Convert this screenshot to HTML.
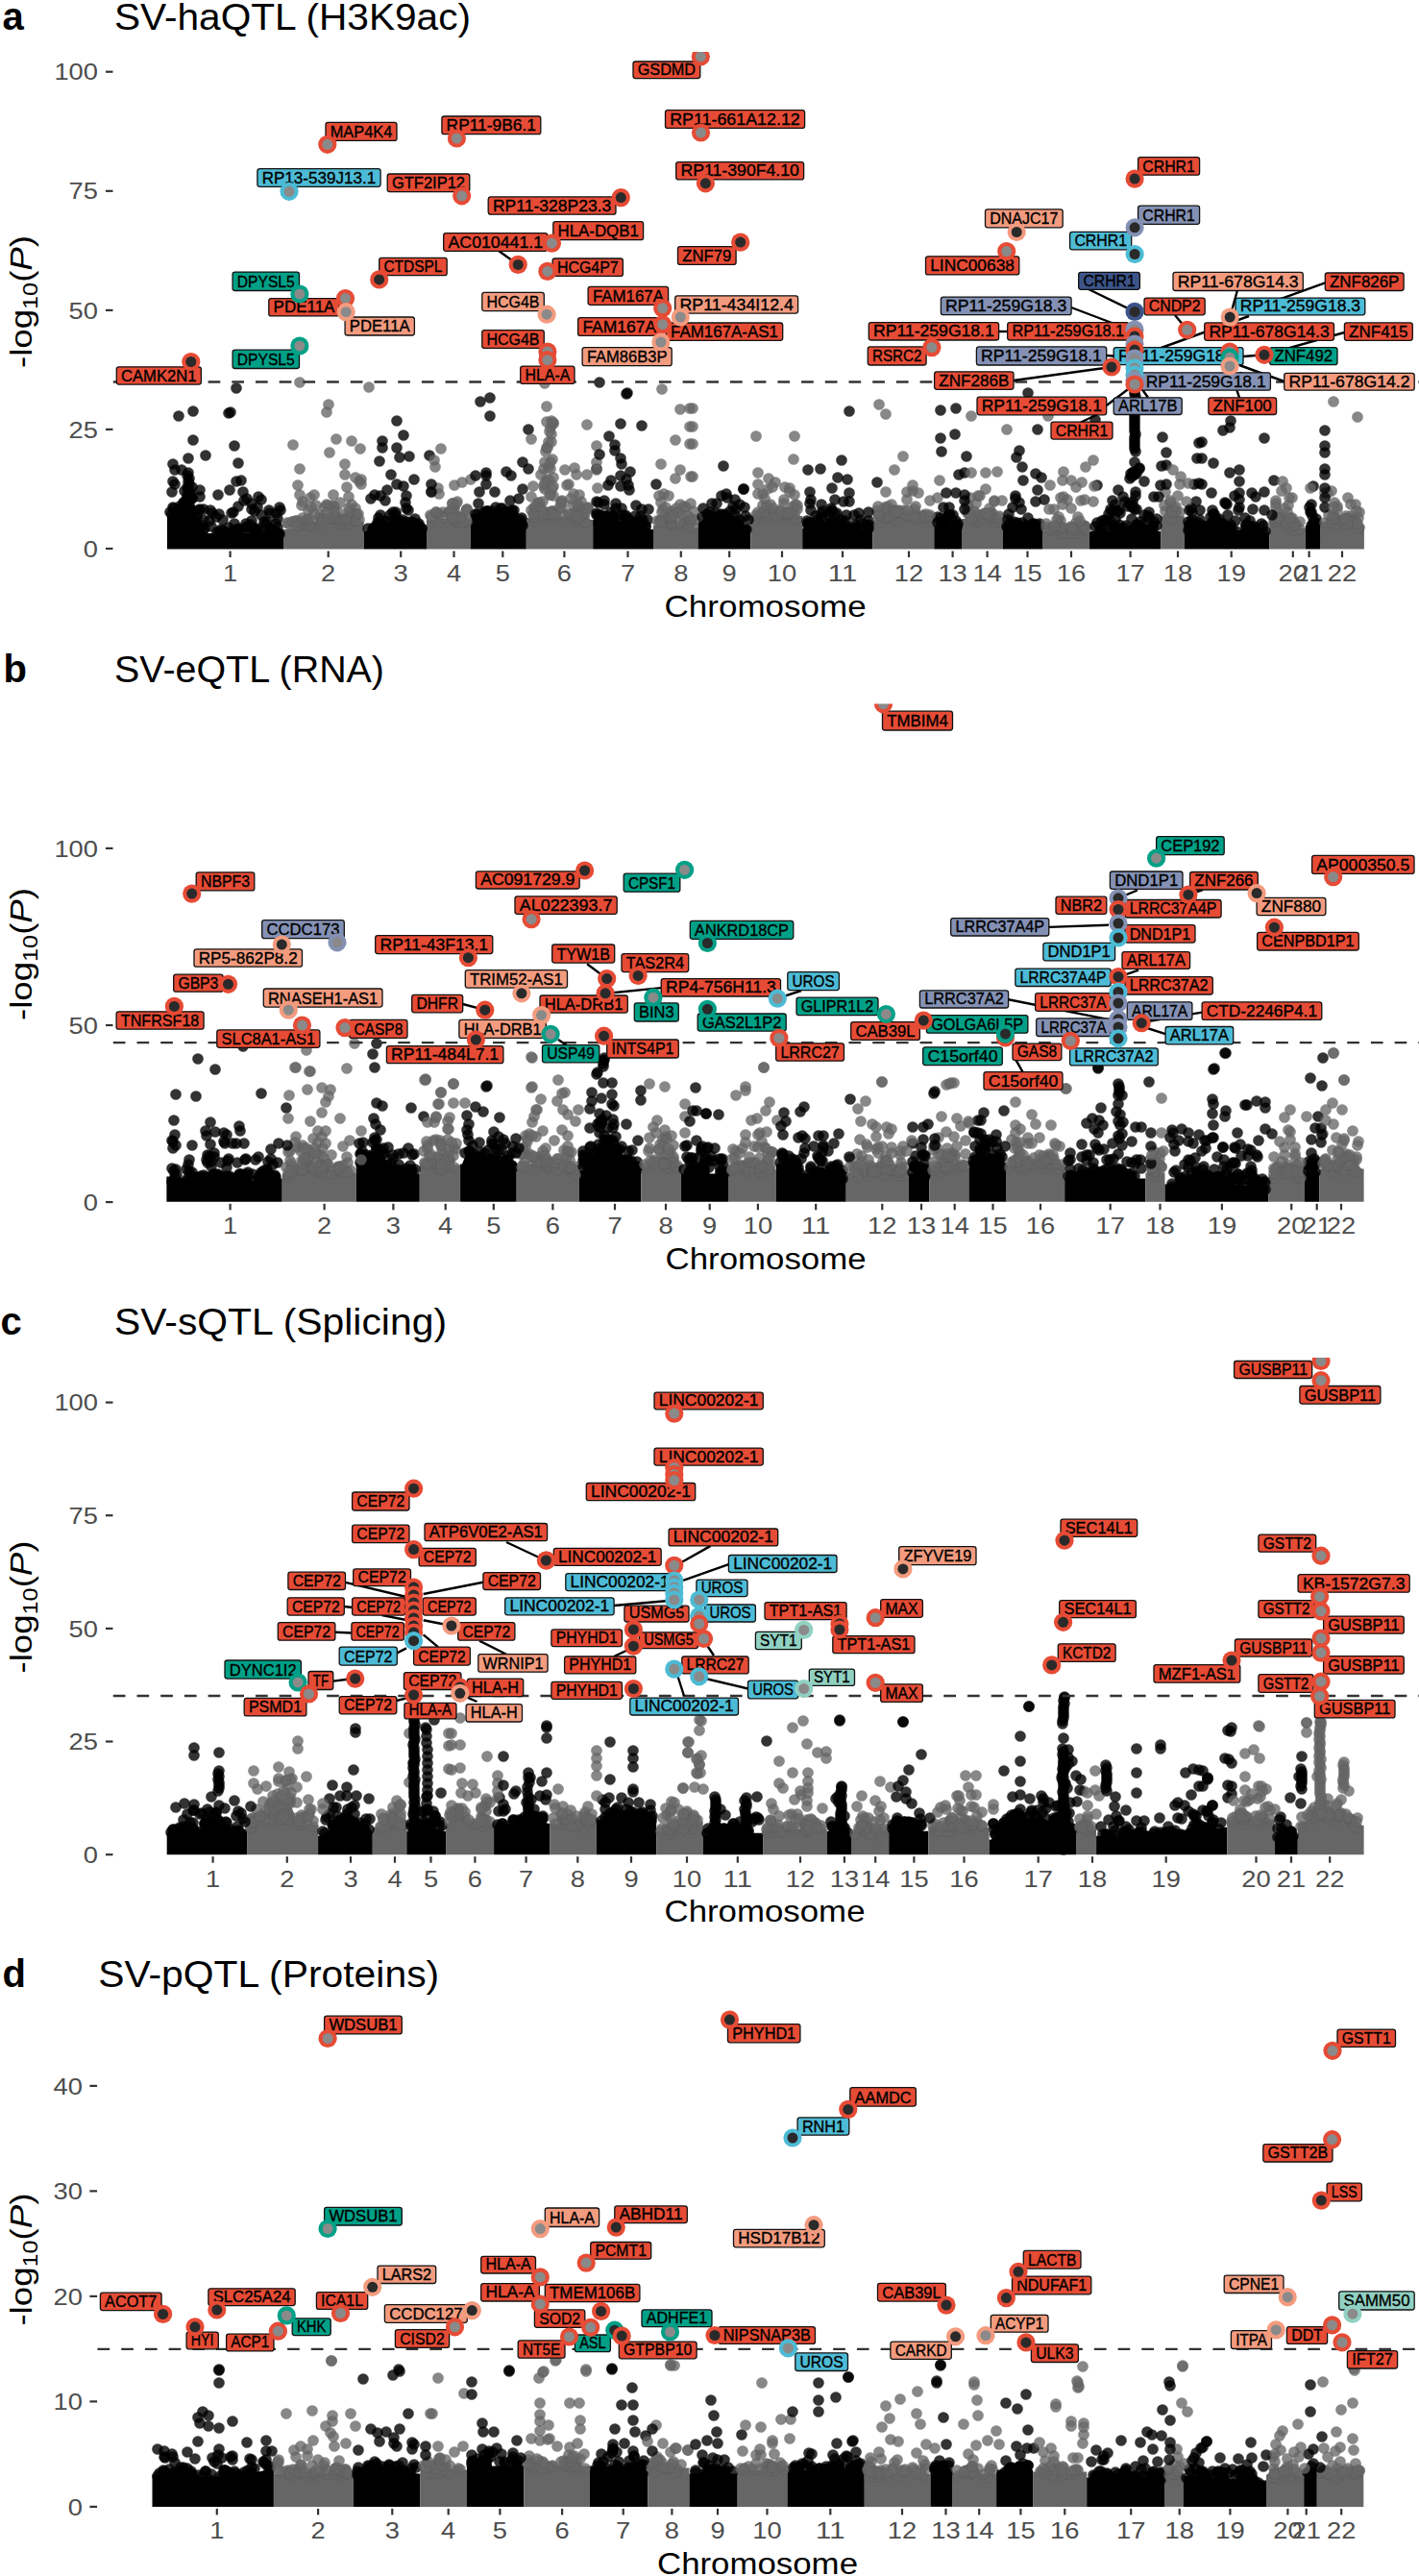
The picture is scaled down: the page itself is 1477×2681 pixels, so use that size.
<!DOCTYPE html><html><head><meta charset="utf-8"><style>html,body{margin:0;padding:0;background:#fff;overflow:hidden;}svg{display:block;}</style></head><body><svg width="1477" height="2681" viewBox="0 0 1477 2681" font-family="'Liberation Sans', sans-serif"><style>.k circle,.g circle{r:5.6px;stroke-width:.8px}.k{fill:#000;fill-opacity:.8;stroke:#000;stroke-opacity:.35}.g{fill:#666;fill-opacity:.78;stroke:#555;stroke-opacity:.35}</style><text x="2.5" y="30.6" font-size="40" fill="#000" font-weight="bold">a</text>
<text x="119.0" y="30.6" font-size="38" fill="#000" textLength="371.0" lengthAdjust="spacingAndGlyphs">SV-haQTL (H3K9ac)</text>
<line x1="110" y1="571.0" x2="117.5" y2="571.0" stroke="#333" stroke-width="2.2"/>
<text x="102.0" y="579.6" font-size="24.5" fill="#4D4D4D" text-anchor="end" textLength="15.2" lengthAdjust="spacingAndGlyphs">0</text>
<line x1="110" y1="446.9" x2="117.5" y2="446.9" stroke="#333" stroke-width="2.2"/>
<text x="102.0" y="455.5" font-size="24.5" fill="#4D4D4D" text-anchor="end" textLength="30.4" lengthAdjust="spacingAndGlyphs">25</text>
<line x1="110" y1="322.9" x2="117.5" y2="322.9" stroke="#333" stroke-width="2.2"/>
<text x="102.0" y="331.5" font-size="24.5" fill="#4D4D4D" text-anchor="end" textLength="30.4" lengthAdjust="spacingAndGlyphs">50</text>
<line x1="110" y1="198.8" x2="117.5" y2="198.8" stroke="#333" stroke-width="2.2"/>
<text x="102.0" y="207.4" font-size="24.5" fill="#4D4D4D" text-anchor="end" textLength="30.4" lengthAdjust="spacingAndGlyphs">75</text>
<line x1="110" y1="74.7" x2="117.5" y2="74.7" stroke="#333" stroke-width="2.2"/>
<text x="102.0" y="83.3" font-size="24.5" fill="#4D4D4D" text-anchor="end" textLength="45.6" lengthAdjust="spacingAndGlyphs">100</text>
<text transform="translate(32.6,314) rotate(-90)" font-size="32" fill="#000" text-anchor="middle" textLength="138" lengthAdjust="spacingAndGlyphs">-log<tspan font-size="22" dy="6">10</tspan><tspan dy="-6">(</tspan><tspan font-style="italic">P</tspan>)</text>
<line x1="239.6" y1="573.5" x2="239.6" y2="580.0" stroke="#333" stroke-width="2.2"/>
<text x="239.6" y="605.0" font-size="24.5" fill="#4D4D4D" text-anchor="middle" textLength="15.2" lengthAdjust="spacingAndGlyphs">1</text>
<line x1="341.7" y1="573.5" x2="341.7" y2="580.0" stroke="#333" stroke-width="2.2"/>
<text x="341.7" y="605.0" font-size="24.5" fill="#4D4D4D" text-anchor="middle" textLength="15.2" lengthAdjust="spacingAndGlyphs">2</text>
<line x1="417.2" y1="573.5" x2="417.2" y2="580.0" stroke="#333" stroke-width="2.2"/>
<text x="417.2" y="605.0" font-size="24.5" fill="#4D4D4D" text-anchor="middle" textLength="15.2" lengthAdjust="spacingAndGlyphs">3</text>
<line x1="472.5" y1="573.5" x2="472.5" y2="580.0" stroke="#333" stroke-width="2.2"/>
<text x="472.5" y="605.0" font-size="24.5" fill="#4D4D4D" text-anchor="middle" textLength="15.2" lengthAdjust="spacingAndGlyphs">4</text>
<line x1="523.3" y1="573.5" x2="523.3" y2="580.0" stroke="#333" stroke-width="2.2"/>
<text x="523.3" y="605.0" font-size="24.5" fill="#4D4D4D" text-anchor="middle" textLength="15.2" lengthAdjust="spacingAndGlyphs">5</text>
<line x1="587.4" y1="573.5" x2="587.4" y2="580.0" stroke="#333" stroke-width="2.2"/>
<text x="587.4" y="605.0" font-size="24.5" fill="#4D4D4D" text-anchor="middle" textLength="15.2" lengthAdjust="spacingAndGlyphs">6</text>
<line x1="653.5" y1="573.5" x2="653.5" y2="580.0" stroke="#333" stroke-width="2.2"/>
<text x="653.5" y="605.0" font-size="24.5" fill="#4D4D4D" text-anchor="middle" textLength="15.2" lengthAdjust="spacingAndGlyphs">7</text>
<line x1="708.8" y1="573.5" x2="708.8" y2="580.0" stroke="#333" stroke-width="2.2"/>
<text x="708.8" y="605.0" font-size="24.5" fill="#4D4D4D" text-anchor="middle" textLength="15.2" lengthAdjust="spacingAndGlyphs">8</text>
<line x1="759.2" y1="573.5" x2="759.2" y2="580.0" stroke="#333" stroke-width="2.2"/>
<text x="759.2" y="605.0" font-size="24.5" fill="#4D4D4D" text-anchor="middle" textLength="15.2" lengthAdjust="spacingAndGlyphs">9</text>
<line x1="814.0" y1="573.5" x2="814.0" y2="580.0" stroke="#333" stroke-width="2.2"/>
<text x="814.0" y="605.0" font-size="24.5" fill="#4D4D4D" text-anchor="middle" textLength="30.4" lengthAdjust="spacingAndGlyphs">10</text>
<line x1="877.0" y1="573.5" x2="877.0" y2="580.0" stroke="#333" stroke-width="2.2"/>
<text x="877.0" y="605.0" font-size="24.5" fill="#4D4D4D" text-anchor="middle" textLength="30.4" lengthAdjust="spacingAndGlyphs">11</text>
<line x1="946.0" y1="573.5" x2="946.0" y2="580.0" stroke="#333" stroke-width="2.2"/>
<text x="946.0" y="605.0" font-size="24.5" fill="#4D4D4D" text-anchor="middle" textLength="30.4" lengthAdjust="spacingAndGlyphs">12</text>
<line x1="991.6" y1="573.5" x2="991.6" y2="580.0" stroke="#333" stroke-width="2.2"/>
<text x="991.6" y="605.0" font-size="24.5" fill="#4D4D4D" text-anchor="middle" textLength="30.4" lengthAdjust="spacingAndGlyphs">13</text>
<line x1="1027.6" y1="573.5" x2="1027.6" y2="580.0" stroke="#333" stroke-width="2.2"/>
<text x="1027.6" y="605.0" font-size="24.5" fill="#4D4D4D" text-anchor="middle" textLength="30.4" lengthAdjust="spacingAndGlyphs">14</text>
<line x1="1069.5" y1="573.5" x2="1069.5" y2="580.0" stroke="#333" stroke-width="2.2"/>
<text x="1069.5" y="605.0" font-size="24.5" fill="#4D4D4D" text-anchor="middle" textLength="30.4" lengthAdjust="spacingAndGlyphs">15</text>
<line x1="1115.0" y1="573.5" x2="1115.0" y2="580.0" stroke="#333" stroke-width="2.2"/>
<text x="1115.0" y="605.0" font-size="24.5" fill="#4D4D4D" text-anchor="middle" textLength="30.4" lengthAdjust="spacingAndGlyphs">16</text>
<line x1="1176.6" y1="573.5" x2="1176.6" y2="580.0" stroke="#333" stroke-width="2.2"/>
<text x="1176.6" y="605.0" font-size="24.5" fill="#4D4D4D" text-anchor="middle" textLength="30.4" lengthAdjust="spacingAndGlyphs">17</text>
<line x1="1226.0" y1="573.5" x2="1226.0" y2="580.0" stroke="#333" stroke-width="2.2"/>
<text x="1226.0" y="605.0" font-size="24.5" fill="#4D4D4D" text-anchor="middle" textLength="30.4" lengthAdjust="spacingAndGlyphs">18</text>
<line x1="1281.7" y1="573.5" x2="1281.7" y2="580.0" stroke="#333" stroke-width="2.2"/>
<text x="1281.7" y="605.0" font-size="24.5" fill="#4D4D4D" text-anchor="middle" textLength="30.4" lengthAdjust="spacingAndGlyphs">19</text>
<line x1="1345.8" y1="573.5" x2="1345.8" y2="580.0" stroke="#333" stroke-width="2.2"/>
<text x="1345.8" y="605.0" font-size="24.5" fill="#4D4D4D" text-anchor="middle" textLength="30.4" lengthAdjust="spacingAndGlyphs">20</text>
<line x1="1362.6" y1="573.5" x2="1362.6" y2="580.0" stroke="#333" stroke-width="2.2"/>
<text x="1362.6" y="605.0" font-size="24.5" fill="#4D4D4D" text-anchor="middle" textLength="30.4" lengthAdjust="spacingAndGlyphs">21</text>
<line x1="1397.0" y1="573.5" x2="1397.0" y2="580.0" stroke="#333" stroke-width="2.2"/>
<text x="1397.0" y="605.0" font-size="24.5" fill="#4D4D4D" text-anchor="middle" textLength="30.4" lengthAdjust="spacingAndGlyphs">22</text>
<text x="691.6" y="642.0" font-size="31" fill="#000" textLength="210.0" lengthAdjust="spacingAndGlyphs">Chromosome</text>
<g><path d="M174.0,571.5 L174.0,537.1 L174.0,537.1 L176.0,537.1 L188.0,543.1 L192.0,522.1 L197.0,522.1 L201.0,547.1 L215.0,555.1 L240.0,555.1 L270.0,555.1 L292.0,551.1 L295.0,551.1 L295.0,551.1 L295.0,571.5Z" fill="#000"/><path d="M295.0,571.5 L295.0,551.1 L295.0,551.1 L297.0,551.1 L315.0,547.1 L330.0,543.1 L350.0,541.1 L375.0,543.1 L378.7,543.1 L378.7,543.1 L378.7,571.5Z" fill="#666"/><path d="M378.7,571.5 L378.7,553.1 L378.7,553.1 L381.0,553.1 L400.0,549.1 L420.0,549.1 L440.0,551.1 L444.0,551.1 L444.0,551.1 L444.0,571.5Z" fill="#000"/><path d="M444.0,571.5 L444.0,541.1 L444.0,541.1 L446.0,541.1 L470.0,539.1 L488.0,541.1 L489.7,541.1 L489.7,541.1 L489.7,571.5Z" fill="#666"/><path d="M489.7,571.5 L489.7,535.1 L489.7,535.1 L492.0,535.1 L510.0,539.1 L530.0,541.1 L546.0,543.1 L547.8,543.1 L547.8,543.1 L547.8,571.5Z" fill="#000"/><path d="M547.8,571.5 L547.8,539.1 L547.8,539.1 L550.0,539.1 L580.0,537.1 L600.0,539.1 L615.0,541.1 L617.2,541.1 L617.2,541.1 L617.2,571.5Z" fill="#666"/><path d="M617.2,571.5 L617.2,541.1 L617.2,541.1 L619.0,541.1 L640.0,541.1 L660.0,547.1 L678.0,551.1 L680.0,551.1 L680.0,551.1 L680.0,571.5Z" fill="#000"/><path d="M680.0,571.5 L680.0,547.1 L680.0,547.1 L682.0,547.1 L700.0,545.1 L724.0,549.1 L726.5,549.1 L726.5,549.1 L726.5,571.5Z" fill="#666"/><path d="M726.5,571.5 L726.5,543.1 L726.5,543.1 L728.0,543.1 L745.0,539.1 L760.0,545.1 L779.0,547.1 L781.3,547.1 L781.3,547.1 L781.3,571.5Z" fill="#000"/><path d="M781.3,571.5 L781.3,537.1 L781.3,537.1 L783.0,537.1 L833.0,537.1 L835.2,537.1 L835.2,537.1 L835.2,571.5Z" fill="#666"/><path d="M835.2,571.5 L835.2,550.1 L835.2,550.1 L837.0,550.1 L860.0,549.1 L880.0,550.1 L906.0,552.1 L908.2,552.1 L908.2,552.1 L908.2,571.5Z" fill="#000"/><path d="M908.2,571.5 L908.2,542.1 L908.2,542.1 L910.0,542.1 L940.0,537.1 L970.0,542.1 L972.3,542.1 L972.3,542.1 L972.3,571.5Z" fill="#666"/><path d="M972.3,571.5 L972.3,547.1 L972.3,547.1 L1001.0,547.1 L1001.0,547.1 L1001.0,571.5Z" fill="#000"/><path d="M1001.0,571.5 L1001.0,540.1 L1001.0,540.1 L1044.0,540.1 L1044.0,540.1 L1044.0,571.5Z" fill="#666"/><path d="M1044.0,571.5 L1044.0,550.1 L1044.0,550.1 L1085.6,550.1 L1085.6,550.1 L1085.6,571.5Z" fill="#000"/><path d="M1085.6,571.5 L1085.6,553.1 L1085.6,553.1 L1133.8,553.1 L1133.8,553.1 L1133.8,571.5Z" fill="#666"/><path d="M1133.8,571.5 L1133.8,553.1 L1133.8,553.1 L1208.2,553.1 L1208.2,553.1 L1208.2,571.5Z" fill="#000"/><path d="M1208.2,571.5 L1208.2,537.1 L1208.2,537.1 L1232.8,537.1 L1232.8,537.1 L1232.8,571.5Z" fill="#666"/><path d="M1232.8,571.5 L1232.8,549.1 L1232.8,549.1 L1235.0,549.1 L1280.0,551.1 L1319.0,555.1 L1321.2,555.1 L1321.2,555.1 L1321.2,571.5Z" fill="#000"/><path d="M1321.2,571.5 L1321.2,542.1 L1321.2,542.1 L1323.0,542.1 L1340.0,546.1 L1357.0,550.1 L1358.8,550.1 L1358.8,550.1 L1358.8,571.5Z" fill="#666"/><path d="M1358.8,571.5 L1358.8,547.1 L1358.8,547.1 L1374.0,547.1 L1374.0,547.1 L1374.0,571.5Z" fill="#000"/><path d="M1374.0,571.5 L1374.0,543.1 L1374.0,543.1 L1376.0,543.1 L1400.0,545.1 L1418.0,547.1 L1419.9,547.1 L1419.9,547.1 L1419.9,571.5Z" fill="#666"/></g>
<g class="k"><circle cx="229" cy="555"/><circle cx="283" cy="551"/><circle cx="235" cy="555"/><circle cx="198" cy="530"/><circle cx="249" cy="557"/><circle cx="188" cy="539"/><circle cx="188" cy="545"/><circle cx="257" cy="549"/><circle cx="290" cy="556"/><circle cx="252" cy="555"/><circle cx="195" cy="516"/><circle cx="238" cy="549"/><circle cx="199" cy="531"/><circle cx="181" cy="538"/><circle cx="228" cy="558"/><circle cx="237" cy="556"/><circle cx="234" cy="556"/><circle cx="230" cy="551"/><circle cx="291" cy="556"/><circle cx="273" cy="556"/><circle cx="213" cy="550"/><circle cx="210" cy="547"/><circle cx="265" cy="553"/><circle cx="274" cy="552"/><circle cx="287" cy="555"/><circle cx="177" cy="533"/><circle cx="281" cy="552"/><circle cx="289" cy="549"/><circle cx="186" cy="542"/><circle cx="266" cy="551"/><circle cx="187" cy="540"/><circle cx="288" cy="554"/><circle cx="191" cy="524"/><circle cx="189" cy="532"/><circle cx="268" cy="550"/><circle cx="241" cy="553"/><circle cx="199" cy="537"/><circle cx="192" cy="511"/><circle cx="191" cy="523"/><circle cx="202" cy="544"/><circle cx="288" cy="534"/><circle cx="212" cy="530"/><circle cx="201" cy="542"/><circle cx="275" cy="543"/><circle cx="189" cy="489"/><circle cx="202" cy="544"/><circle cx="266" cy="551"/><circle cx="211" cy="552"/><circle cx="188" cy="533"/><circle cx="205" cy="539"/><circle cx="220" cy="548"/><circle cx="287" cy="545"/><circle cx="243" cy="533"/><circle cx="198" cy="528"/><circle cx="281" cy="534"/><circle cx="206" cy="548"/><circle cx="262" cy="524"/><circle cx="200" cy="507"/><circle cx="278" cy="543"/><circle cx="226" cy="554"/><circle cx="182" cy="504"/><circle cx="205" cy="536"/><circle cx="207" cy="531"/><circle cx="246" cy="551"/><circle cx="197" cy="511"/><circle cx="185" cy="539"/><circle cx="241" cy="534"/><circle cx="248" cy="551"/><circle cx="282" cy="550"/><circle cx="179" cy="535"/><circle cx="228" cy="554"/><circle cx="198" cy="520"/><circle cx="243" cy="554"/><circle cx="219" cy="531"/><circle cx="289" cy="540"/><circle cx="256" cy="545"/><circle cx="193" cy="522"/><circle cx="179" cy="512"/><circle cx="257" cy="519"/><circle cx="180" cy="528"/><circle cx="232" cy="541"/><circle cx="214" cy="474"/><circle cx="186" cy="533"/><circle cx="262" cy="530"/><circle cx="262" cy="542"/><circle cx="268" cy="528"/><circle cx="218" cy="542"/><circle cx="280" cy="531"/><circle cx="225" cy="538"/><circle cx="276" cy="545"/><circle cx="249" cy="550"/><circle cx="244" cy="545"/><circle cx="187" cy="531"/><circle cx="291" cy="528"/><circle cx="261" cy="550"/><circle cx="261" cy="546"/><circle cx="228" cy="535"/><circle cx="187" cy="527"/><circle cx="181" cy="529"/><circle cx="232" cy="552"/><circle cx="257" cy="548"/><circle cx="248" cy="527"/><circle cx="207" cy="550"/><circle cx="212" cy="541"/></g>
<g class="g"><circle cx="314" cy="543"/><circle cx="368" cy="543"/><circle cx="332" cy="546"/><circle cx="324" cy="546"/><circle cx="314" cy="546"/><circle cx="360" cy="545"/><circle cx="366" cy="540"/><circle cx="343" cy="539"/><circle cx="309" cy="547"/><circle cx="363" cy="545"/><circle cx="353" cy="545"/><circle cx="320" cy="541"/><circle cx="333" cy="539"/><circle cx="315" cy="545"/><circle cx="347" cy="540"/><circle cx="323" cy="548"/><circle cx="374" cy="541"/><circle cx="304" cy="543"/><circle cx="366" cy="536"/><circle cx="353" cy="541"/><circle cx="322" cy="547"/><circle cx="300" cy="545"/><circle cx="333" cy="536"/><circle cx="362" cy="538"/><circle cx="309" cy="542"/><circle cx="347" cy="540"/><circle cx="347" cy="530"/><circle cx="361" cy="507"/><circle cx="351" cy="539"/><circle cx="335" cy="540"/><circle cx="299" cy="544"/><circle cx="353" cy="539"/><circle cx="319" cy="541"/><circle cx="352" cy="533"/><circle cx="346" cy="526"/><circle cx="329" cy="526"/><circle cx="368" cy="542"/><circle cx="370" cy="529"/><circle cx="308" cy="542"/><circle cx="347" cy="515"/><circle cx="327" cy="535"/><circle cx="366" cy="525"/><circle cx="371" cy="536"/><circle cx="348" cy="539"/><circle cx="354" cy="523"/><circle cx="348" cy="527"/><circle cx="315" cy="522"/><circle cx="374" cy="501"/><circle cx="340" cy="525"/><circle cx="323" cy="518"/><circle cx="364" cy="538"/><circle cx="305" cy="543"/><circle cx="341" cy="526"/><circle cx="336" cy="542"/><circle cx="361" cy="541"/><circle cx="360" cy="540"/><circle cx="324" cy="528"/><circle cx="309" cy="547"/><circle cx="338" cy="528"/><circle cx="363" cy="529"/><circle cx="371" cy="535"/><circle cx="371" cy="542"/><circle cx="315" cy="539"/><circle cx="321" cy="531"/><circle cx="348" cy="533"/><circle cx="363" cy="533"/><circle cx="322" cy="540"/><circle cx="363" cy="517"/><circle cx="314" cy="526"/><circle cx="373" cy="535"/><circle cx="342" cy="539"/><circle cx="340" cy="534"/></g>
<g class="k"><circle cx="418" cy="543"/><circle cx="439" cy="550"/><circle cx="406" cy="551"/><circle cx="415" cy="548"/><circle cx="423" cy="543"/><circle cx="414" cy="547"/><circle cx="438" cy="555"/><circle cx="398" cy="548"/><circle cx="389" cy="549"/><circle cx="430" cy="553"/><circle cx="410" cy="546"/><circle cx="393" cy="551"/><circle cx="436" cy="545"/><circle cx="428" cy="543"/><circle cx="393" cy="546"/><circle cx="422" cy="546"/><circle cx="403" cy="549"/><circle cx="388" cy="553"/><circle cx="389" cy="550"/><circle cx="397" cy="545"/><circle cx="413" cy="543"/><circle cx="404" cy="543"/><circle cx="413" cy="547"/><circle cx="394" cy="539"/><circle cx="419" cy="541"/><circle cx="432" cy="540"/><circle cx="432" cy="547"/><circle cx="425" cy="531"/><circle cx="435" cy="546"/><circle cx="401" cy="521"/><circle cx="395" cy="480"/><circle cx="434" cy="549"/><circle cx="396" cy="536"/><circle cx="397" cy="549"/><circle cx="431" cy="544"/><circle cx="428" cy="548"/><circle cx="406" cy="536"/><circle cx="383" cy="550"/><circle cx="422" cy="523"/><circle cx="439" cy="550"/><circle cx="412" cy="533"/><circle cx="412" cy="536"/><circle cx="393" cy="550"/><circle cx="388" cy="551"/><circle cx="414" cy="541"/><circle cx="415" cy="547"/><circle cx="393" cy="548"/><circle cx="431" cy="499"/><circle cx="436" cy="550"/><circle cx="386" cy="519"/><circle cx="409" cy="533"/><circle cx="401" cy="542"/><circle cx="412" cy="543"/><circle cx="417" cy="549"/><circle cx="423" cy="529"/><circle cx="393" cy="544"/></g>
<g class="g"><circle cx="476" cy="538"/><circle cx="455" cy="535"/><circle cx="467" cy="533"/><circle cx="482" cy="543"/><circle cx="475" cy="543"/><circle cx="472" cy="537"/><circle cx="471" cy="538"/><circle cx="486" cy="543"/><circle cx="457" cy="544"/><circle cx="476" cy="542"/><circle cx="479" cy="538"/><circle cx="482" cy="544"/><circle cx="474" cy="541"/><circle cx="477" cy="538"/><circle cx="476" cy="539"/><circle cx="461" cy="533"/><circle cx="448" cy="536"/><circle cx="472" cy="529"/><circle cx="456" cy="508"/><circle cx="473" cy="535"/><circle cx="473" cy="530"/><circle cx="468" cy="534"/><circle cx="486" cy="530"/><circle cx="475" cy="524"/><circle cx="486" cy="541"/><circle cx="471" cy="524"/><circle cx="457" cy="535"/><circle cx="449" cy="538"/><circle cx="462" cy="539"/><circle cx="457" cy="514"/><circle cx="469" cy="531"/><circle cx="485" cy="532"/><circle cx="486" cy="530"/><circle cx="479" cy="539"/><circle cx="471" cy="524"/><circle cx="449" cy="512"/><circle cx="454" cy="533"/><circle cx="454" cy="533"/><circle cx="471" cy="539"/></g>
<g class="k"><circle cx="542" cy="541"/><circle cx="520" cy="540"/><circle cx="512" cy="536"/><circle cx="527" cy="540"/><circle cx="508" cy="540"/><circle cx="508" cy="532"/><circle cx="506" cy="532"/><circle cx="501" cy="539"/><circle cx="513" cy="543"/><circle cx="532" cy="535"/><circle cx="544" cy="547"/><circle cx="497" cy="540"/><circle cx="515" cy="538"/><circle cx="543" cy="539"/><circle cx="520" cy="544"/><circle cx="530" cy="540"/><circle cx="543" cy="545"/><circle cx="524" cy="535"/><circle cx="525" cy="534"/><circle cx="504" cy="537"/><circle cx="520" cy="539"/><circle cx="516" cy="528"/><circle cx="516" cy="536"/><circle cx="523" cy="534"/><circle cx="533" cy="533"/><circle cx="544" cy="509"/><circle cx="531" cy="538"/><circle cx="499" cy="512"/><circle cx="533" cy="531"/><circle cx="512" cy="536"/><circle cx="528" cy="532"/><circle cx="523" cy="529"/><circle cx="532" cy="539"/><circle cx="506" cy="495"/><circle cx="540" cy="519"/><circle cx="495" cy="535"/><circle cx="507" cy="532"/><circle cx="525" cy="539"/><circle cx="521" cy="539"/><circle cx="498" cy="524"/><circle cx="521" cy="529"/><circle cx="512" cy="532"/><circle cx="504" cy="533"/><circle cx="531" cy="521"/><circle cx="497" cy="535"/><circle cx="535" cy="531"/><circle cx="533" cy="539"/><circle cx="515" cy="536"/><circle cx="535" cy="537"/><circle cx="527" cy="491"/></g>
<g class="g"><circle cx="572" cy="537"/><circle cx="598" cy="542"/><circle cx="578" cy="535"/><circle cx="557" cy="542"/><circle cx="556" cy="533"/><circle cx="587" cy="536"/><circle cx="594" cy="535"/><circle cx="600" cy="533"/><circle cx="565" cy="539"/><circle cx="556" cy="535"/><circle cx="597" cy="540"/><circle cx="569" cy="533"/><circle cx="574" cy="539"/><circle cx="574" cy="532"/><circle cx="596" cy="538"/><circle cx="609" cy="544"/><circle cx="608" cy="538"/><circle cx="601" cy="536"/><circle cx="571" cy="535"/><circle cx="610" cy="544"/><circle cx="567" cy="535"/><circle cx="574" cy="533"/><circle cx="576" cy="532"/><circle cx="563" cy="529"/><circle cx="601" cy="531"/><circle cx="604" cy="530"/><circle cx="562" cy="523"/><circle cx="606" cy="536"/><circle cx="553" cy="531"/><circle cx="585" cy="528"/><circle cx="612" cy="529"/><circle cx="602" cy="539"/><circle cx="585" cy="521"/><circle cx="556" cy="538"/><circle cx="597" cy="514"/><circle cx="556" cy="528"/><circle cx="560" cy="523"/><circle cx="592" cy="535"/><circle cx="565" cy="522"/><circle cx="584" cy="522"/><circle cx="576" cy="533"/><circle cx="612" cy="528"/><circle cx="582" cy="529"/><circle cx="596" cy="525"/><circle cx="609" cy="534"/><circle cx="603" cy="527"/><circle cx="605" cy="522"/><circle cx="603" cy="515"/><circle cx="611" cy="529"/><circle cx="584" cy="524"/><circle cx="601" cy="533"/><circle cx="578" cy="536"/><circle cx="598" cy="487"/><circle cx="575" cy="535"/><circle cx="564" cy="532"/><circle cx="569" cy="499"/><circle cx="555" cy="535"/><circle cx="558" cy="527"/><circle cx="600" cy="537"/></g>
<g class="k"><circle cx="624" cy="540"/><circle cx="653" cy="549"/><circle cx="623" cy="536"/><circle cx="631" cy="537"/><circle cx="634" cy="542"/><circle cx="654" cy="541"/><circle cx="631" cy="538"/><circle cx="630" cy="543"/><circle cx="638" cy="541"/><circle cx="666" cy="547"/><circle cx="635" cy="544"/><circle cx="672" cy="547"/><circle cx="651" cy="548"/><circle cx="648" cy="539"/><circle cx="623" cy="545"/><circle cx="666" cy="546"/><circle cx="650" cy="543"/><circle cx="636" cy="545"/><circle cx="657" cy="542"/><circle cx="621" cy="534"/><circle cx="641" cy="524"/><circle cx="661" cy="537"/><circle cx="629" cy="539"/><circle cx="639" cy="538"/><circle cx="669" cy="541"/><circle cx="656" cy="491"/><circle cx="636" cy="533"/><circle cx="629" cy="525"/><circle cx="621" cy="522"/><circle cx="668" cy="530"/><circle cx="625" cy="538"/><circle cx="661" cy="546"/><circle cx="647" cy="536"/><circle cx="674" cy="541"/><circle cx="669" cy="545"/><circle cx="665" cy="542"/><circle cx="672" cy="549"/><circle cx="667" cy="546"/><circle cx="651" cy="536"/><circle cx="629" cy="521"/><circle cx="638" cy="537"/><circle cx="625" cy="537"/><circle cx="647" cy="529"/><circle cx="641" cy="529"/><circle cx="626" cy="536"/><circle cx="646" cy="506"/><circle cx="667" cy="537"/><circle cx="621" cy="536"/><circle cx="660" cy="544"/><circle cx="652" cy="538"/><circle cx="621" cy="488"/><circle cx="665" cy="546"/><circle cx="655" cy="542"/></g>
<g class="g"><circle cx="698" cy="545"/><circle cx="695" cy="543"/><circle cx="699" cy="546"/><circle cx="694" cy="541"/><circle cx="712" cy="544"/><circle cx="721" cy="548"/><circle cx="712" cy="544"/><circle cx="716" cy="542"/><circle cx="689" cy="541"/><circle cx="710" cy="548"/><circle cx="691" cy="544"/><circle cx="717" cy="548"/><circle cx="687" cy="542"/><circle cx="690" cy="541"/><circle cx="700" cy="544"/><circle cx="720" cy="542"/><circle cx="704" cy="534"/><circle cx="714" cy="528"/><circle cx="699" cy="541"/><circle cx="700" cy="545"/><circle cx="699" cy="532"/><circle cx="722" cy="532"/><circle cx="710" cy="536"/><circle cx="684" cy="542"/><circle cx="697" cy="534"/><circle cx="688" cy="541"/><circle cx="704" cy="529"/><circle cx="716" cy="537"/><circle cx="690" cy="530"/><circle cx="719" cy="540"/><circle cx="697" cy="538"/><circle cx="689" cy="533"/><circle cx="723" cy="541"/><circle cx="712" cy="527"/><circle cx="691" cy="514"/><circle cx="708" cy="544"/><circle cx="687" cy="543"/><circle cx="706" cy="533"/><circle cx="696" cy="516"/></g>
<g class="k"><circle cx="747" cy="538"/><circle cx="736" cy="545"/><circle cx="736" cy="545"/><circle cx="756" cy="543"/><circle cx="757" cy="540"/><circle cx="774" cy="551"/><circle cx="769" cy="546"/><circle cx="736" cy="544"/><circle cx="744" cy="543"/><circle cx="741" cy="540"/><circle cx="770" cy="541"/><circle cx="756" cy="538"/><circle cx="731" cy="538"/><circle cx="777" cy="551"/><circle cx="762" cy="542"/><circle cx="762" cy="547"/><circle cx="748" cy="540"/><circle cx="769" cy="546"/><circle cx="739" cy="533"/><circle cx="737" cy="536"/><circle cx="757" cy="542"/><circle cx="755" cy="540"/><circle cx="757" cy="540"/><circle cx="761" cy="545"/><circle cx="762" cy="544"/><circle cx="776" cy="537"/><circle cx="752" cy="536"/><circle cx="760" cy="532"/><circle cx="766" cy="530"/><circle cx="753" cy="485"/><circle cx="770" cy="525"/><circle cx="750" cy="535"/><circle cx="757" cy="518"/><circle cx="755" cy="535"/><circle cx="751" cy="516"/><circle cx="745" cy="539"/><circle cx="765" cy="520"/><circle cx="765" cy="536"/><circle cx="766" cy="542"/><circle cx="758" cy="544"/><circle cx="736" cy="535"/><circle cx="754" cy="537"/><circle cx="732" cy="529"/><circle cx="755" cy="540"/><circle cx="745" cy="534"/><circle cx="741" cy="539"/><circle cx="774" cy="509"/></g>
<g class="g"><circle cx="816" cy="540"/><circle cx="805" cy="539"/><circle cx="795" cy="539"/><circle cx="811" cy="540"/><circle cx="789" cy="539"/><circle cx="791" cy="536"/><circle cx="830" cy="530"/><circle cx="796" cy="534"/><circle cx="800" cy="531"/><circle cx="827" cy="540"/><circle cx="803" cy="534"/><circle cx="812" cy="531"/><circle cx="786" cy="540"/><circle cx="799" cy="536"/><circle cx="829" cy="541"/><circle cx="807" cy="533"/><circle cx="799" cy="509"/><circle cx="827" cy="535"/><circle cx="824" cy="532"/><circle cx="807" cy="535"/><circle cx="826" cy="478"/><circle cx="794" cy="526"/><circle cx="794" cy="514"/><circle cx="787" cy="536"/><circle cx="819" cy="533"/><circle cx="827" cy="515"/><circle cx="818" cy="536"/><circle cx="817" cy="507"/><circle cx="806" cy="536"/><circle cx="795" cy="533"/><circle cx="818" cy="535"/><circle cx="793" cy="534"/><circle cx="816" cy="520"/><circle cx="802" cy="525"/><circle cx="826" cy="527"/><circle cx="795" cy="533"/><circle cx="828" cy="525"/><circle cx="798" cy="526"/><circle cx="789" cy="492"/><circle cx="805" cy="529"/><circle cx="810" cy="537"/><circle cx="813" cy="533"/><circle cx="796" cy="519"/><circle cx="789" cy="533"/><circle cx="820" cy="534"/></g>
<g class="k"><circle cx="857" cy="549"/><circle cx="851" cy="553"/><circle cx="904" cy="546"/><circle cx="869" cy="551"/><circle cx="864" cy="553"/><circle cx="872" cy="545"/><circle cx="875" cy="550"/><circle cx="862" cy="550"/><circle cx="890" cy="550"/><circle cx="872" cy="552"/><circle cx="884" cy="550"/><circle cx="902" cy="547"/><circle cx="890" cy="546"/><circle cx="879" cy="546"/><circle cx="868" cy="551"/><circle cx="891" cy="553"/><circle cx="854" cy="548"/><circle cx="853" cy="549"/><circle cx="872" cy="543"/><circle cx="878" cy="551"/><circle cx="877" cy="553"/><circle cx="850" cy="544"/><circle cx="840" cy="542"/><circle cx="867" cy="543"/><circle cx="856" cy="532"/><circle cx="843" cy="524"/><circle cx="876" cy="541"/><circle cx="891" cy="548"/><circle cx="848" cy="546"/><circle cx="841" cy="546"/><circle cx="880" cy="542"/><circle cx="856" cy="539"/><circle cx="844" cy="531"/><circle cx="850" cy="546"/><circle cx="849" cy="537"/><circle cx="894" cy="534"/><circle cx="843" cy="544"/><circle cx="863" cy="547"/><circle cx="903" cy="551"/><circle cx="871" cy="534"/><circle cx="904" cy="550"/><circle cx="869" cy="535"/><circle cx="841" cy="547"/><circle cx="898" cy="550"/><circle cx="865" cy="545"/><circle cx="867" cy="549"/><circle cx="841" cy="489"/><circle cx="889" cy="536"/><circle cx="854" cy="546"/><circle cx="875" cy="547"/><circle cx="869" cy="520"/><circle cx="863" cy="545"/><circle cx="904" cy="542"/><circle cx="841" cy="544"/><circle cx="882" cy="550"/><circle cx="861" cy="536"/><circle cx="896" cy="541"/><circle cx="897" cy="545"/><circle cx="865" cy="529"/><circle cx="864" cy="533"/><circle cx="853" cy="545"/><circle cx="851" cy="541"/></g>
<g class="g"><circle cx="921" cy="536"/><circle cx="924" cy="538"/><circle cx="929" cy="537"/><circle cx="969" cy="543"/><circle cx="961" cy="536"/><circle cx="934" cy="532"/><circle cx="951" cy="536"/><circle cx="927" cy="533"/><circle cx="922" cy="536"/><circle cx="934" cy="542"/><circle cx="953" cy="535"/><circle cx="932" cy="533"/><circle cx="965" cy="539"/><circle cx="955" cy="541"/><circle cx="964" cy="535"/><circle cx="930" cy="536"/><circle cx="916" cy="544"/><circle cx="930" cy="541"/><circle cx="941" cy="531"/><circle cx="934" cy="534"/><circle cx="914" cy="540"/><circle cx="946" cy="538"/><circle cx="929" cy="533"/><circle cx="943" cy="536"/><circle cx="952" cy="536"/><circle cx="953" cy="527"/><circle cx="920" cy="538"/><circle cx="928" cy="525"/><circle cx="935" cy="533"/><circle cx="961" cy="538"/><circle cx="928" cy="534"/><circle cx="924" cy="539"/><circle cx="913" cy="531"/><circle cx="944" cy="520"/><circle cx="968" cy="538"/><circle cx="950" cy="511"/><circle cx="924" cy="527"/><circle cx="950" cy="505"/><circle cx="961" cy="538"/><circle cx="948" cy="537"/><circle cx="936" cy="532"/><circle cx="915" cy="536"/><circle cx="930" cy="531"/><circle cx="928" cy="537"/><circle cx="935" cy="531"/><circle cx="921" cy="528"/><circle cx="925" cy="538"/><circle cx="931" cy="533"/><circle cx="920" cy="531"/><circle cx="952" cy="530"/><circle cx="952" cy="539"/><circle cx="934" cy="533"/><circle cx="915" cy="536"/><circle cx="915" cy="534"/><circle cx="945" cy="531"/></g>
<g class="k"><circle cx="983" cy="543"/><circle cx="976" cy="544"/><circle cx="995" cy="547"/><circle cx="981" cy="548"/><circle cx="980" cy="546"/><circle cx="989" cy="551"/><circle cx="984" cy="547"/><circle cx="996" cy="549"/><circle cx="989" cy="536"/><circle cx="985" cy="541"/><circle cx="982" cy="528"/><circle cx="995" cy="542"/><circle cx="996" cy="547"/><circle cx="979" cy="539"/><circle cx="982" cy="542"/><circle cx="997" cy="545"/><circle cx="980" cy="544"/><circle cx="991" cy="544"/><circle cx="976" cy="538"/><circle cx="984" cy="544"/><circle cx="987" cy="536"/><circle cx="988" cy="536"/><circle cx="988" cy="528"/></g>
<g class="g"><circle cx="1040" cy="537"/><circle cx="1017" cy="543"/><circle cx="1016" cy="541"/><circle cx="1030" cy="541"/><circle cx="1039" cy="543"/><circle cx="1010" cy="540"/><circle cx="1022" cy="540"/><circle cx="1018" cy="537"/><circle cx="1032" cy="539"/><circle cx="1013" cy="536"/><circle cx="1016" cy="535"/><circle cx="1023" cy="535"/><circle cx="1007" cy="534"/><circle cx="1008" cy="527"/><circle cx="1008" cy="533"/><circle cx="1032" cy="533"/><circle cx="1010" cy="518"/><circle cx="1036" cy="539"/><circle cx="1014" cy="532"/><circle cx="1033" cy="535"/><circle cx="1030" cy="537"/><circle cx="1030" cy="536"/><circle cx="1016" cy="524"/><circle cx="1035" cy="521"/><circle cx="1025" cy="534"/><circle cx="1030" cy="529"/><circle cx="1035" cy="522"/><circle cx="1009" cy="535"/><circle cx="1029" cy="537"/><circle cx="1011" cy="540"/><circle cx="1026" cy="509"/><circle cx="1040" cy="539"/><circle cx="1029" cy="534"/><circle cx="1027" cy="535"/><circle cx="1038" cy="491"/><circle cx="1006" cy="526"/></g>
<g class="k"><circle cx="1051" cy="544"/><circle cx="1057" cy="552"/><circle cx="1082" cy="545"/><circle cx="1059" cy="544"/><circle cx="1066" cy="549"/><circle cx="1060" cy="547"/><circle cx="1075" cy="553"/><circle cx="1057" cy="548"/><circle cx="1069" cy="552"/><circle cx="1082" cy="548"/><circle cx="1072" cy="549"/><circle cx="1075" cy="545"/><circle cx="1053" cy="549"/><circle cx="1080" cy="547"/><circle cx="1064" cy="549"/><circle cx="1059" cy="550"/><circle cx="1067" cy="548"/><circle cx="1069" cy="547"/><circle cx="1055" cy="543"/><circle cx="1060" cy="547"/><circle cx="1049" cy="549"/><circle cx="1078" cy="546"/><circle cx="1050" cy="548"/><circle cx="1064" cy="486"/><circle cx="1054" cy="528"/><circle cx="1064" cy="544"/><circle cx="1076" cy="545"/><circle cx="1049" cy="541"/><circle cx="1070" cy="539"/><circle cx="1057" cy="519"/><circle cx="1078" cy="493"/><circle cx="1063" cy="530"/><circle cx="1073" cy="548"/><circle cx="1048" cy="548"/><circle cx="1052" cy="549"/></g>
<g class="g"><circle cx="1104" cy="555"/><circle cx="1102" cy="552"/><circle cx="1089" cy="549"/><circle cx="1129" cy="547"/><circle cx="1111" cy="555"/><circle cx="1122" cy="555"/><circle cx="1106" cy="555"/><circle cx="1123" cy="555"/><circle cx="1130" cy="548"/><circle cx="1128" cy="551"/><circle cx="1118" cy="549"/><circle cx="1127" cy="547"/><circle cx="1113" cy="549"/><circle cx="1105" cy="551"/><circle cx="1116" cy="555"/><circle cx="1104" cy="542"/><circle cx="1104" cy="549"/><circle cx="1127" cy="549"/><circle cx="1093" cy="549"/><circle cx="1120" cy="550"/><circle cx="1120" cy="544"/><circle cx="1117" cy="551"/><circle cx="1093" cy="551"/><circle cx="1103" cy="547"/><circle cx="1089" cy="545"/><circle cx="1106" cy="549"/><circle cx="1111" cy="520"/><circle cx="1097" cy="530"/><circle cx="1102" cy="538"/><circle cx="1093" cy="505"/><circle cx="1107" cy="517"/><circle cx="1098" cy="547"/><circle cx="1118" cy="551"/><circle cx="1100" cy="541"/><circle cx="1128" cy="549"/><circle cx="1097" cy="548"/><circle cx="1130" cy="551"/><circle cx="1115" cy="548"/><circle cx="1116" cy="550"/><circle cx="1115" cy="529"/><circle cx="1124" cy="542"/></g>
<g class="k"><circle cx="1171" cy="553"/><circle cx="1145" cy="556"/><circle cx="1184" cy="551"/><circle cx="1182" cy="551"/><circle cx="1163" cy="549"/><circle cx="1178" cy="553"/><circle cx="1172" cy="547"/><circle cx="1180" cy="551"/><circle cx="1177" cy="553"/><circle cx="1200" cy="548"/><circle cx="1169" cy="558"/><circle cx="1187" cy="550"/><circle cx="1187" cy="557"/><circle cx="1164" cy="556"/><circle cx="1146" cy="557"/><circle cx="1170" cy="549"/><circle cx="1194" cy="554"/><circle cx="1201" cy="556"/><circle cx="1191" cy="552"/><circle cx="1204" cy="547"/><circle cx="1196" cy="554"/><circle cx="1154" cy="555"/><circle cx="1168" cy="552"/><circle cx="1196" cy="551"/><circle cx="1156" cy="542"/><circle cx="1142" cy="544"/><circle cx="1190" cy="546"/><circle cx="1154" cy="535"/><circle cx="1195" cy="537"/><circle cx="1174" cy="527"/><circle cx="1191" cy="551"/><circle cx="1162" cy="552"/><circle cx="1140" cy="548"/><circle cx="1196" cy="533"/><circle cx="1145" cy="551"/><circle cx="1163" cy="532"/><circle cx="1179" cy="528"/><circle cx="1142" cy="505"/><circle cx="1151" cy="542"/><circle cx="1196" cy="539"/><circle cx="1150" cy="541"/><circle cx="1166" cy="553"/><circle cx="1160" cy="549"/><circle cx="1180" cy="550"/><circle cx="1178" cy="540"/><circle cx="1149" cy="552"/><circle cx="1184" cy="546"/><circle cx="1146" cy="552"/><circle cx="1201" cy="543"/><circle cx="1161" cy="551"/><circle cx="1204" cy="540"/><circle cx="1187" cy="548"/><circle cx="1158" cy="547"/><circle cx="1147" cy="542"/><circle cx="1166" cy="534"/><circle cx="1165" cy="546"/><circle cx="1171" cy="522"/><circle cx="1161" cy="540"/><circle cx="1153" cy="544"/><circle cx="1156" cy="530"/><circle cx="1157" cy="532"/><circle cx="1183" cy="546"/><circle cx="1200" cy="548"/><circle cx="1187" cy="543"/></g>
<g class="g"><circle cx="1220" cy="531"/><circle cx="1219" cy="534"/><circle cx="1219" cy="541"/><circle cx="1217" cy="538"/><circle cx="1224" cy="533"/><circle cx="1219" cy="532"/><circle cx="1228" cy="533"/><circle cx="1219" cy="533"/><circle cx="1226" cy="516"/><circle cx="1222" cy="528"/><circle cx="1213" cy="512"/><circle cx="1213" cy="532"/><circle cx="1218" cy="523"/><circle cx="1224" cy="532"/><circle cx="1228" cy="504"/><circle cx="1212" cy="526"/><circle cx="1220" cy="532"/><circle cx="1220" cy="533"/><circle cx="1224" cy="527"/><circle cx="1229" cy="496"/></g>
<g class="k"><circle cx="1317" cy="553"/><circle cx="1304" cy="554"/><circle cx="1293" cy="557"/><circle cx="1242" cy="548"/><circle cx="1269" cy="551"/><circle cx="1254" cy="554"/><circle cx="1253" cy="547"/><circle cx="1248" cy="547"/><circle cx="1297" cy="547"/><circle cx="1250" cy="550"/><circle cx="1287" cy="553"/><circle cx="1257" cy="552"/><circle cx="1296" cy="555"/><circle cx="1246" cy="548"/><circle cx="1237" cy="552"/><circle cx="1313" cy="558"/><circle cx="1238" cy="546"/><circle cx="1280" cy="550"/><circle cx="1245" cy="552"/><circle cx="1261" cy="549"/><circle cx="1246" cy="549"/><circle cx="1247" cy="544"/><circle cx="1278" cy="548"/><circle cx="1300" cy="549"/><circle cx="1270" cy="545"/><circle cx="1254" cy="548"/><circle cx="1282" cy="550"/><circle cx="1306" cy="553"/><circle cx="1306" cy="552"/><circle cx="1315" cy="547"/><circle cx="1269" cy="540"/><circle cx="1307" cy="517"/><circle cx="1270" cy="551"/><circle cx="1249" cy="531"/><circle cx="1296" cy="539"/><circle cx="1249" cy="541"/><circle cx="1238" cy="548"/><circle cx="1261" cy="513"/><circle cx="1289" cy="531"/><circle cx="1240" cy="543"/><circle cx="1243" cy="546"/><circle cx="1245" cy="522"/><circle cx="1263" cy="543"/><circle cx="1290" cy="528"/><circle cx="1313" cy="545"/><circle cx="1277" cy="525"/><circle cx="1268" cy="547"/><circle cx="1297" cy="550"/><circle cx="1266" cy="544"/><circle cx="1275" cy="546"/><circle cx="1271" cy="544"/><circle cx="1240" cy="529"/><circle cx="1241" cy="541"/><circle cx="1281" cy="546"/><circle cx="1254" cy="549"/><circle cx="1267" cy="546"/><circle cx="1276" cy="548"/><circle cx="1297" cy="546"/><circle cx="1237" cy="543"/><circle cx="1315" cy="555"/><circle cx="1285" cy="516"/><circle cx="1266" cy="540"/><circle cx="1266" cy="547"/><circle cx="1286" cy="542"/><circle cx="1262" cy="543"/><circle cx="1278" cy="536"/><circle cx="1240" cy="548"/><circle cx="1257" cy="547"/><circle cx="1301" cy="547"/><circle cx="1306" cy="548"/><circle cx="1260" cy="538"/><circle cx="1243" cy="504"/><circle cx="1304" cy="549"/><circle cx="1262" cy="531"/><circle cx="1301" cy="542"/><circle cx="1241" cy="533"/></g>
<g class="g"><circle cx="1326" cy="543"/><circle cx="1342" cy="550"/><circle cx="1344" cy="541"/><circle cx="1353" cy="551"/><circle cx="1342" cy="540"/><circle cx="1347" cy="546"/><circle cx="1346" cy="552"/><circle cx="1353" cy="543"/><circle cx="1349" cy="546"/><circle cx="1348" cy="545"/><circle cx="1338" cy="544"/><circle cx="1328" cy="539"/><circle cx="1347" cy="547"/><circle cx="1328" cy="524"/><circle cx="1345" cy="539"/><circle cx="1328" cy="542"/><circle cx="1334" cy="511"/><circle cx="1342" cy="518"/><circle cx="1331" cy="538"/><circle cx="1341" cy="526"/><circle cx="1328" cy="521"/><circle cx="1339" cy="546"/><circle cx="1338" cy="540"/><circle cx="1345" cy="518"/><circle cx="1340" cy="533"/><circle cx="1337" cy="529"/><circle cx="1328" cy="528"/><circle cx="1330" cy="534"/><circle cx="1331" cy="539"/><circle cx="1330" cy="539"/><circle cx="1343" cy="539"/></g>
<g class="k"><circle cx="1365" cy="547"/><circle cx="1369" cy="544"/><circle cx="1367" cy="546"/><circle cx="1370" cy="544"/><circle cx="1368" cy="544"/><circle cx="1364" cy="533"/><circle cx="1367" cy="544"/><circle cx="1363" cy="528"/><circle cx="1365" cy="533"/><circle cx="1366" cy="537"/><circle cx="1367" cy="506"/><circle cx="1370" cy="540"/></g>
<g class="g"><circle cx="1396" cy="541"/><circle cx="1407" cy="540"/><circle cx="1389" cy="547"/><circle cx="1379" cy="544"/><circle cx="1400" cy="545"/><circle cx="1390" cy="539"/><circle cx="1415" cy="549"/><circle cx="1409" cy="540"/><circle cx="1408" cy="542"/><circle cx="1385" cy="543"/><circle cx="1401" cy="540"/><circle cx="1407" cy="546"/><circle cx="1413" cy="550"/><circle cx="1404" cy="543"/><circle cx="1415" cy="533"/><circle cx="1389" cy="523"/><circle cx="1406" cy="542"/><circle cx="1387" cy="544"/><circle cx="1398" cy="542"/><circle cx="1389" cy="541"/><circle cx="1383" cy="536"/><circle cx="1388" cy="540"/><circle cx="1388" cy="536"/><circle cx="1412" cy="544"/><circle cx="1411" cy="525"/><circle cx="1401" cy="537"/><circle cx="1406" cy="537"/><circle cx="1403" cy="518"/><circle cx="1408" cy="543"/><circle cx="1379" cy="513"/><circle cx="1392" cy="527"/><circle cx="1387" cy="537"/><circle cx="1392" cy="530"/><circle cx="1414" cy="539"/><circle cx="1400" cy="540"/><circle cx="1386" cy="511"/><circle cx="1382" cy="513"/><circle cx="1403" cy="545"/><circle cx="1413" cy="545"/></g>
<g class="k"><circle cx="186" cy="433"/><circle cx="201" cy="428"/><circle cx="201" cy="458"/><circle cx="196" cy="477"/><circle cx="180" cy="483"/><circle cx="182" cy="489"/><circle cx="180" cy="501"/><circle cx="246" cy="404"/><circle cx="238" cy="430"/><circle cx="240" cy="429"/><circle cx="244" cy="464"/><circle cx="248" cy="482"/><circle cx="246" cy="501"/><circle cx="251" cy="500"/><circle cx="227" cy="515"/><circle cx="239" cy="510"/><circle cx="253" cy="512"/><circle cx="254" cy="521"/><circle cx="269" cy="517"/><circle cx="272" cy="520"/><circle cx="208" cy="510"/><circle cx="208" cy="517"/><circle cx="208" cy="530"/><circle cx="221" cy="534"/><circle cx="265" cy="532"/><circle cx="272" cy="536"/><circle cx="292" cy="531"/></g>
<g class="g"><circle cx="312" cy="398"/><circle cx="384" cy="403"/><circle cx="342" cy="421"/><circle cx="340" cy="429"/><circle cx="305" cy="463"/><circle cx="350" cy="457"/><circle cx="366" cy="459"/><circle cx="375" cy="467"/><circle cx="343" cy="471"/><circle cx="312" cy="488"/><circle cx="359" cy="483"/><circle cx="359" cy="494"/><circle cx="370" cy="497"/><circle cx="376" cy="499"/><circle cx="376" cy="504"/><circle cx="310" cy="505"/><circle cx="312" cy="515"/><circle cx="327" cy="515"/></g>
<g class="k"><circle cx="413" cy="438"/><circle cx="420" cy="453"/><circle cx="398" cy="459"/><circle cx="398" cy="466"/><circle cx="413" cy="466"/><circle cx="416" cy="476"/><circle cx="426" cy="475"/><circle cx="407" cy="494"/><circle cx="390" cy="515"/><circle cx="396" cy="516"/><circle cx="403" cy="510"/><circle cx="413" cy="504"/><circle cx="420" cy="506"/><circle cx="423" cy="516"/><circle cx="447" cy="474"/><circle cx="449" cy="504"/><circle cx="449" cy="512"/></g>
<g class="g"><circle cx="459" cy="467"/><circle cx="452" cy="479"/><circle cx="453" cy="486"/><circle cx="473" cy="505"/><circle cx="481" cy="502"/><circle cx="490" cy="499"/><circle cx="476" cy="522"/></g>
<g class="k"><circle cx="500" cy="418"/><circle cx="510" cy="414"/><circle cx="510" cy="433"/><circle cx="495" cy="495"/><circle cx="506" cy="492"/><circle cx="506" cy="504"/><circle cx="515" cy="512"/><circle cx="532" cy="495"/><circle cx="544" cy="481"/><circle cx="550" cy="488"/><circle cx="550" cy="447"/></g>
<g class="g"><circle cx="567" cy="399"/><circle cx="569" cy="423"/><circle cx="553" cy="457"/><circle cx="555" cy="506"/><circle cx="553" cy="517"/><circle cx="563" cy="494"/><circle cx="588" cy="489"/><circle cx="592" cy="504"/><circle cx="590" cy="505"/><circle cx="600" cy="494"/><circle cx="611" cy="494"/><circle cx="611" cy="442"/><circle cx="621" cy="464"/><circle cx="621" cy="481"/><circle cx="621" cy="489"/><circle cx="622" cy="508"/><circle cx="594" cy="519"/><circle cx="601" cy="525"/><circle cx="573" cy="445"/><circle cx="574" cy="452"/><circle cx="571" cy="460"/><circle cx="568" cy="470"/><circle cx="575" cy="478"/><circle cx="566" cy="488"/><circle cx="576" cy="497"/></g>
<g class="k"><circle cx="624" cy="398"/><circle cx="652" cy="410"/><circle cx="646" cy="441"/><circle cx="668" cy="443"/><circle cx="634" cy="454"/><circle cx="640" cy="463"/><circle cx="640" cy="469"/><circle cx="624" cy="473"/><circle cx="646" cy="477"/><circle cx="647" cy="483"/><circle cx="646" cy="495"/><circle cx="652" cy="499"/><circle cx="654" cy="505"/><circle cx="655" cy="510"/><circle cx="636" cy="500"/><circle cx="633" cy="505"/><circle cx="683" cy="504"/><circle cx="662" cy="526"/><circle cx="675" cy="530"/><circle cx="623" cy="523"/><circle cx="653" cy="409"/></g>
<g class="g"><circle cx="689" cy="405"/><circle cx="708" cy="426"/><circle cx="718" cy="425"/><circle cx="718" cy="444"/><circle cx="703" cy="458"/><circle cx="718" cy="462"/><circle cx="688" cy="483"/><circle cx="708" cy="489"/><circle cx="703" cy="498"/><circle cx="719" cy="496"/><circle cx="686" cy="516"/><circle cx="688" cy="523"/><circle cx="693" cy="528"/><circle cx="708" cy="525"/><circle cx="719" cy="524"/><circle cx="700" cy="537"/><circle cx="721" cy="425"/><circle cx="721" cy="444"/><circle cx="721" cy="462"/><circle cx="721" cy="496"/></g>
<g class="k"><circle cx="756" cy="514"/><circle cx="774" cy="509"/><circle cx="741" cy="524"/><circle cx="746" cy="524"/><circle cx="763" cy="527"/><circle cx="775" cy="528"/><circle cx="779" cy="541"/></g>
<g class="g"><circle cx="787" cy="454"/><circle cx="827" cy="454"/><circle cx="800" cy="498"/><circle cx="807" cy="502"/><circle cx="804" cy="507"/><circle cx="789" cy="504"/><circle cx="789" cy="514"/><circle cx="822" cy="508"/><circle cx="822" cy="512"/><circle cx="816" cy="524"/><circle cx="830" cy="526"/></g>
<g class="k"><circle cx="884" cy="428"/><circle cx="876" cy="479"/><circle cx="854" cy="488"/><circle cx="872" cy="497"/><circle cx="882" cy="499"/><circle cx="866" cy="508"/><circle cx="843" cy="512"/><circle cx="844" cy="520"/><circle cx="884" cy="513"/><circle cx="884" cy="522"/><circle cx="878" cy="522"/><circle cx="855" cy="525"/><circle cx="855" cy="535"/><circle cx="866" cy="531"/><circle cx="904" cy="533"/><circle cx="881" cy="536"/><circle cx="913" cy="502"/></g>
<g class="g"><circle cx="915" cy="421"/><circle cx="922" cy="431"/><circle cx="940" cy="475"/><circle cx="931" cy="489"/><circle cx="922" cy="512"/><circle cx="944" cy="512"/><circle cx="956" cy="513"/><circle cx="978" cy="500"/><circle cx="968" cy="521"/><circle cx="976" cy="518"/><circle cx="914" cy="527"/><circle cx="968" cy="536"/></g>
<g class="k"><circle cx="979" cy="427"/><circle cx="995" cy="425"/><circle cx="979" cy="456"/><circle cx="994" cy="452"/><circle cx="980" cy="470"/><circle cx="1006" cy="475"/><circle cx="998" cy="494"/><circle cx="1004" cy="492"/><circle cx="985" cy="513"/><circle cx="995" cy="513"/><circle cx="1004" cy="515"/><circle cx="1004" cy="521"/><circle cx="1004" cy="530"/><circle cx="992" cy="536"/></g>
<g class="g"><circle cx="1011" cy="433"/><circle cx="1011" cy="492"/><circle cx="1018" cy="516"/><circle cx="1026" cy="492"/><circle cx="1020" cy="516"/><circle cx="1043" cy="521"/><circle cx="1048" cy="447"/></g>
<g class="k"><circle cx="1070" cy="409"/><circle cx="1080" cy="447"/><circle cx="1061" cy="469"/><circle cx="1058" cy="476"/><circle cx="1065" cy="500"/><circle cx="1084" cy="497"/><circle cx="1080" cy="510"/><circle cx="1057" cy="516"/><circle cx="1061" cy="523"/><circle cx="1078" cy="522"/><circle cx="1087" cy="520"/><circle cx="1050" cy="535"/></g>
<g class="g"><circle cx="1091" cy="433"/><circle cx="1138" cy="479"/><circle cx="1130" cy="486"/><circle cx="1107" cy="491"/><circle cx="1106" cy="500"/><circle cx="1115" cy="500"/><circle cx="1126" cy="502"/><circle cx="1120" cy="507"/><circle cx="1139" cy="506"/><circle cx="1104" cy="518"/><circle cx="1106" cy="525"/><circle cx="1125" cy="521"/><circle cx="1129" cy="520"/><circle cx="1138" cy="522"/><circle cx="1092" cy="530"/><circle cx="1122" cy="538"/></g>
<g class="k"><circle cx="1176" cy="498"/><circle cx="1181" cy="494"/><circle cx="1191" cy="501"/><circle cx="1182" cy="516"/><circle cx="1164" cy="510"/><circle cx="1158" cy="521"/><circle cx="1169" cy="517"/><circle cx="1161" cy="525"/><circle cx="1165" cy="531"/><circle cx="1176" cy="525"/><circle cx="1210" cy="455"/><circle cx="1214" cy="471"/><circle cx="1209" cy="485"/><circle cx="1214" cy="484"/><circle cx="1208" cy="505"/><circle cx="1214" cy="504"/><circle cx="1201" cy="517"/><circle cx="1206" cy="517"/><circle cx="1191" cy="536"/></g>
<g class="g"><circle cx="1129" cy="424"/></g>
<g class="k"><circle cx="1140" cy="437"/></g>
<g class="g"><circle cx="1221" cy="489"/><circle cx="1237" cy="503"/><circle cx="1218" cy="521"/><circle cx="1235" cy="522"/></g>
<g class="k"><circle cx="1379" cy="448"/><circle cx="1379" cy="464"/><circle cx="1379" cy="471"/><circle cx="1379" cy="488"/><circle cx="1379" cy="494"/><circle cx="1379" cy="508"/><circle cx="1379" cy="518"/><circle cx="1379" cy="528"/><circle cx="1248" cy="461"/><circle cx="1246" cy="477"/><circle cx="1263" cy="482"/><circle cx="1248" cy="503"/><circle cx="1281" cy="438"/><circle cx="1280" cy="445"/><circle cx="1273" cy="448"/><circle cx="1280" cy="492"/><circle cx="1290" cy="489"/><circle cx="1290" cy="501"/><circle cx="1290" cy="513"/><circle cx="1290" cy="520"/><circle cx="1275" cy="523"/><circle cx="1238" cy="531"/><circle cx="1263" cy="535"/><circle cx="1316" cy="456"/><circle cx="1251" cy="460"/><circle cx="1251" cy="477"/><circle cx="1251" cy="504"/><circle cx="1303" cy="513"/><circle cx="1316" cy="512"/><circle cx="1276" cy="524"/><circle cx="1264" cy="535"/><circle cx="1304" cy="530"/><circle cx="1316" cy="531"/><circle cx="1324" cy="536"/><circle cx="1326" cy="500"/></g>
<g class="g"><circle cx="1335" cy="501"/><circle cx="1339" cy="508"/><circle cx="1364" cy="508"/><circle cx="1388" cy="418"/><circle cx="1413" cy="434"/></g>
<g class="k"><circle cx="1365" cy="525"/></g>
<g class="g"><circle cx="1388" cy="528"/><circle cx="1406" cy="525"/><circle cx="1400" cy="540"/><circle cx="1412" cy="532"/></g>
<g class="k"><circle cx="196" cy="492"/><circle cx="195" cy="495"/><circle cx="197" cy="498"/><circle cx="196" cy="501"/><circle cx="197" cy="504"/><circle cx="195" cy="507"/><circle cx="196" cy="510"/><circle cx="1181" cy="407"/><circle cx="1181" cy="410"/><circle cx="1182" cy="413"/><circle cx="1182" cy="416"/><circle cx="1182" cy="419"/><circle cx="1182" cy="422"/><circle cx="1182" cy="425"/><circle cx="1181" cy="428"/><circle cx="1181" cy="431"/><circle cx="1181" cy="434"/><circle cx="1181" cy="437"/><circle cx="1181" cy="440"/><circle cx="1181" cy="443"/><circle cx="1181" cy="446"/><circle cx="1181" cy="449"/><circle cx="1182" cy="452"/><circle cx="1181" cy="455"/><circle cx="1181" cy="458"/><circle cx="1181" cy="461"/><circle cx="1181" cy="464"/><circle cx="1181" cy="467"/><circle cx="1182" cy="470"/></g>
<g class="g"><circle cx="572" cy="449"/><circle cx="569" cy="466"/><circle cx="573" cy="515"/><circle cx="576" cy="516"/><circle cx="575" cy="508"/><circle cx="575" cy="440"/><circle cx="571" cy="486"/><circle cx="573" cy="488"/><circle cx="572" cy="515"/><circle cx="567" cy="481"/><circle cx="576" cy="441"/><circle cx="567" cy="509"/><circle cx="576" cy="440"/><circle cx="566" cy="506"/><circle cx="573" cy="481"/><circle cx="572" cy="500"/><circle cx="574" cy="438"/><circle cx="567" cy="503"/><circle cx="576" cy="506"/><circle cx="570" cy="466"/><circle cx="569" cy="439"/><circle cx="574" cy="460"/></g>
<g class="k"><circle cx="1182" cy="512"/><circle cx="1179" cy="522"/><circle cx="1180" cy="491"/><circle cx="1186" cy="487"/><circle cx="1177" cy="493"/><circle cx="1181" cy="530"/><circle cx="1179" cy="492"/><circle cx="1183" cy="493"/><circle cx="1181" cy="493"/><circle cx="1186" cy="488"/><circle cx="1178" cy="496"/><circle cx="1179" cy="526"/><circle cx="1183" cy="530"/><circle cx="1181" cy="481"/><circle cx="198" cy="514"/><circle cx="194" cy="520"/><circle cx="200" cy="518"/><circle cx="195" cy="537"/><circle cx="200" cy="519"/><circle cx="193" cy="533"/><circle cx="198" cy="517"/><circle cx="198" cy="518"/></g>
<line x1="117.8" y1="397.5" x2="1477" y2="397.5" stroke="#333" stroke-width="2.3" stroke-dasharray="12.7 12"/>
<line x1="519" y1="261" x2="539.2" y2="275.4" stroke="#000" stroke-width="2.4"/>
<line x1="1133" y1="301" x2="1181.1" y2="324.4" stroke="#000" stroke-width="2.4"/>
<line x1="1115" y1="320" x2="1181" y2="345" stroke="#000" stroke-width="2.4"/>
<line x1="1039.6" y1="345" x2="1048.7" y2="345" stroke="#000" stroke-width="2.4"/>
<line x1="1055" y1="396" x2="1157" y2="382" stroke="#000" stroke-width="2.4"/>
<line x1="1151.7" y1="422" x2="1181" y2="400" stroke="#000" stroke-width="2.4"/>
<line x1="1125" y1="439.5" x2="1142" y2="431.5" stroke="#000" stroke-width="2.4"/>
<line x1="1223" y1="328" x2="1235.7" y2="343.3" stroke="#000" stroke-width="2.4"/>
<line x1="1288" y1="302" x2="1280.2" y2="330.1" stroke="#000" stroke-width="2.4"/>
<line x1="1379.3" y1="294.4" x2="1280.2" y2="330.1" stroke="#000" stroke-width="2.4"/>
<line x1="1300" y1="329" x2="1181" y2="372" stroke="#000" stroke-width="2.4"/>
<line x1="1399.4" y1="346" x2="1316" y2="369.3" stroke="#000" stroke-width="2.4"/>
<line x1="1336.7" y1="397" x2="1290" y2="380" stroke="#000" stroke-width="2.4"/>
<line x1="1290" y1="413.8" x2="1280" y2="384" stroke="#000" stroke-width="2.4"/>
<line x1="1151.7" y1="370" x2="1181" y2="372" stroke="#000" stroke-width="2.4"/>
<line x1="1175" y1="348" x2="1181" y2="352" stroke="#000" stroke-width="2.4"/>
<line x1="1195" y1="413.8" x2="1185" y2="400" stroke="#000" stroke-width="2.4"/>
<line x1="1159" y1="370" x2="1181" y2="380" stroke="#000" stroke-width="2.4"/>
<line x1="1322" y1="395" x2="1290" y2="388" stroke="#000" stroke-width="2.4"/>
<line x1="1294" y1="371" x2="1316" y2="369.3" stroke="#000" stroke-width="2.4"/>
<rect x="339" y="127.4" width="74.0" height="19.0" rx="2.5" fill="#E64B35" stroke="#111" stroke-width="1.3"/>
<text x="376.0" y="142.8" font-size="16.8" fill="#000" text-anchor="middle" textLength="64.5" lengthAdjust="spacingAndGlyphs" stroke="#000" stroke-width="0.35">MAP4K4</text>
<rect x="459.9" y="121" width="102.9" height="18.7" rx="2.5" fill="#E64B35" stroke="#111" stroke-width="1.3"/>
<text x="511.3" y="136.1" font-size="16.8" fill="#000" text-anchor="middle" textLength="93.4" lengthAdjust="spacingAndGlyphs" stroke="#000" stroke-width="0.35">RP11-9B6.1</text>
<rect x="267.9" y="175.7" width="128.2" height="18.6" rx="2.5" fill="#4DBBD5" stroke="#111" stroke-width="1.3"/>
<text x="332.0" y="190.7" font-size="16.8" fill="#000" text-anchor="middle" textLength="118.7" lengthAdjust="spacingAndGlyphs" stroke="#000" stroke-width="0.35">RP13-539J13.1</text>
<rect x="403.2" y="181" width="85.6" height="18.6" rx="2.5" fill="#E64B35" stroke="#111" stroke-width="1.3"/>
<text x="446.0" y="196.0" font-size="16.8" fill="#000" text-anchor="middle" textLength="76.1" lengthAdjust="spacingAndGlyphs" stroke="#000" stroke-width="0.35">GTF2IP12</text>
<rect x="508.2" y="204.9" width="132.8" height="18.3" rx="2.5" fill="#E64B35" stroke="#111" stroke-width="1.3"/>
<text x="574.6" y="219.6" font-size="16.8" fill="#000" text-anchor="middle" textLength="123.3" lengthAdjust="spacingAndGlyphs" stroke="#000" stroke-width="0.35">RP11-328P23.3</text>
<rect x="575.8" y="230.6" width="93.8" height="19.1" rx="2.5" fill="#E64B35" stroke="#111" stroke-width="1.3"/>
<text x="622.7" y="246.1" font-size="16.8" fill="#000" text-anchor="middle" textLength="84.3" lengthAdjust="spacingAndGlyphs" stroke="#000" stroke-width="0.35">HLA-DQB1</text>
<rect x="461.7" y="242.6" width="108.1" height="18.7" rx="2.5" fill="#E64B35" stroke="#111" stroke-width="1.3"/>
<text x="515.8" y="257.7" font-size="16.8" fill="#000" text-anchor="middle" textLength="98.6" lengthAdjust="spacingAndGlyphs" stroke="#000" stroke-width="0.35">AC010441.1</text>
<rect x="394.7" y="268.3" width="70.5" height="18.4" rx="2.5" fill="#E64B35" stroke="#111" stroke-width="1.3"/>
<text x="429.9" y="283.1" font-size="16.8" fill="#000" text-anchor="middle" textLength="61.0" lengthAdjust="spacingAndGlyphs" stroke="#000" stroke-width="0.35">CTDSPL</text>
<rect x="575.1" y="269" width="73.3" height="18.4" rx="2.5" fill="#E64B35" stroke="#111" stroke-width="1.3"/>
<text x="611.8" y="283.8" font-size="16.8" fill="#000" text-anchor="middle" textLength="63.8" lengthAdjust="spacingAndGlyphs" stroke="#000" stroke-width="0.35">HCG4P7</text>
<rect x="242.1" y="283.1" width="69.4" height="19.4" rx="2.5" fill="#00A087" stroke="#111" stroke-width="1.3"/>
<text x="276.8" y="298.9" font-size="16.8" fill="#000" text-anchor="middle" textLength="59.9" lengthAdjust="spacingAndGlyphs" stroke="#000" stroke-width="0.35">DPYSL5</text>
<rect x="279.8" y="310.6" width="73.3" height="18.3" rx="2.5" fill="#E64B35" stroke="#111" stroke-width="1.3"/>
<text x="316.5" y="325.3" font-size="16.8" fill="#000" text-anchor="middle" textLength="63.8" lengthAdjust="spacingAndGlyphs" stroke="#000" stroke-width="0.35">PDE11A</text>
<rect x="359.1" y="330" width="72.3" height="19.0" rx="2.5" fill="#F39B7F" stroke="#111" stroke-width="1.3"/>
<text x="395.2" y="345.4" font-size="16.8" fill="#000" text-anchor="middle" textLength="62.8" lengthAdjust="spacingAndGlyphs" stroke="#000" stroke-width="0.35">PDE11A</text>
<rect x="501.8" y="304.3" width="64.5" height="19.3" rx="2.5" fill="#F39B7F" stroke="#111" stroke-width="1.3"/>
<text x="534.0" y="320.0" font-size="16.8" fill="#000" text-anchor="middle" textLength="55.0" lengthAdjust="spacingAndGlyphs" stroke="#000" stroke-width="0.35">HCG4B</text>
<rect x="501.8" y="343.7" width="64.5" height="18.7" rx="2.5" fill="#E64B35" stroke="#111" stroke-width="1.3"/>
<text x="534.0" y="358.8" font-size="16.8" fill="#000" text-anchor="middle" textLength="55.0" lengthAdjust="spacingAndGlyphs" stroke="#000" stroke-width="0.35">HCG4B</text>
<rect x="242.1" y="364.2" width="69.4" height="19.3" rx="2.5" fill="#00A087" stroke="#111" stroke-width="1.3"/>
<text x="276.8" y="379.9" font-size="16.8" fill="#000" text-anchor="middle" textLength="59.9" lengthAdjust="spacingAndGlyphs" stroke="#000" stroke-width="0.35">DPYSL5</text>
<rect x="121.3" y="381.8" width="88.1" height="18.3" rx="2.5" fill="#E64B35" stroke="#111" stroke-width="1.3"/>
<text x="165.3" y="396.5" font-size="16.8" fill="#000" text-anchor="middle" textLength="78.6" lengthAdjust="spacingAndGlyphs" stroke="#000" stroke-width="0.35">CAMK2N1</text>
<rect x="541.7" y="381.1" width="56.3" height="18.3" rx="2.5" fill="#E64B35" stroke="#111" stroke-width="1.3"/>
<text x="569.9" y="395.8" font-size="16.8" fill="#000" text-anchor="middle" textLength="46.8" lengthAdjust="spacingAndGlyphs" stroke="#000" stroke-width="0.35">HLA-A</text>
<rect x="659" y="64" width="69.8" height="17.6" rx="2.5" fill="#E64B35" stroke="#111" stroke-width="1.3"/>
<text x="693.9" y="78.0" font-size="16.8" fill="#000" text-anchor="middle" textLength="60.3" lengthAdjust="spacingAndGlyphs" stroke="#000" stroke-width="0.35">GSDMD</text>
<rect x="692.5" y="114.7" width="145.1" height="18.7" rx="2.5" fill="#E64B35" stroke="#111" stroke-width="1.3"/>
<text x="765.0" y="129.8" font-size="16.8" fill="#000" text-anchor="middle" textLength="135.6" lengthAdjust="spacingAndGlyphs" stroke="#000" stroke-width="0.35">RP11-661A12.12</text>
<rect x="703.7" y="168.6" width="132.9" height="18.3" rx="2.5" fill="#E64B35" stroke="#111" stroke-width="1.3"/>
<text x="770.2" y="183.3" font-size="16.8" fill="#000" text-anchor="middle" textLength="123.4" lengthAdjust="spacingAndGlyphs" stroke="#000" stroke-width="0.35">RP11-390F4.10</text>
<rect x="705.5" y="256.7" width="60.6" height="18.7" rx="2.5" fill="#E64B35" stroke="#111" stroke-width="1.3"/>
<text x="735.8" y="271.8" font-size="16.8" fill="#000" text-anchor="middle" textLength="51.1" lengthAdjust="spacingAndGlyphs" stroke="#000" stroke-width="0.35">ZNF79</text>
<rect x="612.1" y="298.3" width="83.5" height="19.0" rx="2.5" fill="#E64B35" stroke="#111" stroke-width="1.3"/>
<text x="653.9" y="313.7" font-size="16.8" fill="#000" text-anchor="middle" textLength="74.0" lengthAdjust="spacingAndGlyphs" stroke="#000" stroke-width="0.35">FAM167A</text>
<rect x="702.7" y="307.8" width="127.9" height="18.3" rx="2.5" fill="#F39B7F" stroke="#111" stroke-width="1.3"/>
<text x="766.7" y="322.5" font-size="16.8" fill="#000" text-anchor="middle" textLength="118.4" lengthAdjust="spacingAndGlyphs" stroke="#000" stroke-width="0.35">RP11-434I12.4</text>
<rect x="601.6" y="330.7" width="86.3" height="18.7" rx="2.5" fill="#E64B35" stroke="#111" stroke-width="1.3"/>
<text x="644.8" y="345.8" font-size="16.8" fill="#000" text-anchor="middle" textLength="76.8" lengthAdjust="spacingAndGlyphs" stroke="#000" stroke-width="0.35">FAM167A</text>
<rect x="693.2" y="336" width="121.5" height="18.3" rx="2.5" fill="#E64B35" stroke="#111" stroke-width="1.3"/>
<text x="754.0" y="350.7" font-size="16.8" fill="#000" text-anchor="middle" textLength="112.0" lengthAdjust="spacingAndGlyphs" stroke="#000" stroke-width="0.35">FAM167A-AS1</text>
<rect x="606.1" y="361.7" width="93.1" height="19.0" rx="2.5" fill="#F39B7F" stroke="#111" stroke-width="1.3"/>
<text x="652.7" y="377.1" font-size="16.8" fill="#000" text-anchor="middle" textLength="83.6" lengthAdjust="spacingAndGlyphs" stroke="#000" stroke-width="0.35">FAM86B3P</text>
<rect x="1025.5" y="217.8" width="80.7" height="19.0" rx="2.5" fill="#F39B7F" stroke="#111" stroke-width="1.3"/>
<text x="1065.8" y="233.2" font-size="16.8" fill="#000" text-anchor="middle" textLength="71.2" lengthAdjust="spacingAndGlyphs" stroke="#000" stroke-width="0.35">DNAJC17</text>
<rect x="963.5" y="266.8" width="97.3" height="19.1" rx="2.5" fill="#E64B35" stroke="#111" stroke-width="1.3"/>
<text x="1012.1" y="282.3" font-size="16.8" fill="#000" text-anchor="middle" textLength="87.8" lengthAdjust="spacingAndGlyphs" stroke="#000" stroke-width="0.35">LINC00638</text>
<rect x="1113.6" y="241.4" width="64.1" height="18.4" rx="2.5" fill="#4DBBD5" stroke="#111" stroke-width="1.3"/>
<text x="1145.7" y="256.2" font-size="16.8" fill="#000" text-anchor="middle" textLength="54.6" lengthAdjust="spacingAndGlyphs" stroke="#000" stroke-width="0.35">CRHR1</text>
<rect x="1122.7" y="283.3" width="63.7" height="18.0" rx="2.5" fill="#3C5488" stroke="#111" stroke-width="1.3"/>
<text x="1154.6" y="297.7" font-size="16.8" fill="#000" text-anchor="middle" textLength="54.2" lengthAdjust="spacingAndGlyphs" stroke="#000" stroke-width="0.35">CRHR1</text>
<rect x="979.4" y="309.1" width="135.7" height="18.6" rx="2.5" fill="#8491B4" stroke="#111" stroke-width="1.3"/>
<text x="1047.2" y="324.1" font-size="16.8" fill="#000" text-anchor="middle" textLength="126.2" lengthAdjust="spacingAndGlyphs" stroke="#000" stroke-width="0.35">RP11-259G18.3</text>
<rect x="904.3" y="335.6" width="135.3" height="18.4" rx="2.5" fill="#E64B35" stroke="#111" stroke-width="1.3"/>
<text x="971.9" y="350.4" font-size="16.8" fill="#000" text-anchor="middle" textLength="125.8" lengthAdjust="spacingAndGlyphs" stroke="#000" stroke-width="0.35">RP11-259G18.1</text>
<rect x="1048.7" y="335.6" width="126.3" height="18.4" rx="2.5" fill="#E64B35" stroke="#111" stroke-width="1.3"/>
<text x="1111.8" y="350.4" font-size="16.8" fill="#000" text-anchor="middle" textLength="116.8" lengthAdjust="spacingAndGlyphs" stroke="#000" stroke-width="0.35">RP11-259G18.1</text>
<rect x="903.3" y="360.9" width="60.8" height="19.1" rx="2.5" fill="#E64B35" stroke="#111" stroke-width="1.3"/>
<text x="933.7" y="376.4" font-size="16.8" fill="#000" text-anchor="middle" textLength="51.3" lengthAdjust="spacingAndGlyphs" stroke="#000" stroke-width="0.35">RSRC2</text>
<rect x="1016.4" y="360.9" width="135.3" height="19.1" rx="2.5" fill="#8491B4" stroke="#111" stroke-width="1.3"/>
<text x="1084.0" y="376.4" font-size="16.8" fill="#000" text-anchor="middle" textLength="125.8" lengthAdjust="spacingAndGlyphs" stroke="#000" stroke-width="0.35">RP11-259G18.1</text>
<rect x="972.6" y="386.9" width="82.4" height="18.4" rx="2.5" fill="#E64B35" stroke="#111" stroke-width="1.3"/>
<text x="1013.8" y="401.7" font-size="16.8" fill="#000" text-anchor="middle" textLength="72.9" lengthAdjust="spacingAndGlyphs" stroke="#000" stroke-width="0.35">ZNF286B</text>
<rect x="1017" y="413.2" width="134.7" height="18.6" rx="2.5" fill="#E64B35" stroke="#111" stroke-width="1.3"/>
<text x="1084.3" y="428.2" font-size="16.8" fill="#000" text-anchor="middle" textLength="125.2" lengthAdjust="spacingAndGlyphs" stroke="#000" stroke-width="0.35">RP11-259G18.1</text>
<rect x="1094" y="439.2" width="64.0" height="17.9" rx="2.5" fill="#E64B35" stroke="#111" stroke-width="1.3"/>
<text x="1126.0" y="453.5" font-size="16.8" fill="#000" text-anchor="middle" textLength="54.5" lengthAdjust="spacingAndGlyphs" stroke="#000" stroke-width="0.35">CRHR1</text>
<rect x="1184.6" y="163.7" width="64.0" height="18.5" rx="2.5" fill="#E64B35" stroke="#111" stroke-width="1.3"/>
<text x="1216.6" y="178.6" font-size="16.8" fill="#000" text-anchor="middle" textLength="54.5" lengthAdjust="spacingAndGlyphs" stroke="#000" stroke-width="0.35">CRHR1</text>
<rect x="1184.6" y="214.2" width="64.0" height="19.1" rx="2.5" fill="#8491B4" stroke="#111" stroke-width="1.3"/>
<text x="1216.6" y="229.7" font-size="16.8" fill="#000" text-anchor="middle" textLength="54.5" lengthAdjust="spacingAndGlyphs" stroke="#000" stroke-width="0.35">CRHR1</text>
<rect x="1191" y="310.1" width="63.2" height="17.7" rx="2.5" fill="#E64B35" stroke="#111" stroke-width="1.3"/>
<text x="1222.6" y="324.2" font-size="16.8" fill="#000" text-anchor="middle" textLength="53.7" lengthAdjust="spacingAndGlyphs" stroke="#000" stroke-width="0.35">CNDP2</text>
<rect x="1221" y="283.3" width="135.3" height="19.2" rx="2.5" fill="#F39B7F" stroke="#111" stroke-width="1.3"/>
<text x="1288.7" y="298.9" font-size="16.8" fill="#000" text-anchor="middle" textLength="125.8" lengthAdjust="spacingAndGlyphs" stroke="#000" stroke-width="0.35">RP11-678G14.3</text>
<rect x="1379.3" y="284" width="81.8" height="18.5" rx="2.5" fill="#E64B35" stroke="#111" stroke-width="1.3"/>
<text x="1420.2" y="298.9" font-size="16.8" fill="#000" text-anchor="middle" textLength="72.3" lengthAdjust="spacingAndGlyphs" stroke="#000" stroke-width="0.35">ZNF826P</text>
<rect x="1286" y="310.1" width="134.8" height="17.7" rx="2.5" fill="#4DBBD5" stroke="#111" stroke-width="1.3"/>
<text x="1353.4" y="324.2" font-size="16.8" fill="#000" text-anchor="middle" textLength="125.3" lengthAdjust="spacingAndGlyphs" stroke="#000" stroke-width="0.35">RP11-259G18.3</text>
<rect x="1253.7" y="335.9" width="134.8" height="18.4" rx="2.5" fill="#E64B35" stroke="#111" stroke-width="1.3"/>
<text x="1321.1" y="350.7" font-size="16.8" fill="#000" text-anchor="middle" textLength="125.3" lengthAdjust="spacingAndGlyphs" stroke="#000" stroke-width="0.35">RP11-678G14.3</text>
<rect x="1399.4" y="335.9" width="70.9" height="18.4" rx="2.5" fill="#E64B35" stroke="#111" stroke-width="1.3"/>
<text x="1434.8" y="350.7" font-size="16.8" fill="#000" text-anchor="middle" textLength="61.4" lengthAdjust="spacingAndGlyphs" stroke="#000" stroke-width="0.35">ZNF415</text>
<rect x="1159.2" y="361.7" width="134.8" height="18.0" rx="2.5" fill="#4DBBD5" stroke="#111" stroke-width="1.3"/>
<text x="1226.6" y="376.1" font-size="16.8" fill="#000" text-anchor="middle" textLength="125.3" lengthAdjust="spacingAndGlyphs" stroke="#000" stroke-width="0.35">RP11-259G18.1</text>
<rect x="1321.7" y="361.7" width="70.3" height="18.0" rx="2.5" fill="#00A087" stroke="#111" stroke-width="1.3"/>
<text x="1356.8" y="376.1" font-size="16.8" fill="#000" text-anchor="middle" textLength="60.8" lengthAdjust="spacingAndGlyphs" stroke="#000" stroke-width="0.35">ZNF492</text>
<rect x="1336.7" y="388.4" width="135.5" height="17.8" rx="2.5" fill="#F39B7F" stroke="#111" stroke-width="1.3"/>
<text x="1404.5" y="402.6" font-size="16.8" fill="#000" text-anchor="middle" textLength="126.0" lengthAdjust="spacingAndGlyphs" stroke="#000" stroke-width="0.35">RP11-678G14.2</text>
<rect x="1188" y="387.8" width="134.4" height="18.4" rx="2.5" fill="#8491B4" stroke="#111" stroke-width="1.3"/>
<text x="1255.2" y="402.6" font-size="16.8" fill="#000" text-anchor="middle" textLength="124.9" lengthAdjust="spacingAndGlyphs" stroke="#000" stroke-width="0.35">RP11-259G18.1</text>
<rect x="1159.2" y="413.8" width="71.0" height="17.7" rx="2.5" fill="#8491B4" stroke="#111" stroke-width="1.3"/>
<text x="1194.7" y="427.9" font-size="16.8" fill="#000" text-anchor="middle" textLength="61.5" lengthAdjust="spacingAndGlyphs" stroke="#000" stroke-width="0.35">ARL17B</text>
<rect x="1257.9" y="413.8" width="70.7" height="17.7" rx="2.5" fill="#E64B35" stroke="#111" stroke-width="1.3"/>
<text x="1293.2" y="427.9" font-size="16.8" fill="#000" text-anchor="middle" textLength="61.2" lengthAdjust="spacingAndGlyphs" stroke="#000" stroke-width="0.35">ZNF100</text>
<circle cx="340.8" cy="150.3" r="9.6" fill="#E64B35"/>
<circle cx="340.8" cy="150.3" r="5.5" fill="#8a8a8a"/>
<circle cx="475.4" cy="144" r="9.6" fill="#E64B35"/>
<circle cx="475.4" cy="144" r="5.5" fill="#8a8a8a"/>
<circle cx="301" cy="199.3" r="9.6" fill="#4DBBD5"/>
<circle cx="301" cy="199.3" r="5.5" fill="#8a8a8a"/>
<circle cx="480.7" cy="203.8" r="9.6" fill="#E64B35"/>
<circle cx="480.7" cy="203.8" r="5.5" fill="#8a8a8a"/>
<circle cx="646.3" cy="205.6" r="9.6" fill="#E64B35"/>
<circle cx="646.3" cy="205.6" r="5.5" fill="#2a2a2a"/>
<circle cx="574.4" cy="253.2" r="9.6" fill="#E64B35"/>
<circle cx="574.4" cy="253.2" r="5.5" fill="#8a8a8a"/>
<circle cx="539.2" cy="275.4" r="9.6" fill="#E64B35"/>
<circle cx="539.2" cy="275.4" r="5.5" fill="#2a2a2a"/>
<circle cx="394.7" cy="290.9" r="9.6" fill="#E64B35"/>
<circle cx="394.7" cy="290.9" r="5.5" fill="#2a2a2a"/>
<circle cx="569.9" cy="282.4" r="9.6" fill="#E64B35"/>
<circle cx="569.9" cy="282.4" r="5.5" fill="#8a8a8a"/>
<circle cx="311.9" cy="306" r="9.6" fill="#00A087"/>
<circle cx="311.9" cy="306" r="5.5" fill="#8a8a8a"/>
<circle cx="359.5" cy="310.6" r="9.6" fill="#E64B35"/>
<circle cx="359.5" cy="310.6" r="5.5" fill="#8a8a8a"/>
<circle cx="360.2" cy="324.7" r="9.6" fill="#F39B7F"/>
<circle cx="360.2" cy="324.7" r="5.5" fill="#8a8a8a"/>
<circle cx="569.1" cy="327.2" r="9.6" fill="#F39B7F"/>
<circle cx="569.1" cy="327.2" r="5.5" fill="#8a8a8a"/>
<circle cx="569.9" cy="366" r="9.6" fill="#E64B35"/>
<circle cx="569.9" cy="366" r="5.5" fill="#8a8a8a"/>
<circle cx="569.9" cy="374.7" r="9.6" fill="#E64B35"/>
<circle cx="569.9" cy="374.7" r="5.5" fill="#8a8a8a"/>
<circle cx="311.9" cy="360" r="9.6" fill="#00A087"/>
<circle cx="311.9" cy="360" r="5.5" fill="#8a8a8a"/>
<circle cx="198.8" cy="376.5" r="9.6" fill="#E64B35"/>
<circle cx="198.8" cy="376.5" r="5.5" fill="#2a2a2a"/>
<circle cx="729.3" cy="59" r="9.6" fill="#E64B35"/>
<circle cx="729.3" cy="59" r="5.5" fill="#8a8a8a"/>
<circle cx="729.5" cy="138" r="9.6" fill="#E64B35"/>
<circle cx="729.5" cy="138" r="5.5" fill="#8a8a8a"/>
<circle cx="734.4" cy="190.8" r="9.6" fill="#E64B35"/>
<circle cx="734.4" cy="190.8" r="5.5" fill="#2a2a2a"/>
<circle cx="770.7" cy="252.1" r="9.6" fill="#E64B35"/>
<circle cx="770.7" cy="252.1" r="5.5" fill="#2a2a2a"/>
<circle cx="689.7" cy="320.8" r="9.6" fill="#E64B35"/>
<circle cx="689.7" cy="320.8" r="5.5" fill="#8a8a8a"/>
<circle cx="708.3" cy="330" r="9.6" fill="#F39B7F"/>
<circle cx="708.3" cy="330" r="5.5" fill="#8a8a8a"/>
<circle cx="689.7" cy="337.7" r="9.6" fill="#E64B35"/>
<circle cx="689.7" cy="337.7" r="5.5" fill="#8a8a8a"/>
<circle cx="687.9" cy="356" r="9.6" fill="#F39B7F"/>
<circle cx="687.9" cy="356" r="5.5" fill="#8a8a8a"/>
<circle cx="1058.2" cy="241.5" r="9.6" fill="#F39B7F"/>
<circle cx="1058.2" cy="241.5" r="5.5" fill="#2a2a2a"/>
<circle cx="1047.7" cy="261.6" r="9.6" fill="#E64B35"/>
<circle cx="1047.7" cy="261.6" r="5.5" fill="#8a8a8a"/>
<circle cx="969.9" cy="361.6" r="9.6" fill="#E64B35"/>
<circle cx="969.9" cy="361.6" r="5.5" fill="#8a8a8a"/>
<circle cx="1157" cy="382" r="9.6" fill="#E64B35"/>
<circle cx="1157" cy="382" r="5.5" fill="#2a2a2a"/>
<circle cx="1181.1" cy="186.1" r="9.6" fill="#E64B35"/>
<circle cx="1181.1" cy="186.1" r="5.5" fill="#2a2a2a"/>
<circle cx="1181.1" cy="236.8" r="9.6" fill="#8491B4"/>
<circle cx="1181.1" cy="236.8" r="5.5" fill="#2a2a2a"/>
<circle cx="1181.1" cy="264.5" r="9.6" fill="#4DBBD5"/>
<circle cx="1181.1" cy="264.5" r="5.5" fill="#2a2a2a"/>
<circle cx="1181.1" cy="324.4" r="9.6" fill="#3C5488"/>
<circle cx="1181.1" cy="324.4" r="5.5" fill="#2a2a2a"/>
<circle cx="1181" cy="343" r="9.6" fill="#8491B4"/>
<circle cx="1181" cy="343" r="5.5" fill="#8a8a8a"/>
<circle cx="1181" cy="350" r="9.6" fill="#E64B35"/>
<circle cx="1181" cy="350" r="5.5" fill="#2a2a2a"/>
<circle cx="1181" cy="358" r="9.6" fill="#8491B4"/>
<circle cx="1181" cy="358" r="5.5" fill="#8a8a8a"/>
<circle cx="1181" cy="364" r="9.6" fill="#E64B35"/>
<circle cx="1181" cy="364" r="5.5" fill="#2a2a2a"/>
<circle cx="1181" cy="373" r="9.6" fill="#8491B4"/>
<circle cx="1181" cy="373" r="5.5" fill="#8a8a8a"/>
<circle cx="1181" cy="383" r="9.6" fill="#4DBBD5"/>
<circle cx="1181" cy="383" r="5.5" fill="#8a8a8a"/>
<circle cx="1181" cy="390" r="9.6" fill="#4DBBD5"/>
<circle cx="1181" cy="390" r="5.5" fill="#8a8a8a"/>
<circle cx="1181" cy="396" r="9.6" fill="#8491B4"/>
<circle cx="1181" cy="396" r="5.5" fill="#8a8a8a"/>
<circle cx="1181" cy="400" r="9.6" fill="#E64B35"/>
<circle cx="1181" cy="400" r="5.5" fill="#8a8a8a"/>
<circle cx="1235.7" cy="343.3" r="9.6" fill="#E64B35"/>
<circle cx="1235.7" cy="343.3" r="5.5" fill="#8a8a8a"/>
<circle cx="1280.2" cy="330.1" r="9.6" fill="#F39B7F"/>
<circle cx="1280.2" cy="330.1" r="5.5" fill="#2a2a2a"/>
<circle cx="1316" cy="369.3" r="9.6" fill="#E64B35"/>
<circle cx="1316" cy="369.3" r="5.5" fill="#2a2a2a"/>
<circle cx="1280" cy="366" r="9.6" fill="#E64B35"/>
<circle cx="1280" cy="366" r="5.5" fill="#8a8a8a"/>
<circle cx="1280" cy="372" r="9.6" fill="#00A087"/>
<circle cx="1280" cy="372" r="5.5" fill="#8a8a8a"/>
<circle cx="1280" cy="381" r="9.6" fill="#F39B7F"/>
<circle cx="1280" cy="381" r="5.5" fill="#8a8a8a"/>
<rect x="712" y="38" width="36" height="16" fill="#fff"/>
<text x="3.5" y="709.8" font-size="40" fill="#000" font-weight="bold">b</text>
<text x="119.0" y="709.8" font-size="38" fill="#000" textLength="281.0" lengthAdjust="spacingAndGlyphs">SV-eQTL (RNA)</text>
<line x1="110" y1="1251.1" x2="117.5" y2="1251.1" stroke="#333" stroke-width="2.2"/>
<text x="102.0" y="1259.7" font-size="24.5" fill="#4D4D4D" text-anchor="end" textLength="15.2" lengthAdjust="spacingAndGlyphs">0</text>
<line x1="110" y1="1067.0" x2="117.5" y2="1067.0" stroke="#333" stroke-width="2.2"/>
<text x="102.0" y="1075.6" font-size="24.5" fill="#4D4D4D" text-anchor="end" textLength="30.4" lengthAdjust="spacingAndGlyphs">50</text>
<line x1="110" y1="882.9" x2="117.5" y2="882.9" stroke="#333" stroke-width="2.2"/>
<text x="102.0" y="891.5" font-size="24.5" fill="#4D4D4D" text-anchor="end" textLength="45.6" lengthAdjust="spacingAndGlyphs">100</text>
<text transform="translate(32.6,993) rotate(-90)" font-size="32" fill="#000" text-anchor="middle" textLength="138" lengthAdjust="spacingAndGlyphs">-log<tspan font-size="22" dy="6">10</tspan><tspan dy="-6">(</tspan><tspan font-style="italic">P</tspan>)</text>
<line x1="239.6" y1="1252.8" x2="239.6" y2="1259.3" stroke="#333" stroke-width="2.2"/>
<text x="239.6" y="1284.3" font-size="24.5" fill="#4D4D4D" text-anchor="middle" textLength="15.2" lengthAdjust="spacingAndGlyphs">1</text>
<line x1="337.6" y1="1252.8" x2="337.6" y2="1259.3" stroke="#333" stroke-width="2.2"/>
<text x="337.6" y="1284.3" font-size="24.5" fill="#4D4D4D" text-anchor="middle" textLength="15.2" lengthAdjust="spacingAndGlyphs">2</text>
<line x1="409.4" y1="1252.8" x2="409.4" y2="1259.3" stroke="#333" stroke-width="2.2"/>
<text x="409.4" y="1284.3" font-size="24.5" fill="#4D4D4D" text-anchor="middle" textLength="15.2" lengthAdjust="spacingAndGlyphs">3</text>
<line x1="463.7" y1="1252.8" x2="463.7" y2="1259.3" stroke="#333" stroke-width="2.2"/>
<text x="463.7" y="1284.3" font-size="24.5" fill="#4D4D4D" text-anchor="middle" textLength="15.2" lengthAdjust="spacingAndGlyphs">4</text>
<line x1="513.8" y1="1252.8" x2="513.8" y2="1259.3" stroke="#333" stroke-width="2.2"/>
<text x="513.8" y="1284.3" font-size="24.5" fill="#4D4D4D" text-anchor="middle" textLength="15.2" lengthAdjust="spacingAndGlyphs">5</text>
<line x1="575.4" y1="1252.8" x2="575.4" y2="1259.3" stroke="#333" stroke-width="2.2"/>
<text x="575.4" y="1284.3" font-size="24.5" fill="#4D4D4D" text-anchor="middle" textLength="15.2" lengthAdjust="spacingAndGlyphs">6</text>
<line x1="640.0" y1="1252.8" x2="640.0" y2="1259.3" stroke="#333" stroke-width="2.2"/>
<text x="640.0" y="1284.3" font-size="24.5" fill="#4D4D4D" text-anchor="middle" textLength="15.2" lengthAdjust="spacingAndGlyphs">7</text>
<line x1="693.0" y1="1252.8" x2="693.0" y2="1259.3" stroke="#333" stroke-width="2.2"/>
<text x="693.0" y="1284.3" font-size="24.5" fill="#4D4D4D" text-anchor="middle" textLength="15.2" lengthAdjust="spacingAndGlyphs">8</text>
<line x1="738.7" y1="1252.8" x2="738.7" y2="1259.3" stroke="#333" stroke-width="2.2"/>
<text x="738.7" y="1284.3" font-size="24.5" fill="#4D4D4D" text-anchor="middle" textLength="15.2" lengthAdjust="spacingAndGlyphs">9</text>
<line x1="788.9" y1="1252.8" x2="788.9" y2="1259.3" stroke="#333" stroke-width="2.2"/>
<text x="788.9" y="1284.3" font-size="24.5" fill="#4D4D4D" text-anchor="middle" textLength="30.4" lengthAdjust="spacingAndGlyphs">10</text>
<line x1="849.2" y1="1252.8" x2="849.2" y2="1259.3" stroke="#333" stroke-width="2.2"/>
<text x="849.2" y="1284.3" font-size="24.5" fill="#4D4D4D" text-anchor="middle" textLength="30.4" lengthAdjust="spacingAndGlyphs">11</text>
<line x1="918.3" y1="1252.8" x2="918.3" y2="1259.3" stroke="#333" stroke-width="2.2"/>
<text x="918.3" y="1284.3" font-size="24.5" fill="#4D4D4D" text-anchor="middle" textLength="30.4" lengthAdjust="spacingAndGlyphs">12</text>
<line x1="959.0" y1="1252.8" x2="959.0" y2="1259.3" stroke="#333" stroke-width="2.2"/>
<text x="959.0" y="1284.3" font-size="24.5" fill="#4D4D4D" text-anchor="middle" textLength="30.4" lengthAdjust="spacingAndGlyphs">13</text>
<line x1="993.7" y1="1252.8" x2="993.7" y2="1259.3" stroke="#333" stroke-width="2.2"/>
<text x="993.7" y="1284.3" font-size="24.5" fill="#4D4D4D" text-anchor="middle" textLength="30.4" lengthAdjust="spacingAndGlyphs">14</text>
<line x1="1033.5" y1="1252.8" x2="1033.5" y2="1259.3" stroke="#333" stroke-width="2.2"/>
<text x="1033.5" y="1284.3" font-size="24.5" fill="#4D4D4D" text-anchor="middle" textLength="30.4" lengthAdjust="spacingAndGlyphs">15</text>
<line x1="1083.0" y1="1252.8" x2="1083.0" y2="1259.3" stroke="#333" stroke-width="2.2"/>
<text x="1083.0" y="1284.3" font-size="24.5" fill="#4D4D4D" text-anchor="middle" textLength="30.4" lengthAdjust="spacingAndGlyphs">16</text>
<line x1="1155.7" y1="1252.8" x2="1155.7" y2="1259.3" stroke="#333" stroke-width="2.2"/>
<text x="1155.7" y="1284.3" font-size="24.5" fill="#4D4D4D" text-anchor="middle" textLength="30.4" lengthAdjust="spacingAndGlyphs">17</text>
<line x1="1207.5" y1="1252.8" x2="1207.5" y2="1259.3" stroke="#333" stroke-width="2.2"/>
<text x="1207.5" y="1284.3" font-size="24.5" fill="#4D4D4D" text-anchor="middle" textLength="30.4" lengthAdjust="spacingAndGlyphs">18</text>
<line x1="1271.9" y1="1252.8" x2="1271.9" y2="1259.3" stroke="#333" stroke-width="2.2"/>
<text x="1271.9" y="1284.3" font-size="24.5" fill="#4D4D4D" text-anchor="middle" textLength="30.4" lengthAdjust="spacingAndGlyphs">19</text>
<line x1="1344.2" y1="1252.8" x2="1344.2" y2="1259.3" stroke="#333" stroke-width="2.2"/>
<text x="1344.2" y="1284.3" font-size="24.5" fill="#4D4D4D" text-anchor="middle" textLength="30.4" lengthAdjust="spacingAndGlyphs">20</text>
<line x1="1370.7" y1="1252.8" x2="1370.7" y2="1259.3" stroke="#333" stroke-width="2.2"/>
<text x="1370.7" y="1284.3" font-size="24.5" fill="#4D4D4D" text-anchor="middle" textLength="30.4" lengthAdjust="spacingAndGlyphs">21</text>
<line x1="1396.0" y1="1252.8" x2="1396.0" y2="1259.3" stroke="#333" stroke-width="2.2"/>
<text x="1396.0" y="1284.3" font-size="24.5" fill="#4D4D4D" text-anchor="middle" textLength="30.4" lengthAdjust="spacingAndGlyphs">22</text>
<text x="692.6" y="1320.5" font-size="31" fill="#000" textLength="209.0" lengthAdjust="spacingAndGlyphs">Chromosome</text>
<g><path d="M173.4,1250.8 L173.4,1224.4 L173.4,1224.4 L175.0,1224.4 L200.0,1228.4 L240.0,1226.4 L280.0,1230.4 L292.0,1226.4 L293.7,1226.4 L293.7,1226.4 L293.7,1250.8Z" fill="#000"/><path d="M293.7,1250.8 L293.7,1221.4 L293.7,1221.4 L296.0,1221.4 L330.0,1216.4 L368.0,1220.4 L370.8,1220.4 L370.8,1220.4 L370.8,1250.8Z" fill="#666"/><path d="M370.8,1250.8 L370.8,1206.4 L370.8,1206.4 L372.0,1206.4 L392.0,1206.4 L400.0,1220.4 L435.0,1221.4 L436.8,1221.4 L436.8,1221.4 L436.8,1250.8Z" fill="#000"/><path d="M436.8,1250.8 L436.8,1212.4 L436.8,1212.4 L479.1,1212.4 L479.1,1212.4 L479.1,1250.8Z" fill="#666"/><path d="M479.1,1250.8 L479.1,1211.4 L479.1,1211.4 L481.0,1211.4 L487.0,1196.4 L495.0,1211.4 L536.0,1216.4 L537.7,1216.4 L537.7,1216.4 L537.7,1250.8Z" fill="#000"/><path d="M537.7,1250.8 L537.7,1216.4 L537.7,1216.4 L540.0,1216.4 L560.0,1208.4 L580.0,1214.4 L600.0,1218.4 L602.8,1218.4 L602.8,1218.4 L602.8,1250.8Z" fill="#666"/><path d="M602.8,1250.8 L602.8,1218.4 L602.8,1218.4 L605.0,1218.4 L620.0,1211.4 L628.0,1194.4 L636.0,1194.4 L645.0,1211.4 L665.0,1218.4 L667.3,1218.4 L667.3,1218.4 L667.3,1250.8Z" fill="#000"/><path d="M667.3,1250.8 L667.3,1213.4 L667.3,1213.4 L708.9,1213.4 L708.9,1213.4 L708.9,1250.8Z" fill="#666"/><path d="M708.9,1250.8 L708.9,1221.4 L708.9,1221.4 L758.0,1221.4 L758.0,1221.4 L758.0,1250.8Z" fill="#000"/><path d="M758.0,1250.8 L758.0,1217.4 L758.0,1217.4 L807.7,1217.4 L807.7,1217.4 L807.7,1250.8Z" fill="#666"/><path d="M807.7,1250.8 L807.7,1211.4 L807.7,1211.4 L810.0,1211.4 L830.0,1221.4 L860.0,1223.4 L878.0,1226.4 L880.7,1226.4 L880.7,1226.4 L880.7,1250.8Z" fill="#000"/><path d="M880.7,1250.8 L880.7,1220.4 L880.7,1220.4 L945.8,1220.4 L945.8,1220.4 L945.8,1250.8Z" fill="#666"/><path d="M945.8,1250.8 L945.8,1221.4 L945.8,1221.4 L967.4,1221.4 L967.4,1221.4 L967.4,1250.8Z" fill="#000"/><path d="M967.4,1250.8 L967.4,1215.4 L967.4,1215.4 L1008.5,1215.4 L1008.5,1215.4 L1008.5,1250.8Z" fill="#666"/><path d="M1008.5,1250.8 L1008.5,1210.4 L1008.5,1210.4 L1047.6,1210.4 L1047.6,1210.4 L1047.6,1250.8Z" fill="#000"/><path d="M1047.6,1250.8 L1047.6,1212.4 L1047.6,1212.4 L1108.2,1212.4 L1108.2,1212.4 L1108.2,1250.8Z" fill="#666"/><path d="M1108.2,1250.8 L1108.2,1226.4 L1108.2,1226.4 L1192.4,1226.4 L1192.4,1226.4 L1192.4,1250.8Z" fill="#000"/><path d="M1192.4,1250.8 L1192.4,1220.4 L1192.4,1220.4 L1212.5,1220.4 L1212.5,1220.4 L1212.5,1250.8Z" fill="#666"/><path d="M1212.5,1250.8 L1212.5,1232.4 L1212.5,1232.4 L1214.0,1232.4 L1260.0,1230.4 L1300.0,1234.4 L1318.0,1234.4 L1320.4,1234.4 L1320.4,1234.4 L1320.4,1250.8Z" fill="#000"/><path d="M1320.4,1250.8 L1320.4,1222.4 L1320.4,1222.4 L1358.0,1222.4 L1358.0,1222.4 L1358.0,1250.8Z" fill="#666"/><path d="M1358.0,1250.8 L1358.0,1219.4 L1358.0,1219.4 L1373.2,1219.4 L1373.2,1219.4 L1373.2,1250.8Z" fill="#000"/><path d="M1373.2,1250.8 L1373.2,1216.4 L1373.2,1216.4 L1419.6,1216.4 L1419.6,1216.4 L1419.6,1250.8Z" fill="#666"/></g>
<g class="k"><circle cx="286" cy="1223"/><circle cx="179" cy="1230"/><circle cx="198" cy="1223"/><circle cx="251" cy="1225"/><circle cx="278" cy="1226"/><circle cx="286" cy="1225"/><circle cx="245" cy="1231"/><circle cx="255" cy="1231"/><circle cx="257" cy="1222"/><circle cx="277" cy="1230"/><circle cx="212" cy="1223"/><circle cx="273" cy="1230"/><circle cx="283" cy="1231"/><circle cx="286" cy="1228"/><circle cx="256" cy="1228"/><circle cx="206" cy="1232"/><circle cx="212" cy="1230"/><circle cx="285" cy="1229"/><circle cx="193" cy="1230"/><circle cx="253" cy="1223"/><circle cx="182" cy="1225"/><circle cx="180" cy="1229"/><circle cx="234" cy="1226"/><circle cx="223" cy="1228"/><circle cx="281" cy="1227"/><circle cx="219" cy="1227"/><circle cx="211" cy="1228"/><circle cx="238" cy="1225"/><circle cx="253" cy="1227"/><circle cx="187" cy="1231"/><circle cx="217" cy="1226"/><circle cx="223" cy="1231"/><circle cx="285" cy="1228"/><circle cx="222" cy="1222"/><circle cx="278" cy="1225"/><circle cx="239" cy="1224"/><circle cx="214" cy="1225"/><circle cx="198" cy="1228"/><circle cx="238" cy="1206"/><circle cx="250" cy="1225"/><circle cx="256" cy="1227"/><circle cx="223" cy="1204"/><circle cx="281" cy="1222"/><circle cx="273" cy="1221"/><circle cx="236" cy="1215"/><circle cx="289" cy="1210"/><circle cx="230" cy="1210"/><circle cx="250" cy="1222"/><circle cx="266" cy="1207"/><circle cx="246" cy="1190"/><circle cx="179" cy="1216"/><circle cx="249" cy="1222"/><circle cx="196" cy="1212"/><circle cx="226" cy="1223"/><circle cx="182" cy="1181"/><circle cx="217" cy="1226"/><circle cx="201" cy="1225"/><circle cx="275" cy="1227"/><circle cx="208" cy="1227"/><circle cx="230" cy="1224"/><circle cx="216" cy="1210"/><circle cx="282" cy="1206"/><circle cx="181" cy="1219"/><circle cx="273" cy="1229"/><circle cx="200" cy="1220"/><circle cx="220" cy="1209"/><circle cx="258" cy="1220"/><circle cx="205" cy="1225"/><circle cx="207" cy="1227"/><circle cx="252" cy="1225"/><circle cx="278" cy="1217"/><circle cx="183" cy="1217"/><circle cx="245" cy="1226"/><circle cx="232" cy="1226"/><circle cx="264" cy="1229"/><circle cx="249" cy="1172"/><circle cx="273" cy="1226"/><circle cx="237" cy="1225"/><circle cx="216" cy="1202"/><circle cx="270" cy="1229"/><circle cx="220" cy="1214"/><circle cx="197" cy="1207"/><circle cx="278" cy="1220"/><circle cx="218" cy="1203"/><circle cx="235" cy="1224"/><circle cx="208" cy="1226"/><circle cx="272" cy="1220"/><circle cx="256" cy="1206"/><circle cx="287" cy="1225"/><circle cx="223" cy="1200"/><circle cx="263" cy="1222"/><circle cx="251" cy="1225"/><circle cx="195" cy="1227"/><circle cx="220" cy="1224"/><circle cx="236" cy="1181"/><circle cx="194" cy="1217"/><circle cx="275" cy="1218"/><circle cx="237" cy="1208"/><circle cx="179" cy="1187"/><circle cx="255" cy="1207"/><circle cx="270" cy="1228"/><circle cx="184" cy="1223"/><circle cx="234" cy="1190"/><circle cx="280" cy="1223"/><circle cx="247" cy="1210"/><circle cx="215" cy="1182"/><circle cx="284" cy="1212"/><circle cx="279" cy="1209"/><circle cx="251" cy="1222"/><circle cx="209" cy="1224"/><circle cx="183" cy="1192"/><circle cx="211" cy="1228"/><circle cx="213" cy="1226"/><circle cx="227" cy="1222"/><circle cx="197" cy="1219"/><circle cx="224" cy="1222"/><circle cx="269" cy="1225"/></g>
<g class="g"><circle cx="335" cy="1220"/><circle cx="365" cy="1218"/><circle cx="300" cy="1225"/><circle cx="333" cy="1212"/><circle cx="306" cy="1216"/><circle cx="319" cy="1213"/><circle cx="301" cy="1225"/><circle cx="355" cy="1214"/><circle cx="331" cy="1219"/><circle cx="333" cy="1211"/><circle cx="321" cy="1215"/><circle cx="361" cy="1220"/><circle cx="329" cy="1217"/><circle cx="300" cy="1222"/><circle cx="354" cy="1220"/><circle cx="322" cy="1214"/><circle cx="298" cy="1215"/><circle cx="308" cy="1218"/><circle cx="352" cy="1214"/><circle cx="330" cy="1217"/><circle cx="341" cy="1211"/><circle cx="362" cy="1220"/><circle cx="318" cy="1214"/><circle cx="346" cy="1222"/><circle cx="321" cy="1211"/><circle cx="336" cy="1215"/><circle cx="326" cy="1185"/><circle cx="336" cy="1195"/><circle cx="315" cy="1192"/><circle cx="352" cy="1215"/><circle cx="334" cy="1202"/><circle cx="337" cy="1205"/><circle cx="314" cy="1208"/><circle cx="322" cy="1197"/><circle cx="323" cy="1167"/><circle cx="338" cy="1214"/><circle cx="326" cy="1215"/><circle cx="349" cy="1218"/><circle cx="340" cy="1213"/><circle cx="352" cy="1217"/><circle cx="345" cy="1202"/><circle cx="313" cy="1217"/><circle cx="323" cy="1204"/><circle cx="315" cy="1218"/><circle cx="328" cy="1195"/><circle cx="308" cy="1183"/><circle cx="333" cy="1214"/><circle cx="304" cy="1214"/><circle cx="331" cy="1214"/><circle cx="303" cy="1211"/><circle cx="315" cy="1211"/><circle cx="329" cy="1201"/><circle cx="338" cy="1214"/><circle cx="310" cy="1194"/><circle cx="301" cy="1219"/><circle cx="302" cy="1198"/><circle cx="335" cy="1183"/><circle cx="341" cy="1212"/><circle cx="327" cy="1200"/><circle cx="313" cy="1198"/><circle cx="326" cy="1216"/><circle cx="321" cy="1207"/><circle cx="307" cy="1189"/><circle cx="362" cy="1210"/><circle cx="361" cy="1204"/><circle cx="335" cy="1215"/><circle cx="364" cy="1187"/><circle cx="329" cy="1210"/><circle cx="302" cy="1208"/><circle cx="357" cy="1213"/><circle cx="317" cy="1206"/><circle cx="353" cy="1216"/><circle cx="317" cy="1205"/><circle cx="300" cy="1199"/><circle cx="319" cy="1195"/></g>
<g class="k"><circle cx="401" cy="1216"/><circle cx="375" cy="1201"/><circle cx="390" cy="1208"/><circle cx="421" cy="1221"/><circle cx="392" cy="1208"/><circle cx="418" cy="1218"/><circle cx="379" cy="1205"/><circle cx="387" cy="1202"/><circle cx="397" cy="1210"/><circle cx="427" cy="1218"/><circle cx="427" cy="1223"/><circle cx="375" cy="1210"/><circle cx="422" cy="1220"/><circle cx="427" cy="1220"/><circle cx="376" cy="1201"/><circle cx="393" cy="1210"/><circle cx="423" cy="1216"/><circle cx="395" cy="1206"/><circle cx="388" cy="1204"/><circle cx="399" cy="1213"/><circle cx="413" cy="1217"/><circle cx="427" cy="1213"/><circle cx="400" cy="1201"/><circle cx="395" cy="1207"/><circle cx="381" cy="1202"/><circle cx="388" cy="1189"/><circle cx="395" cy="1196"/><circle cx="390" cy="1205"/><circle cx="392" cy="1200"/><circle cx="428" cy="1218"/><circle cx="387" cy="1204"/><circle cx="389" cy="1164"/><circle cx="429" cy="1218"/><circle cx="377" cy="1198"/><circle cx="409" cy="1219"/><circle cx="399" cy="1200"/><circle cx="374" cy="1190"/><circle cx="415" cy="1201"/><circle cx="403" cy="1212"/><circle cx="405" cy="1219"/><circle cx="405" cy="1217"/><circle cx="393" cy="1208"/><circle cx="384" cy="1206"/><circle cx="406" cy="1217"/><circle cx="407" cy="1211"/><circle cx="388" cy="1205"/><circle cx="409" cy="1206"/><circle cx="415" cy="1212"/><circle cx="409" cy="1220"/><circle cx="392" cy="1186"/><circle cx="397" cy="1213"/><circle cx="399" cy="1195"/><circle cx="380" cy="1205"/><circle cx="404" cy="1194"/><circle cx="397" cy="1212"/><circle cx="420" cy="1220"/><circle cx="392" cy="1195"/><circle cx="425" cy="1195"/><circle cx="393" cy="1205"/><circle cx="396" cy="1211"/><circle cx="390" cy="1187"/><circle cx="432" cy="1217"/><circle cx="378" cy="1189"/><circle cx="431" cy="1201"/></g>
<g class="g"><circle cx="455" cy="1214"/><circle cx="467" cy="1214"/><circle cx="458" cy="1217"/><circle cx="468" cy="1208"/><circle cx="455" cy="1207"/><circle cx="453" cy="1215"/><circle cx="457" cy="1212"/><circle cx="468" cy="1207"/><circle cx="453" cy="1211"/><circle cx="458" cy="1213"/><circle cx="473" cy="1215"/><circle cx="460" cy="1213"/><circle cx="459" cy="1217"/><circle cx="461" cy="1201"/><circle cx="454" cy="1205"/><circle cx="467" cy="1206"/><circle cx="472" cy="1195"/><circle cx="474" cy="1196"/><circle cx="460" cy="1206"/><circle cx="441" cy="1198"/><circle cx="467" cy="1196"/><circle cx="467" cy="1212"/><circle cx="464" cy="1208"/><circle cx="454" cy="1186"/><circle cx="455" cy="1204"/><circle cx="442" cy="1210"/><circle cx="448" cy="1209"/><circle cx="459" cy="1212"/><circle cx="443" cy="1211"/><circle cx="466" cy="1167"/><circle cx="467" cy="1203"/><circle cx="445" cy="1192"/><circle cx="445" cy="1211"/><circle cx="458" cy="1187"/><circle cx="451" cy="1187"/><circle cx="452" cy="1168"/><circle cx="466" cy="1186"/><circle cx="475" cy="1190"/><circle cx="447" cy="1203"/><circle cx="460" cy="1196"/><circle cx="448" cy="1201"/></g>
<g class="k"><circle cx="497" cy="1207"/><circle cx="506" cy="1215"/><circle cx="511" cy="1211"/><circle cx="494" cy="1207"/><circle cx="503" cy="1209"/><circle cx="499" cy="1208"/><circle cx="498" cy="1213"/><circle cx="515" cy="1214"/><circle cx="530" cy="1216"/><circle cx="489" cy="1198"/><circle cx="510" cy="1215"/><circle cx="510" cy="1208"/><circle cx="507" cy="1213"/><circle cx="523" cy="1213"/><circle cx="494" cy="1202"/><circle cx="509" cy="1215"/><circle cx="488" cy="1198"/><circle cx="513" cy="1213"/><circle cx="494" cy="1209"/><circle cx="484" cy="1200"/><circle cx="529" cy="1208"/><circle cx="534" cy="1193"/><circle cx="513" cy="1206"/><circle cx="512" cy="1190"/><circle cx="500" cy="1210"/><circle cx="529" cy="1203"/><circle cx="502" cy="1206"/><circle cx="488" cy="1187"/><circle cx="523" cy="1206"/><circle cx="519" cy="1197"/><circle cx="500" cy="1199"/><circle cx="533" cy="1200"/><circle cx="492" cy="1192"/><circle cx="516" cy="1195"/><circle cx="519" cy="1183"/><circle cx="533" cy="1213"/><circle cx="507" cy="1212"/><circle cx="534" cy="1215"/><circle cx="505" cy="1200"/><circle cx="505" cy="1210"/><circle cx="509" cy="1210"/><circle cx="508" cy="1197"/><circle cx="498" cy="1204"/><circle cx="515" cy="1204"/><circle cx="524" cy="1186"/><circle cx="533" cy="1214"/><circle cx="507" cy="1211"/><circle cx="519" cy="1208"/><circle cx="527" cy="1207"/><circle cx="524" cy="1215"/><circle cx="514" cy="1207"/><circle cx="526" cy="1214"/><circle cx="487" cy="1181"/><circle cx="499" cy="1205"/><circle cx="503" cy="1157"/><circle cx="515" cy="1191"/><circle cx="526" cy="1190"/></g>
<g class="g"><circle cx="567" cy="1207"/><circle cx="571" cy="1215"/><circle cx="593" cy="1216"/><circle cx="594" cy="1219"/><circle cx="543" cy="1215"/><circle cx="587" cy="1210"/><circle cx="563" cy="1210"/><circle cx="571" cy="1211"/><circle cx="546" cy="1210"/><circle cx="592" cy="1214"/><circle cx="569" cy="1211"/><circle cx="558" cy="1207"/><circle cx="571" cy="1215"/><circle cx="590" cy="1212"/><circle cx="570" cy="1213"/><circle cx="593" cy="1216"/><circle cx="578" cy="1214"/><circle cx="580" cy="1218"/><circle cx="599" cy="1223"/><circle cx="548" cy="1214"/><circle cx="564" cy="1205"/><circle cx="547" cy="1182"/><circle cx="593" cy="1207"/><circle cx="570" cy="1208"/><circle cx="595" cy="1199"/><circle cx="551" cy="1201"/><circle cx="599" cy="1214"/><circle cx="563" cy="1203"/><circle cx="563" cy="1208"/><circle cx="578" cy="1210"/><circle cx="581" cy="1206"/><circle cx="590" cy="1199"/><circle cx="591" cy="1214"/><circle cx="587" cy="1197"/><circle cx="558" cy="1209"/><circle cx="547" cy="1194"/><circle cx="598" cy="1217"/><circle cx="555" cy="1204"/><circle cx="545" cy="1201"/><circle cx="591" cy="1193"/><circle cx="551" cy="1180"/><circle cx="587" cy="1214"/><circle cx="591" cy="1182"/><circle cx="592" cy="1199"/><circle cx="589" cy="1206"/><circle cx="542" cy="1201"/><circle cx="570" cy="1209"/><circle cx="549" cy="1185"/><circle cx="594" cy="1216"/><circle cx="542" cy="1200"/><circle cx="558" cy="1183"/><circle cx="568" cy="1195"/><circle cx="544" cy="1195"/><circle cx="553" cy="1204"/><circle cx="569" cy="1206"/><circle cx="555" cy="1203"/><circle cx="544" cy="1213"/><circle cx="549" cy="1188"/><circle cx="559" cy="1155"/><circle cx="594" cy="1215"/><circle cx="591" cy="1160"/><circle cx="567" cy="1202"/><circle cx="580" cy="1206"/></g>
<g class="k"><circle cx="621" cy="1210"/><circle cx="619" cy="1210"/><circle cx="607" cy="1214"/><circle cx="653" cy="1209"/><circle cx="617" cy="1210"/><circle cx="623" cy="1198"/><circle cx="609" cy="1212"/><circle cx="652" cy="1216"/><circle cx="653" cy="1215"/><circle cx="664" cy="1214"/><circle cx="647" cy="1210"/><circle cx="662" cy="1215"/><circle cx="648" cy="1214"/><circle cx="662" cy="1219"/><circle cx="625" cy="1201"/><circle cx="652" cy="1218"/><circle cx="620" cy="1212"/><circle cx="648" cy="1207"/><circle cx="613" cy="1214"/><circle cx="641" cy="1200"/><circle cx="642" cy="1203"/><circle cx="639" cy="1191"/><circle cx="654" cy="1198"/><circle cx="611" cy="1205"/><circle cx="613" cy="1205"/><circle cx="645" cy="1196"/><circle cx="607" cy="1208"/><circle cx="616" cy="1204"/><circle cx="635" cy="1186"/><circle cx="650" cy="1209"/><circle cx="634" cy="1191"/><circle cx="618" cy="1200"/><circle cx="615" cy="1193"/><circle cx="628" cy="1193"/><circle cx="652" cy="1213"/><circle cx="623" cy="1191"/><circle cx="607" cy="1202"/><circle cx="639" cy="1151"/><circle cx="624" cy="1179"/><circle cx="663" cy="1209"/><circle cx="611" cy="1210"/><circle cx="653" cy="1214"/><circle cx="643" cy="1198"/><circle cx="649" cy="1207"/><circle cx="660" cy="1215"/><circle cx="630" cy="1190"/><circle cx="638" cy="1196"/><circle cx="629" cy="1187"/><circle cx="659" cy="1216"/><circle cx="623" cy="1204"/><circle cx="647" cy="1193"/><circle cx="607" cy="1198"/><circle cx="657" cy="1208"/><circle cx="641" cy="1183"/><circle cx="660" cy="1213"/><circle cx="647" cy="1211"/><circle cx="627" cy="1165"/><circle cx="642" cy="1197"/><circle cx="632" cy="1186"/><circle cx="608" cy="1206"/><circle cx="661" cy="1215"/><circle cx="608" cy="1204"/><circle cx="654" cy="1207"/></g>
<g class="g"><circle cx="674" cy="1214"/><circle cx="694" cy="1209"/><circle cx="699" cy="1213"/><circle cx="698" cy="1209"/><circle cx="683" cy="1214"/><circle cx="694" cy="1216"/><circle cx="704" cy="1215"/><circle cx="671" cy="1212"/><circle cx="694" cy="1215"/><circle cx="682" cy="1207"/><circle cx="691" cy="1209"/><circle cx="689" cy="1209"/><circle cx="701" cy="1207"/><circle cx="690" cy="1186"/><circle cx="693" cy="1211"/><circle cx="690" cy="1191"/><circle cx="693" cy="1183"/><circle cx="699" cy="1207"/><circle cx="675" cy="1198"/><circle cx="687" cy="1191"/><circle cx="686" cy="1197"/><circle cx="676" cy="1195"/><circle cx="701" cy="1192"/><circle cx="698" cy="1199"/><circle cx="677" cy="1208"/><circle cx="680" cy="1209"/><circle cx="691" cy="1208"/><circle cx="694" cy="1185"/><circle cx="705" cy="1213"/><circle cx="692" cy="1202"/><circle cx="686" cy="1196"/><circle cx="701" cy="1210"/><circle cx="693" cy="1211"/><circle cx="686" cy="1208"/><circle cx="699" cy="1182"/><circle cx="701" cy="1204"/><circle cx="695" cy="1200"/><circle cx="690" cy="1211"/><circle cx="680" cy="1173"/><circle cx="691" cy="1212"/></g>
<g class="k"><circle cx="727" cy="1216"/><circle cx="718" cy="1219"/><circle cx="725" cy="1215"/><circle cx="733" cy="1225"/><circle cx="732" cy="1219"/><circle cx="728" cy="1218"/><circle cx="726" cy="1217"/><circle cx="730" cy="1225"/><circle cx="728" cy="1225"/><circle cx="733" cy="1222"/><circle cx="733" cy="1219"/><circle cx="750" cy="1221"/><circle cx="720" cy="1218"/><circle cx="729" cy="1221"/><circle cx="728" cy="1218"/><circle cx="725" cy="1156"/><circle cx="744" cy="1195"/><circle cx="750" cy="1219"/><circle cx="735" cy="1205"/><circle cx="733" cy="1212"/><circle cx="739" cy="1208"/><circle cx="720" cy="1221"/><circle cx="724" cy="1221"/><circle cx="725" cy="1221"/><circle cx="717" cy="1207"/><circle cx="721" cy="1205"/><circle cx="730" cy="1198"/><circle cx="736" cy="1195"/><circle cx="730" cy="1214"/><circle cx="752" cy="1206"/><circle cx="730" cy="1195"/><circle cx="743" cy="1208"/><circle cx="713" cy="1193"/><circle cx="717" cy="1221"/><circle cx="727" cy="1219"/><circle cx="722" cy="1213"/><circle cx="734" cy="1207"/><circle cx="749" cy="1206"/><circle cx="749" cy="1214"/><circle cx="719" cy="1205"/><circle cx="754" cy="1219"/><circle cx="738" cy="1215"/><circle cx="754" cy="1221"/><circle cx="733" cy="1216"/><circle cx="728" cy="1204"/><circle cx="712" cy="1217"/><circle cx="753" cy="1213"/></g>
<g class="g"><circle cx="762" cy="1218"/><circle cx="790" cy="1221"/><circle cx="799" cy="1221"/><circle cx="773" cy="1214"/><circle cx="791" cy="1215"/><circle cx="778" cy="1211"/><circle cx="770" cy="1212"/><circle cx="777" cy="1219"/><circle cx="770" cy="1214"/><circle cx="765" cy="1215"/><circle cx="787" cy="1217"/><circle cx="789" cy="1217"/><circle cx="791" cy="1220"/><circle cx="797" cy="1211"/><circle cx="801" cy="1216"/><circle cx="804" cy="1199"/><circle cx="781" cy="1217"/><circle cx="766" cy="1198"/><circle cx="762" cy="1217"/><circle cx="791" cy="1205"/><circle cx="790" cy="1216"/><circle cx="803" cy="1199"/><circle cx="762" cy="1206"/><circle cx="775" cy="1214"/><circle cx="788" cy="1164"/><circle cx="763" cy="1196"/><circle cx="801" cy="1216"/><circle cx="800" cy="1217"/><circle cx="775" cy="1217"/><circle cx="769" cy="1215"/><circle cx="786" cy="1210"/><circle cx="803" cy="1199"/><circle cx="765" cy="1216"/><circle cx="773" cy="1195"/><circle cx="796" cy="1194"/><circle cx="799" cy="1200"/><circle cx="785" cy="1193"/><circle cx="797" cy="1195"/><circle cx="799" cy="1208"/><circle cx="765" cy="1205"/><circle cx="791" cy="1179"/><circle cx="793" cy="1188"/><circle cx="801" cy="1212"/><circle cx="801" cy="1206"/><circle cx="780" cy="1210"/><circle cx="783" cy="1210"/><circle cx="792" cy="1214"/><circle cx="780" cy="1204"/></g>
<g class="k"><circle cx="875" cy="1227"/><circle cx="848" cy="1220"/><circle cx="855" cy="1227"/><circle cx="812" cy="1210"/><circle cx="830" cy="1223"/><circle cx="855" cy="1216"/><circle cx="871" cy="1223"/><circle cx="820" cy="1211"/><circle cx="816" cy="1210"/><circle cx="817" cy="1216"/><circle cx="820" cy="1215"/><circle cx="855" cy="1221"/><circle cx="830" cy="1220"/><circle cx="842" cy="1222"/><circle cx="850" cy="1220"/><circle cx="856" cy="1226"/><circle cx="875" cy="1226"/><circle cx="831" cy="1215"/><circle cx="840" cy="1226"/><circle cx="877" cy="1227"/><circle cx="824" cy="1214"/><circle cx="821" cy="1215"/><circle cx="874" cy="1223"/><circle cx="865" cy="1214"/><circle cx="829" cy="1213"/><circle cx="815" cy="1201"/><circle cx="871" cy="1220"/><circle cx="875" cy="1222"/><circle cx="834" cy="1206"/><circle cx="825" cy="1219"/><circle cx="844" cy="1214"/><circle cx="822" cy="1215"/><circle cx="819" cy="1213"/><circle cx="821" cy="1203"/><circle cx="870" cy="1213"/><circle cx="826" cy="1209"/><circle cx="874" cy="1220"/><circle cx="859" cy="1223"/><circle cx="862" cy="1198"/><circle cx="847" cy="1193"/><circle cx="851" cy="1203"/><circle cx="844" cy="1216"/><circle cx="829" cy="1210"/><circle cx="862" cy="1223"/><circle cx="856" cy="1223"/><circle cx="854" cy="1207"/><circle cx="872" cy="1212"/><circle cx="854" cy="1208"/><circle cx="856" cy="1208"/><circle cx="856" cy="1199"/><circle cx="835" cy="1182"/><circle cx="824" cy="1218"/><circle cx="814" cy="1203"/><circle cx="868" cy="1223"/><circle cx="870" cy="1216"/><circle cx="855" cy="1221"/><circle cx="877" cy="1218"/><circle cx="827" cy="1207"/><circle cx="814" cy="1200"/><circle cx="867" cy="1223"/><circle cx="828" cy="1216"/><circle cx="824" cy="1206"/><circle cx="865" cy="1216"/><circle cx="857" cy="1192"/><circle cx="865" cy="1218"/><circle cx="870" cy="1222"/><circle cx="866" cy="1223"/><circle cx="832" cy="1220"/><circle cx="848" cy="1221"/><circle cx="851" cy="1220"/></g>
<g class="g"><circle cx="923" cy="1219"/><circle cx="902" cy="1215"/><circle cx="928" cy="1216"/><circle cx="903" cy="1224"/><circle cx="935" cy="1222"/><circle cx="921" cy="1223"/><circle cx="933" cy="1223"/><circle cx="928" cy="1218"/><circle cx="928" cy="1218"/><circle cx="917" cy="1214"/><circle cx="893" cy="1221"/><circle cx="889" cy="1215"/><circle cx="935" cy="1224"/><circle cx="941" cy="1223"/><circle cx="902" cy="1220"/><circle cx="914" cy="1215"/><circle cx="893" cy="1221"/><circle cx="909" cy="1220"/><circle cx="938" cy="1214"/><circle cx="893" cy="1225"/><circle cx="891" cy="1214"/><circle cx="916" cy="1216"/><circle cx="906" cy="1218"/><circle cx="931" cy="1217"/><circle cx="926" cy="1212"/><circle cx="914" cy="1219"/><circle cx="936" cy="1220"/><circle cx="935" cy="1220"/><circle cx="906" cy="1213"/><circle cx="920" cy="1216"/><circle cx="942" cy="1215"/><circle cx="897" cy="1203"/><circle cx="922" cy="1208"/><circle cx="940" cy="1193"/><circle cx="902" cy="1191"/><circle cx="936" cy="1220"/><circle cx="914" cy="1194"/><circle cx="908" cy="1215"/><circle cx="912" cy="1196"/><circle cx="885" cy="1206"/><circle cx="925" cy="1180"/><circle cx="922" cy="1216"/><circle cx="922" cy="1203"/><circle cx="892" cy="1201"/><circle cx="919" cy="1209"/><circle cx="922" cy="1208"/><circle cx="893" cy="1218"/><circle cx="884" cy="1215"/><circle cx="897" cy="1209"/><circle cx="890" cy="1219"/><circle cx="914" cy="1200"/><circle cx="912" cy="1220"/><circle cx="938" cy="1210"/><circle cx="937" cy="1202"/><circle cx="937" cy="1198"/><circle cx="928" cy="1194"/><circle cx="923" cy="1173"/><circle cx="938" cy="1218"/><circle cx="912" cy="1183"/><circle cx="924" cy="1208"/><circle cx="908" cy="1219"/><circle cx="909" cy="1220"/><circle cx="894" cy="1212"/></g>
<g class="k"><circle cx="956" cy="1222"/><circle cx="958" cy="1223"/><circle cx="958" cy="1224"/><circle cx="950" cy="1220"/><circle cx="963" cy="1223"/><circle cx="962" cy="1226"/><circle cx="952" cy="1213"/><circle cx="962" cy="1216"/><circle cx="957" cy="1219"/><circle cx="950" cy="1190"/><circle cx="960" cy="1202"/><circle cx="962" cy="1211"/><circle cx="962" cy="1202"/><circle cx="956" cy="1213"/><circle cx="952" cy="1214"/><circle cx="962" cy="1221"/><circle cx="963" cy="1218"/><circle cx="957" cy="1217"/><circle cx="950" cy="1209"/><circle cx="952" cy="1215"/></g>
<g class="g"><circle cx="999" cy="1214"/><circle cx="983" cy="1210"/><circle cx="971" cy="1218"/><circle cx="987" cy="1212"/><circle cx="997" cy="1215"/><circle cx="979" cy="1219"/><circle cx="985" cy="1212"/><circle cx="1004" cy="1213"/><circle cx="987" cy="1218"/><circle cx="993" cy="1211"/><circle cx="972" cy="1209"/><circle cx="976" cy="1217"/><circle cx="984" cy="1206"/><circle cx="981" cy="1215"/><circle cx="1005" cy="1201"/><circle cx="994" cy="1202"/><circle cx="972" cy="1193"/><circle cx="1001" cy="1212"/><circle cx="1000" cy="1172"/><circle cx="977" cy="1184"/><circle cx="972" cy="1197"/><circle cx="1004" cy="1213"/><circle cx="986" cy="1215"/><circle cx="989" cy="1215"/><circle cx="988" cy="1213"/><circle cx="977" cy="1201"/><circle cx="979" cy="1213"/><circle cx="981" cy="1209"/><circle cx="994" cy="1204"/><circle cx="991" cy="1200"/><circle cx="980" cy="1201"/><circle cx="973" cy="1214"/><circle cx="990" cy="1202"/><circle cx="980" cy="1162"/><circle cx="975" cy="1194"/><circle cx="989" cy="1204"/><circle cx="985" cy="1215"/><circle cx="986" cy="1201"/><circle cx="996" cy="1193"/></g>
<g class="k"><circle cx="1022" cy="1209"/><circle cx="1016" cy="1209"/><circle cx="1025" cy="1213"/><circle cx="1015" cy="1204"/><circle cx="1032" cy="1213"/><circle cx="1014" cy="1211"/><circle cx="1017" cy="1213"/><circle cx="1032" cy="1206"/><circle cx="1024" cy="1213"/><circle cx="1043" cy="1204"/><circle cx="1026" cy="1205"/><circle cx="1043" cy="1214"/><circle cx="1025" cy="1186"/><circle cx="1020" cy="1186"/><circle cx="1018" cy="1206"/><circle cx="1029" cy="1193"/><circle cx="1027" cy="1209"/><circle cx="1013" cy="1208"/><circle cx="1021" cy="1197"/><circle cx="1018" cy="1179"/><circle cx="1033" cy="1206"/><circle cx="1030" cy="1186"/><circle cx="1020" cy="1196"/><circle cx="1033" cy="1188"/><circle cx="1033" cy="1210"/><circle cx="1040" cy="1207"/><circle cx="1032" cy="1209"/><circle cx="1037" cy="1188"/><circle cx="1038" cy="1195"/><circle cx="1041" cy="1201"/><circle cx="1040" cy="1206"/><circle cx="1016" cy="1207"/><circle cx="1025" cy="1191"/><circle cx="1037" cy="1206"/><circle cx="1037" cy="1181"/><circle cx="1025" cy="1195"/><circle cx="1021" cy="1204"/><circle cx="1019" cy="1205"/></g>
<g class="g"><circle cx="1055" cy="1210"/><circle cx="1094" cy="1208"/><circle cx="1062" cy="1216"/><circle cx="1070" cy="1208"/><circle cx="1060" cy="1206"/><circle cx="1098" cy="1214"/><circle cx="1103" cy="1216"/><circle cx="1085" cy="1216"/><circle cx="1064" cy="1214"/><circle cx="1095" cy="1207"/><circle cx="1101" cy="1217"/><circle cx="1063" cy="1208"/><circle cx="1057" cy="1208"/><circle cx="1069" cy="1215"/><circle cx="1063" cy="1208"/><circle cx="1088" cy="1215"/><circle cx="1051" cy="1215"/><circle cx="1088" cy="1209"/><circle cx="1076" cy="1212"/><circle cx="1075" cy="1212"/><circle cx="1091" cy="1203"/><circle cx="1060" cy="1209"/><circle cx="1082" cy="1208"/><circle cx="1092" cy="1201"/><circle cx="1092" cy="1211"/><circle cx="1062" cy="1175"/><circle cx="1090" cy="1205"/><circle cx="1105" cy="1212"/><circle cx="1084" cy="1211"/><circle cx="1068" cy="1209"/><circle cx="1072" cy="1212"/><circle cx="1061" cy="1198"/><circle cx="1060" cy="1204"/><circle cx="1103" cy="1193"/><circle cx="1056" cy="1195"/><circle cx="1082" cy="1202"/><circle cx="1094" cy="1171"/><circle cx="1070" cy="1190"/><circle cx="1062" cy="1202"/><circle cx="1099" cy="1192"/><circle cx="1070" cy="1184"/><circle cx="1082" cy="1184"/><circle cx="1094" cy="1205"/><circle cx="1070" cy="1211"/><circle cx="1099" cy="1211"/><circle cx="1055" cy="1208"/><circle cx="1058" cy="1209"/><circle cx="1088" cy="1207"/><circle cx="1097" cy="1206"/><circle cx="1098" cy="1190"/><circle cx="1065" cy="1202"/><circle cx="1087" cy="1210"/><circle cx="1053" cy="1186"/><circle cx="1052" cy="1210"/><circle cx="1058" cy="1189"/><circle cx="1086" cy="1203"/><circle cx="1078" cy="1170"/><circle cx="1062" cy="1189"/></g>
<g class="k"><circle cx="1134" cy="1223"/><circle cx="1165" cy="1224"/><circle cx="1156" cy="1227"/><circle cx="1116" cy="1224"/><circle cx="1143" cy="1229"/><circle cx="1172" cy="1225"/><circle cx="1142" cy="1228"/><circle cx="1169" cy="1220"/><circle cx="1174" cy="1229"/><circle cx="1134" cy="1227"/><circle cx="1149" cy="1223"/><circle cx="1117" cy="1226"/><circle cx="1168" cy="1224"/><circle cx="1161" cy="1222"/><circle cx="1176" cy="1228"/><circle cx="1150" cy="1221"/><circle cx="1112" cy="1224"/><circle cx="1131" cy="1220"/><circle cx="1136" cy="1230"/><circle cx="1152" cy="1227"/><circle cx="1145" cy="1223"/><circle cx="1124" cy="1226"/><circle cx="1165" cy="1226"/><circle cx="1147" cy="1226"/><circle cx="1127" cy="1230"/><circle cx="1178" cy="1221"/><circle cx="1178" cy="1210"/><circle cx="1114" cy="1207"/><circle cx="1175" cy="1222"/><circle cx="1127" cy="1218"/><circle cx="1115" cy="1224"/><circle cx="1166" cy="1220"/><circle cx="1142" cy="1195"/><circle cx="1173" cy="1222"/><circle cx="1115" cy="1226"/><circle cx="1163" cy="1216"/><circle cx="1188" cy="1216"/><circle cx="1159" cy="1206"/><circle cx="1151" cy="1217"/><circle cx="1139" cy="1218"/><circle cx="1166" cy="1218"/><circle cx="1169" cy="1220"/><circle cx="1160" cy="1219"/><circle cx="1155" cy="1207"/><circle cx="1120" cy="1226"/><circle cx="1128" cy="1223"/><circle cx="1123" cy="1216"/><circle cx="1147" cy="1219"/><circle cx="1171" cy="1225"/><circle cx="1183" cy="1207"/><circle cx="1131" cy="1208"/><circle cx="1178" cy="1226"/><circle cx="1138" cy="1210"/><circle cx="1137" cy="1224"/><circle cx="1134" cy="1222"/><circle cx="1167" cy="1217"/><circle cx="1139" cy="1175"/><circle cx="1138" cy="1216"/><circle cx="1182" cy="1173"/><circle cx="1144" cy="1220"/><circle cx="1159" cy="1217"/><circle cx="1154" cy="1216"/><circle cx="1127" cy="1224"/><circle cx="1155" cy="1223"/><circle cx="1147" cy="1226"/><circle cx="1139" cy="1224"/><circle cx="1149" cy="1196"/><circle cx="1125" cy="1223"/><circle cx="1138" cy="1222"/><circle cx="1119" cy="1225"/><circle cx="1164" cy="1201"/><circle cx="1112" cy="1208"/><circle cx="1173" cy="1209"/><circle cx="1170" cy="1225"/><circle cx="1134" cy="1202"/><circle cx="1152" cy="1207"/><circle cx="1131" cy="1202"/><circle cx="1181" cy="1224"/><circle cx="1168" cy="1140"/><circle cx="1115" cy="1223"/><circle cx="1182" cy="1211"/><circle cx="1139" cy="1224"/></g>
<g class="g"><circle cx="1208" cy="1214"/><circle cx="1209" cy="1214"/><circle cx="1200" cy="1219"/><circle cx="1204" cy="1223"/><circle cx="1201" cy="1224"/><circle cx="1200" cy="1218"/><circle cx="1209" cy="1215"/><circle cx="1202" cy="1219"/><circle cx="1206" cy="1211"/><circle cx="1207" cy="1206"/><circle cx="1201" cy="1220"/><circle cx="1200" cy="1212"/><circle cx="1201" cy="1213"/><circle cx="1199" cy="1217"/><circle cx="1208" cy="1200"/><circle cx="1201" cy="1198"/><circle cx="1197" cy="1207"/><circle cx="1199" cy="1216"/><circle cx="1202" cy="1209"/></g>
<g class="k"><circle cx="1246" cy="1227"/><circle cx="1255" cy="1233"/><circle cx="1309" cy="1238"/><circle cx="1290" cy="1237"/><circle cx="1220" cy="1235"/><circle cx="1253" cy="1224"/><circle cx="1237" cy="1234"/><circle cx="1283" cy="1227"/><circle cx="1248" cy="1235"/><circle cx="1317" cy="1238"/><circle cx="1306" cy="1238"/><circle cx="1305" cy="1233"/><circle cx="1242" cy="1231"/><circle cx="1220" cy="1232"/><circle cx="1244" cy="1227"/><circle cx="1259" cy="1231"/><circle cx="1265" cy="1225"/><circle cx="1315" cy="1230"/><circle cx="1275" cy="1234"/><circle cx="1285" cy="1231"/><circle cx="1306" cy="1229"/><circle cx="1270" cy="1226"/><circle cx="1267" cy="1228"/><circle cx="1300" cy="1233"/><circle cx="1234" cy="1227"/><circle cx="1229" cy="1231"/><circle cx="1303" cy="1238"/><circle cx="1292" cy="1228"/><circle cx="1280" cy="1229"/><circle cx="1229" cy="1226"/><circle cx="1294" cy="1228"/><circle cx="1304" cy="1231"/><circle cx="1254" cy="1234"/><circle cx="1234" cy="1224"/><circle cx="1302" cy="1221"/><circle cx="1240" cy="1230"/><circle cx="1299" cy="1222"/><circle cx="1312" cy="1232"/><circle cx="1245" cy="1215"/><circle cx="1248" cy="1181"/><circle cx="1247" cy="1229"/><circle cx="1266" cy="1230"/><circle cx="1255" cy="1195"/><circle cx="1282" cy="1225"/><circle cx="1283" cy="1210"/><circle cx="1222" cy="1191"/><circle cx="1307" cy="1227"/><circle cx="1237" cy="1215"/><circle cx="1271" cy="1230"/><circle cx="1277" cy="1223"/><circle cx="1276" cy="1232"/><circle cx="1271" cy="1224"/><circle cx="1303" cy="1218"/><circle cx="1288" cy="1222"/><circle cx="1239" cy="1208"/><circle cx="1242" cy="1190"/><circle cx="1269" cy="1224"/><circle cx="1256" cy="1222"/><circle cx="1267" cy="1229"/><circle cx="1258" cy="1230"/><circle cx="1273" cy="1230"/><circle cx="1239" cy="1231"/><circle cx="1267" cy="1231"/><circle cx="1264" cy="1217"/><circle cx="1228" cy="1226"/><circle cx="1246" cy="1223"/><circle cx="1247" cy="1225"/><circle cx="1303" cy="1234"/><circle cx="1309" cy="1204"/><circle cx="1280" cy="1214"/><circle cx="1290" cy="1226"/><circle cx="1233" cy="1230"/><circle cx="1277" cy="1217"/><circle cx="1288" cy="1179"/><circle cx="1246" cy="1219"/><circle cx="1244" cy="1205"/><circle cx="1222" cy="1220"/><circle cx="1304" cy="1231"/><circle cx="1314" cy="1227"/><circle cx="1317" cy="1230"/><circle cx="1307" cy="1229"/><circle cx="1299" cy="1203"/><circle cx="1274" cy="1214"/><circle cx="1292" cy="1203"/><circle cx="1298" cy="1221"/><circle cx="1289" cy="1222"/><circle cx="1242" cy="1231"/><circle cx="1309" cy="1233"/><circle cx="1259" cy="1228"/><circle cx="1239" cy="1229"/><circle cx="1271" cy="1230"/><circle cx="1303" cy="1222"/><circle cx="1229" cy="1229"/><circle cx="1291" cy="1191"/><circle cx="1257" cy="1230"/><circle cx="1241" cy="1220"/><circle cx="1253" cy="1214"/><circle cx="1221" cy="1179"/><circle cx="1224" cy="1218"/><circle cx="1267" cy="1204"/><circle cx="1259" cy="1225"/><circle cx="1251" cy="1198"/><circle cx="1285" cy="1227"/><circle cx="1258" cy="1224"/></g>
<g class="g"><circle cx="1327" cy="1226"/><circle cx="1350" cy="1226"/><circle cx="1340" cy="1216"/><circle cx="1327" cy="1218"/><circle cx="1338" cy="1219"/><circle cx="1354" cy="1226"/><circle cx="1337" cy="1219"/><circle cx="1335" cy="1221"/><circle cx="1337" cy="1217"/><circle cx="1350" cy="1224"/><circle cx="1355" cy="1219"/><circle cx="1337" cy="1202"/><circle cx="1337" cy="1194"/><circle cx="1347" cy="1218"/><circle cx="1346" cy="1215"/><circle cx="1353" cy="1219"/><circle cx="1331" cy="1217"/><circle cx="1326" cy="1221"/><circle cx="1350" cy="1212"/><circle cx="1348" cy="1204"/><circle cx="1343" cy="1216"/><circle cx="1351" cy="1217"/><circle cx="1351" cy="1221"/><circle cx="1343" cy="1178"/><circle cx="1340" cy="1217"/><circle cx="1339" cy="1215"/><circle cx="1329" cy="1215"/><circle cx="1330" cy="1214"/><circle cx="1340" cy="1212"/><circle cx="1345" cy="1222"/><circle cx="1326" cy="1216"/><circle cx="1326" cy="1204"/><circle cx="1346" cy="1219"/><circle cx="1341" cy="1218"/><circle cx="1334" cy="1209"/><circle cx="1339" cy="1221"/></g>
<g class="k"><circle cx="1362" cy="1219"/><circle cx="1369" cy="1220"/><circle cx="1366" cy="1219"/><circle cx="1366" cy="1221"/><circle cx="1366" cy="1212"/><circle cx="1364" cy="1213"/><circle cx="1365" cy="1210"/><circle cx="1362" cy="1213"/><circle cx="1369" cy="1212"/><circle cx="1368" cy="1206"/><circle cx="1370" cy="1209"/><circle cx="1362" cy="1209"/><circle cx="1369" cy="1174"/><circle cx="1367" cy="1213"/></g>
<g class="g"><circle cx="1402" cy="1211"/><circle cx="1408" cy="1219"/><circle cx="1389" cy="1218"/><circle cx="1413" cy="1220"/><circle cx="1410" cy="1217"/><circle cx="1396" cy="1216"/><circle cx="1395" cy="1213"/><circle cx="1395" cy="1211"/><circle cx="1395" cy="1217"/><circle cx="1388" cy="1220"/><circle cx="1412" cy="1220"/><circle cx="1399" cy="1219"/><circle cx="1381" cy="1212"/><circle cx="1381" cy="1214"/><circle cx="1377" cy="1211"/><circle cx="1412" cy="1207"/><circle cx="1380" cy="1206"/><circle cx="1401" cy="1201"/><circle cx="1383" cy="1212"/><circle cx="1392" cy="1207"/><circle cx="1409" cy="1208"/><circle cx="1404" cy="1206"/><circle cx="1392" cy="1215"/><circle cx="1414" cy="1188"/><circle cx="1405" cy="1205"/><circle cx="1409" cy="1213"/><circle cx="1379" cy="1207"/><circle cx="1390" cy="1214"/><circle cx="1388" cy="1170"/><circle cx="1407" cy="1216"/><circle cx="1387" cy="1197"/><circle cx="1403" cy="1213"/><circle cx="1399" cy="1187"/><circle cx="1377" cy="1180"/><circle cx="1388" cy="1213"/><circle cx="1395" cy="1208"/><circle cx="1382" cy="1213"/><circle cx="1405" cy="1212"/><circle cx="1379" cy="1209"/><circle cx="1397" cy="1191"/><circle cx="1403" cy="1203"/><circle cx="1412" cy="1204"/><circle cx="1399" cy="1204"/><circle cx="1393" cy="1198"/></g>
<g class="k"><circle cx="206" cy="1102"/><circle cx="224" cy="1113"/><circle cx="183" cy="1139"/><circle cx="204" cy="1141"/><circle cx="272" cy="1138"/><circle cx="181" cy="1166"/><circle cx="219" cy="1168"/><circle cx="214" cy="1177"/><circle cx="224" cy="1178"/><circle cx="233" cy="1179"/><circle cx="250" cy="1177"/><circle cx="180" cy="1188"/><circle cx="180" cy="1195"/><circle cx="200" cy="1192"/><circle cx="219" cy="1191"/><circle cx="233" cy="1188"/><circle cx="242" cy="1190"/><circle cx="254" cy="1190"/><circle cx="269" cy="1204"/><circle cx="282" cy="1196"/><circle cx="290" cy="1190"/><circle cx="299" cy="1192"/><circle cx="215" cy="1207"/><circle cx="253" cy="1089"/></g>
<g class="g"><circle cx="319" cy="1093"/><circle cx="308" cy="1111"/><circle cx="323" cy="1115"/><circle cx="361" cy="1112"/><circle cx="301" cy="1140"/><circle cx="320" cy="1134"/><circle cx="335" cy="1132"/><circle cx="344" cy="1134"/><circle cx="342" cy="1141"/><circle cx="339" cy="1147"/></g>
<g class="k"><circle cx="298" cy="1153"/></g>
<g class="g"><circle cx="300" cy="1164"/><circle cx="335" cy="1158"/><circle cx="354" cy="1164"/><circle cx="376" cy="1177"/><circle cx="331" cy="1177"/><circle cx="339" cy="1177"/><circle cx="331" cy="1189"/><circle cx="339" cy="1190"/><circle cx="316" cy="1195"/><circle cx="357" cy="1193"/><circle cx="376" cy="1207"/><circle cx="369" cy="1086"/><circle cx="307" cy="1111"/><circle cx="322" cy="1115"/></g>
<g class="k"><circle cx="392" cy="1086"/><circle cx="388" cy="1097"/><circle cx="390" cy="1111"/><circle cx="392" cy="1148"/><circle cx="398" cy="1151"/><circle cx="428" cy="1153"/><circle cx="391" cy="1170"/><circle cx="396" cy="1176"/><circle cx="390" cy="1184"/><circle cx="392" cy="1195"/><circle cx="409" cy="1202"/><circle cx="420" cy="1200"/><circle cx="429" cy="1202"/><circle cx="441" cy="1162"/></g>
<g class="g"><circle cx="443" cy="1123"/><circle cx="459" cy="1137"/><circle cx="456" cy="1149"/><circle cx="454" cy="1162"/><circle cx="445" cy="1168"/><circle cx="467" cy="1175"/><circle cx="444" cy="1188"/><circle cx="445" cy="1195"/><circle cx="459" cy="1191"/><circle cx="443" cy="1124"/><circle cx="472" cy="1128"/><circle cx="459" cy="1137"/><circle cx="457" cy="1149"/><circle cx="472" cy="1148"/><circle cx="484" cy="1148"/><circle cx="454" cy="1163"/><circle cx="468" cy="1163"/><circle cx="466" cy="1175"/><circle cx="470" cy="1189"/><circle cx="459" cy="1192"/><circle cx="472" cy="1203"/><circle cx="442" cy="1124"/><circle cx="472" cy="1128"/></g>
<g class="k"><circle cx="507" cy="1130"/><circle cx="495" cy="1152"/><circle cx="520" cy="1163"/><circle cx="486" cy="1161"/><circle cx="488" cy="1170"/><circle cx="486" cy="1176"/><circle cx="514" cy="1178"/><circle cx="537" cy="1185"/><circle cx="540" cy="1195"/><circle cx="537" cy="1200"/><circle cx="499" cy="1189"/><circle cx="522" cy="1196"/><circle cx="512" cy="1187"/><circle cx="507" cy="1207"/><circle cx="506" cy="1131"/></g>
<g class="g"><circle cx="554" cy="1101"/><circle cx="581" cy="1124"/><circle cx="554" cy="1131"/><circle cx="563" cy="1144"/><circle cx="588" cy="1137"/><circle cx="585" cy="1138"/><circle cx="580" cy="1146"/><circle cx="586" cy="1155"/><circle cx="602" cy="1155"/><circle cx="558" cy="1155"/><circle cx="556" cy="1162"/><circle cx="554" cy="1168"/><circle cx="599" cy="1167"/><circle cx="585" cy="1176"/><circle cx="565" cy="1177"/><circle cx="554" cy="1182"/><circle cx="577" cy="1187"/><circle cx="565" cy="1198"/><circle cx="553" cy="1100"/><circle cx="553" cy="1132"/></g>
<g class="k"><circle cx="621" cy="1118"/><circle cx="628" cy="1127"/><circle cx="637" cy="1127"/><circle cx="616" cy="1137"/><circle cx="616" cy="1146"/><circle cx="614" cy="1154"/><circle cx="626" cy="1143"/><circle cx="637" cy="1139"/><circle cx="637" cy="1149"/><circle cx="624" cy="1159"/><circle cx="631" cy="1161"/><circle cx="638" cy="1165"/><circle cx="614" cy="1174"/><circle cx="652" cy="1170"/><circle cx="667" cy="1135"/><circle cx="667" cy="1145"/><circle cx="664" cy="1187"/><circle cx="658" cy="1197"/><circle cx="614" cy="1194"/><circle cx="608" cy="1205"/><circle cx="622" cy="1116"/><circle cx="629" cy="1103"/></g>
<g class="g"><circle cx="676" cy="1128"/><circle cx="692" cy="1131"/><circle cx="684" cy="1166"/><circle cx="692" cy="1176"/><circle cx="683" cy="1179"/><circle cx="676" cy="1184"/><circle cx="713" cy="1149"/><circle cx="713" cy="1162"/><circle cx="713" cy="1179"/><circle cx="696" cy="1196"/></g>
<g class="k"><circle cx="724" cy="1132"/><circle cx="721" cy="1156"/><circle cx="735" cy="1159"/><circle cx="718" cy="1167"/><circle cx="725" cy="1187"/><circle cx="715" cy="1192"/><circle cx="731" cy="1193"/><circle cx="715" cy="1204"/><circle cx="719" cy="1211"/><circle cx="735" cy="1159"/><circle cx="748" cy="1160"/><circle cx="737" cy="1194"/><circle cx="740" cy="1203"/><circle cx="751" cy="1207"/></g>
<g class="g"><circle cx="795" cy="1111"/><circle cx="776" cy="1131"/><circle cx="776" cy="1135"/><circle cx="766" cy="1140"/><circle cx="801" cy="1147"/><circle cx="797" cy="1156"/><circle cx="782" cy="1166"/><circle cx="809" cy="1166"/><circle cx="798" cy="1178"/><circle cx="789" cy="1181"/><circle cx="776" cy="1181"/><circle cx="776" cy="1189"/><circle cx="789" cy="1194"/><circle cx="770" cy="1200"/><circle cx="795" cy="1111"/></g>
<g class="k"><circle cx="837" cy="1152"/><circle cx="833" cy="1157"/><circle cx="816" cy="1158"/><circle cx="818" cy="1167"/><circle cx="813" cy="1172"/><circle cx="815" cy="1181"/><circle cx="831" cy="1184"/><circle cx="838" cy="1185"/><circle cx="852" cy="1182"/><circle cx="857" cy="1182"/><circle cx="873" cy="1180"/><circle cx="868" cy="1190"/><circle cx="857" cy="1194"/><circle cx="838" cy="1195"/><circle cx="837" cy="1200"/><circle cx="852" cy="1205"/><circle cx="884" cy="1204"/><circle cx="885" cy="1144"/></g>
<g class="g"><circle cx="901" cy="1146"/><circle cx="893" cy="1154"/><circle cx="896" cy="1167"/><circle cx="908" cy="1170"/><circle cx="912" cy="1173"/><circle cx="928" cy="1175"/><circle cx="918" cy="1126"/><circle cx="895" cy="1186"/><circle cx="903" cy="1194"/><circle cx="918" cy="1193"/><circle cx="928" cy="1200"/><circle cx="904" cy="1207"/><circle cx="918" cy="1126"/></g>
<g class="k"><circle cx="972" cy="1138"/><circle cx="950" cy="1173"/><circle cx="961" cy="1173"/><circle cx="966" cy="1170"/><circle cx="961" cy="1186"/><circle cx="973" cy="1185"/><circle cx="973" cy="1192"/><circle cx="953" cy="1203"/><circle cx="963" cy="1203"/><circle cx="959" cy="1194"/><circle cx="973" cy="1136"/></g>
<g class="g"><circle cx="988" cy="1128"/><circle cx="993" cy="1127"/><circle cx="996" cy="1164"/><circle cx="1009" cy="1169"/><circle cx="985" cy="1178"/><circle cx="993" cy="1183"/><circle cx="986" cy="1195"/><circle cx="949" cy="1187"/><circle cx="944" cy="1198"/><circle cx="985" cy="1129"/><circle cx="990" cy="1127"/></g>
<g class="k"><circle cx="1014" cy="1179"/><circle cx="1015" cy="1193"/><circle cx="1018" cy="1166"/><circle cx="1024" cy="1158"/><circle cx="1021" cy="1166"/><circle cx="1045" cy="1156"/><circle cx="1014" cy="1178"/><circle cx="1021" cy="1180"/><circle cx="1046" cy="1193"/><circle cx="1025" cy="1198"/><circle cx="1034" cy="1202"/></g>
<g class="g"><circle cx="1057" cy="1147"/><circle cx="1074" cy="1160"/><circle cx="1057" cy="1171"/><circle cx="1057" cy="1179"/><circle cx="1074" cy="1190"/><circle cx="1059" cy="1194"/><circle cx="1110" cy="1133"/><circle cx="1076" cy="1205"/><circle cx="1089" cy="1207"/><circle cx="1096" cy="1202"/><circle cx="1008" cy="1167"/><circle cx="1005" cy="1187"/><circle cx="1109" cy="1133"/></g>
<g class="k"><circle cx="1164" cy="1149"/><circle cx="1166" cy="1160"/><circle cx="1164" cy="1167"/><circle cx="1146" cy="1153"/><circle cx="1131" cy="1169"/><circle cx="1137" cy="1164"/><circle cx="1144" cy="1166"/><circle cx="1148" cy="1171"/><circle cx="1143" cy="1179"/><circle cx="1143" cy="1112"/><circle cx="1126" cy="1191"/><circle cx="1126" cy="1204"/><circle cx="1114" cy="1200"/><circle cx="1140" cy="1191"/><circle cx="1144" cy="1197"/><circle cx="1158" cy="1190"/><circle cx="1165" cy="1185"/><circle cx="1178" cy="1188"/><circle cx="1188" cy="1173"/><circle cx="1198" cy="1179"/><circle cx="1196" cy="1126"/><circle cx="1187" cy="1207"/><circle cx="1198" cy="1211"/><circle cx="1198" cy="1193"/><circle cx="1114" cy="1217"/><circle cx="1143" cy="1111"/></g>
<g class="g"><circle cx="1209" cy="1143"/><circle cx="1209" cy="1179"/><circle cx="1199" cy="1202"/><circle cx="1211" cy="1198"/></g>
<g class="k"><circle cx="1276" cy="1096"/><circle cx="1263" cy="1113"/><circle cx="1262" cy="1144"/><circle cx="1263" cy="1149"/><circle cx="1276" cy="1156"/><circle cx="1275" cy="1162"/><circle cx="1262" cy="1159"/><circle cx="1263" cy="1171"/><circle cx="1296" cy="1150"/><circle cx="1220" cy="1176"/><circle cx="1230" cy="1175"/><circle cx="1237" cy="1179"/><circle cx="1218" cy="1184"/><circle cx="1227" cy="1187"/><circle cx="1237" cy="1188"/><circle cx="1223" cy="1198"/><circle cx="1254" cy="1187"/><circle cx="1263" cy="1184"/><circle cx="1273" cy="1194"/><circle cx="1285" cy="1194"/><circle cx="1237" cy="1207"/><circle cx="1233" cy="1212"/><circle cx="1252" cy="1217"/><circle cx="1245" cy="1224"/><circle cx="1285" cy="1210"/><circle cx="1274" cy="1207"/><circle cx="1299" cy="1196"/><circle cx="1298" cy="1150"/><circle cx="1308" cy="1146"/><circle cx="1317" cy="1147"/><circle cx="1317" cy="1153"/><circle cx="1317" cy="1175"/><circle cx="1324" cy="1180"/><circle cx="1310" cy="1187"/><circle cx="1256" cy="1187"/><circle cx="1262" cy="1184"/><circle cx="1273" cy="1194"/><circle cx="1286" cy="1195"/><circle cx="1302" cy="1197"/><circle cx="1308" cy="1202"/><circle cx="1286" cy="1211"/><circle cx="1302" cy="1214"/><circle cx="1275" cy="1096"/><circle cx="1264" cy="1112"/></g>
<g class="g"><circle cx="1343" cy="1155"/><circle cx="1337" cy="1163"/><circle cx="1360" cy="1162"/><circle cx="1341" cy="1176"/><circle cx="1332" cy="1188"/><circle cx="1343" cy="1186"/><circle cx="1348" cy="1194"/><circle cx="1348" cy="1201"/><circle cx="1354" cy="1210"/></g>
<g class="k"><circle cx="1377" cy="1101"/><circle cx="1364" cy="1122"/><circle cx="1376" cy="1130"/><circle cx="1372" cy="1162"/><circle cx="1375" cy="1174"/><circle cx="1376" cy="1181"/><circle cx="1365" cy="1186"/><circle cx="1375" cy="1189"/><circle cx="1365" cy="1200"/></g>
<g class="g"><circle cx="1388" cy="1096"/><circle cx="1399" cy="1124"/><circle cx="1387" cy="1148"/><circle cx="1380" cy="1155"/><circle cx="1397" cy="1155"/><circle cx="1380" cy="1166"/><circle cx="1408" cy="1177"/><circle cx="1413" cy="1192"/><circle cx="1391" cy="1184"/><circle cx="1399" cy="1185"/><circle cx="1393" cy="1200"/><circle cx="1405" cy="1202"/><circle cx="1388" cy="1096"/><circle cx="1399" cy="1124"/></g>
<g class="k"><circle cx="1164" cy="1128"/><circle cx="1165" cy="1131"/><circle cx="1165" cy="1134"/><circle cx="1165" cy="1137"/><circle cx="1164" cy="1140"/><circle cx="629" cy="1101"/><circle cx="628" cy="1104"/><circle cx="628" cy="1107"/><circle cx="628" cy="1110"/><circle cx="623" cy="1196"/><circle cx="633" cy="1174"/><circle cx="633" cy="1199"/><circle cx="624" cy="1173"/><circle cx="637" cy="1205"/><circle cx="638" cy="1174"/><circle cx="627" cy="1167"/><circle cx="624" cy="1168"/><circle cx="631" cy="1191"/><circle cx="622" cy="1170"/><circle cx="636" cy="1195"/><circle cx="627" cy="1204"/><circle cx="626" cy="1169"/><circle cx="629" cy="1182"/><circle cx="639" cy="1170"/><circle cx="638" cy="1187"/><circle cx="1168" cy="1192"/><circle cx="1168" cy="1180"/><circle cx="1166" cy="1171"/><circle cx="1164" cy="1182"/><circle cx="1162" cy="1157"/><circle cx="1169" cy="1168"/></g>
<line x1="117.8" y1="1085.2" x2="1477" y2="1085.2" stroke="#333" stroke-width="2.3" stroke-dasharray="12.7 12"/>
<line x1="481.7" y1="1045" x2="504.8" y2="1051.2" stroke="#000" stroke-width="2.4"/>
<line x1="611.1" y1="1003.3" x2="631.7" y2="1018.6" stroke="#000" stroke-width="2.4"/>
<line x1="688.2" y1="1028.1" x2="630" y2="1034" stroke="#000" stroke-width="2.4"/>
<line x1="834" y1="1031" x2="809.3" y2="1039.2" stroke="#000" stroke-width="2.4"/>
<line x1="581" y1="1082" x2="590" y2="1088" stroke="#000" stroke-width="2.4"/>
<line x1="1049.6" y1="1040.2" x2="1151.8" y2="1060.6" stroke="#000" stroke-width="2.4"/>
<line x1="1064.5" y1="1115.6" x2="1054.6" y2="1098.1" stroke="#000" stroke-width="2.4"/>
<line x1="1091.8" y1="964.9" x2="1154" y2="962.7" stroke="#000" stroke-width="2.4"/>
<line x1="1183.9" y1="926.5" x2="1163.7" y2="934.8" stroke="#000" stroke-width="2.4"/>
<line x1="1185.1" y1="1009.6" x2="1164.9" y2="1016.7" stroke="#000" stroke-width="2.4"/>
<line x1="1251.1" y1="1053.6" x2="1187.5" y2="1064.2" stroke="#000" stroke-width="2.4"/>
<line x1="1213.1" y1="1076.1" x2="1191" y2="1069" stroke="#000" stroke-width="2.4"/>
<line x1="1252" y1="926" x2="1237" y2="931" stroke="#000" stroke-width="2.4"/>
<rect x="204.2" y="907.9" width="60.6" height="19.0" rx="2.5" fill="#E64B35" stroke="#111" stroke-width="1.3"/>
<text x="234.5" y="923.3" font-size="16.8" fill="#000" text-anchor="middle" textLength="51.1" lengthAdjust="spacingAndGlyphs" stroke="#000" stroke-width="0.35">NBPF3</text>
<rect x="272.7" y="957.7" width="85.6" height="19.0" rx="2.5" fill="#8491B4" stroke="#111" stroke-width="1.3"/>
<text x="315.5" y="973.1" font-size="16.8" fill="#000" text-anchor="middle" textLength="76.1" lengthAdjust="spacingAndGlyphs" stroke="#000" stroke-width="0.35">CCDC173</text>
<rect x="202" y="987.8" width="112.5" height="18.4" rx="2.5" fill="#F39B7F" stroke="#111" stroke-width="1.3"/>
<text x="258.2" y="1002.6" font-size="16.8" fill="#000" text-anchor="middle" textLength="103.0" lengthAdjust="spacingAndGlyphs" stroke="#000" stroke-width="0.35">RP5-862P8.2</text>
<rect x="180.7" y="1014.1" width="51.4" height="18.1" rx="2.5" fill="#E64B35" stroke="#111" stroke-width="1.3"/>
<text x="206.4" y="1028.6" font-size="16.8" fill="#000" text-anchor="middle" textLength="41.9" lengthAdjust="spacingAndGlyphs" stroke="#000" stroke-width="0.35">GBP3</text>
<rect x="121.1" y="1052.8" width="91.0" height="18.4" rx="2.5" fill="#E64B35" stroke="#111" stroke-width="1.3"/>
<text x="166.6" y="1067.6" font-size="16.8" fill="#000" text-anchor="middle" textLength="81.5" lengthAdjust="spacingAndGlyphs" stroke="#000" stroke-width="0.35">TNFRSF18</text>
<rect x="274.3" y="1029" width="123.7" height="19.1" rx="2.5" fill="#F39B7F" stroke="#111" stroke-width="1.3"/>
<text x="336.1" y="1044.5" font-size="16.8" fill="#000" text-anchor="middle" textLength="114.2" lengthAdjust="spacingAndGlyphs" stroke="#000" stroke-width="0.35">RNASEH1-AS1</text>
<rect x="225.8" y="1071.9" width="107.1" height="18.4" rx="2.5" fill="#E64B35" stroke="#111" stroke-width="1.3"/>
<text x="279.4" y="1086.7" font-size="16.8" fill="#000" text-anchor="middle" textLength="97.6" lengthAdjust="spacingAndGlyphs" stroke="#000" stroke-width="0.35">SLC8A1-AS1</text>
<rect x="363.7" y="1061.4" width="60.3" height="19.0" rx="2.5" fill="#E64B35" stroke="#111" stroke-width="1.3"/>
<text x="393.9" y="1076.8" font-size="16.8" fill="#000" text-anchor="middle" textLength="50.8" lengthAdjust="spacingAndGlyphs" stroke="#000" stroke-width="0.35">CASP8</text>
<rect x="390.7" y="973.6" width="122.1" height="19.0" rx="2.5" fill="#E64B35" stroke="#111" stroke-width="1.3"/>
<text x="451.8" y="989.0" font-size="16.8" fill="#000" text-anchor="middle" textLength="112.6" lengthAdjust="spacingAndGlyphs" stroke="#000" stroke-width="0.35">RP11-43F13.1</text>
<rect x="484.3" y="1009.7" width="106.2" height="18.4" rx="2.5" fill="#F39B7F" stroke="#111" stroke-width="1.3"/>
<text x="537.4" y="1024.5" font-size="16.8" fill="#000" text-anchor="middle" textLength="96.7" lengthAdjust="spacingAndGlyphs" stroke="#000" stroke-width="0.35">TRIM52-AS1</text>
<rect x="428.7" y="1035.4" width="53.0" height="18.4" rx="2.5" fill="#E64B35" stroke="#111" stroke-width="1.3"/>
<text x="455.2" y="1050.2" font-size="16.8" fill="#000" text-anchor="middle" textLength="43.5" lengthAdjust="spacingAndGlyphs" stroke="#000" stroke-width="0.35">DHFR</text>
<rect x="477.9" y="1061.4" width="90.4" height="19.0" rx="2.5" fill="#F39B7F" stroke="#111" stroke-width="1.3"/>
<text x="523.1" y="1076.8" font-size="16.8" fill="#000" text-anchor="middle" textLength="80.9" lengthAdjust="spacingAndGlyphs" stroke="#000" stroke-width="0.35">HLA-DRB1</text>
<rect x="402.4" y="1088.7" width="121.5" height="18.0" rx="2.5" fill="#E64B35" stroke="#111" stroke-width="1.3"/>
<text x="463.1" y="1103.1" font-size="16.8" fill="#000" text-anchor="middle" textLength="112.0" lengthAdjust="spacingAndGlyphs" stroke="#000" stroke-width="0.35">RP11-484L7.1</text>
<rect x="495.4" y="906.9" width="107.8" height="18.1" rx="2.5" fill="#E64B35" stroke="#111" stroke-width="1.3"/>
<text x="549.3" y="921.4" font-size="16.8" fill="#000" text-anchor="middle" textLength="98.3" lengthAdjust="spacingAndGlyphs" stroke="#000" stroke-width="0.35">AC091729.9</text>
<rect x="536" y="932.9" width="106.2" height="18.4" rx="2.5" fill="#E64B35" stroke="#111" stroke-width="1.3"/>
<text x="589.1" y="947.7" font-size="16.8" fill="#000" text-anchor="middle" textLength="96.7" lengthAdjust="spacingAndGlyphs" stroke="#000" stroke-width="0.35">AL022393.7</text>
<rect x="649.2" y="909.2" width="58.6" height="19.0" rx="2.5" fill="#00A087" stroke="#111" stroke-width="1.3"/>
<text x="678.5" y="924.6" font-size="16.8" fill="#000" text-anchor="middle" textLength="49.1" lengthAdjust="spacingAndGlyphs" stroke="#000" stroke-width="0.35">CPSF1</text>
<rect x="718.3" y="958.3" width="107.5" height="19.0" rx="2.5" fill="#00A087" stroke="#111" stroke-width="1.3"/>
<text x="772.0" y="973.7" font-size="16.8" fill="#000" text-anchor="middle" textLength="98.0" lengthAdjust="spacingAndGlyphs" stroke="#000" stroke-width="0.35">ANKRD18CP</text>
<rect x="574.7" y="983" width="65.0" height="19.1" rx="2.5" fill="#E64B35" stroke="#111" stroke-width="1.3"/>
<text x="607.2" y="998.5" font-size="16.8" fill="#000" text-anchor="middle" textLength="55.5" lengthAdjust="spacingAndGlyphs" stroke="#000" stroke-width="0.35">TYW1B</text>
<rect x="647" y="992.6" width="69.7" height="19.0" rx="2.5" fill="#E64B35" stroke="#111" stroke-width="1.3"/>
<text x="681.9" y="1008.0" font-size="16.8" fill="#000" text-anchor="middle" textLength="60.2" lengthAdjust="spacingAndGlyphs" stroke="#000" stroke-width="0.35">TAS2R4</text>
<rect x="688.2" y="1018.6" width="124.3" height="18.4" rx="2.5" fill="#E64B35" stroke="#111" stroke-width="1.3"/>
<text x="750.4" y="1033.4" font-size="16.8" fill="#000" text-anchor="middle" textLength="114.8" lengthAdjust="spacingAndGlyphs" stroke="#000" stroke-width="0.35">RP4-756H11.3</text>
<rect x="562" y="1036" width="91.3" height="18.1" rx="2.5" fill="#E64B35" stroke="#111" stroke-width="1.3"/>
<text x="607.6" y="1050.5" font-size="16.8" fill="#000" text-anchor="middle" textLength="81.8" lengthAdjust="spacingAndGlyphs" stroke="#000" stroke-width="0.35">HLA-DRB1</text>
<rect x="660.3" y="1043.9" width="46.0" height="19.1" rx="2.5" fill="#00A087" stroke="#111" stroke-width="1.3"/>
<text x="683.3" y="1059.4" font-size="16.8" fill="#000" text-anchor="middle" textLength="36.5" lengthAdjust="spacingAndGlyphs" stroke="#000" stroke-width="0.35">BIN3</text>
<rect x="819.8" y="1011.6" width="53.6" height="19.0" rx="2.5" fill="#4DBBD5" stroke="#111" stroke-width="1.3"/>
<text x="846.6" y="1027.0" font-size="16.8" fill="#000" text-anchor="middle" textLength="44.1" lengthAdjust="spacingAndGlyphs" stroke="#000" stroke-width="0.35">UROS</text>
<rect x="829" y="1038.2" width="85.0" height="18.4" rx="2.5" fill="#00A087" stroke="#111" stroke-width="1.3"/>
<text x="871.5" y="1053.0" font-size="16.8" fill="#000" text-anchor="middle" textLength="75.5" lengthAdjust="spacingAndGlyphs" stroke="#000" stroke-width="0.35">GLIPR1L2</text>
<rect x="726.2" y="1055" width="92.0" height="18.1" rx="2.5" fill="#00A087" stroke="#111" stroke-width="1.3"/>
<text x="772.2" y="1069.5" font-size="16.8" fill="#000" text-anchor="middle" textLength="82.5" lengthAdjust="spacingAndGlyphs" stroke="#000" stroke-width="0.35">GAS2L1P2</text>
<rect x="564.5" y="1087.7" width="59.3" height="18.1" rx="2.5" fill="#00A087" stroke="#111" stroke-width="1.3"/>
<text x="594.1" y="1102.2" font-size="16.8" fill="#000" text-anchor="middle" textLength="49.8" lengthAdjust="spacingAndGlyphs" stroke="#000" stroke-width="0.35">USP49</text>
<rect x="631.7" y="1082" width="74.6" height="19.0" rx="2.5" fill="#E64B35" stroke="#111" stroke-width="1.3"/>
<text x="669.0" y="1097.4" font-size="16.8" fill="#000" text-anchor="middle" textLength="65.1" lengthAdjust="spacingAndGlyphs" stroke="#000" stroke-width="0.35">INTS4P1</text>
<rect x="807.7" y="1085.8" width="70.8" height="18.4" rx="2.5" fill="#E64B35" stroke="#111" stroke-width="1.3"/>
<text x="843.1" y="1100.6" font-size="16.8" fill="#000" text-anchor="middle" textLength="61.3" lengthAdjust="spacingAndGlyphs" stroke="#000" stroke-width="0.35">LRRC27</text>
<rect x="885.7" y="1063.6" width="71.7" height="18.8" rx="2.5" fill="#E64B35" stroke="#111" stroke-width="1.3"/>
<text x="921.5" y="1078.8" font-size="16.8" fill="#000" text-anchor="middle" textLength="62.2" lengthAdjust="spacingAndGlyphs" stroke="#000" stroke-width="0.35">CAB39L</text>
<rect x="964.4" y="1056.6" width="105.5" height="18.6" rx="2.5" fill="#00A087" stroke="#111" stroke-width="1.3"/>
<text x="1017.2" y="1071.6" font-size="16.8" fill="#000" text-anchor="middle" textLength="96.0" lengthAdjust="spacingAndGlyphs" stroke="#000" stroke-width="0.35">GOLGA6L5P</text>
<rect x="957.4" y="1030.9" width="92.2" height="18.1" rx="2.5" fill="#8491B4" stroke="#111" stroke-width="1.3"/>
<text x="1003.5" y="1045.4" font-size="16.8" fill="#000" text-anchor="middle" textLength="82.7" lengthAdjust="spacingAndGlyphs" stroke="#000" stroke-width="0.35">LRRC37A2</text>
<rect x="960.7" y="1089.8" width="82.6" height="18.8" rx="2.5" fill="#00A087" stroke="#111" stroke-width="1.3"/>
<text x="1002.0" y="1105.0" font-size="16.8" fill="#000" text-anchor="middle" textLength="73.1" lengthAdjust="spacingAndGlyphs" stroke="#000" stroke-width="0.35">C15orf40</text>
<rect x="1054" y="1086.1" width="50.9" height="17.5" rx="2.5" fill="#E64B35" stroke="#111" stroke-width="1.3"/>
<text x="1079.5" y="1100.0" font-size="16.8" fill="#000" text-anchor="middle" textLength="41.4" lengthAdjust="spacingAndGlyphs" stroke="#000" stroke-width="0.35">GAS8</text>
<rect x="1024" y="1115.6" width="82.0" height="18.6" rx="2.5" fill="#E64B35" stroke="#111" stroke-width="1.3"/>
<text x="1065.0" y="1130.6" font-size="16.8" fill="#000" text-anchor="middle" textLength="72.5" lengthAdjust="spacingAndGlyphs" stroke="#000" stroke-width="0.35">C15orf40</text>
<rect x="1113.6" y="1090.8" width="91.7" height="18.1" rx="2.5" fill="#4DBBD5" stroke="#111" stroke-width="1.3"/>
<text x="1159.4" y="1105.3" font-size="16.8" fill="#000" text-anchor="middle" textLength="82.2" lengthAdjust="spacingAndGlyphs" stroke="#000" stroke-width="0.35">LRRC37A2</text>
<rect x="1078.7" y="1059.9" width="77.5" height="18.6" rx="2.5" fill="#8491B4" stroke="#111" stroke-width="1.3"/>
<text x="1117.5" y="1074.9" font-size="16.8" fill="#000" text-anchor="middle" textLength="68.0" lengthAdjust="spacingAndGlyphs" stroke="#000" stroke-width="0.35">LRRC37A</text>
<rect x="1077.6" y="1033.7" width="78.6" height="18.6" rx="2.5" fill="#E64B35" stroke="#111" stroke-width="1.3"/>
<text x="1116.9" y="1048.7" font-size="16.8" fill="#000" text-anchor="middle" textLength="69.1" lengthAdjust="spacingAndGlyphs" stroke="#000" stroke-width="0.35">LRRC37A</text>
<rect x="1056.8" y="1008.1" width="99.4" height="18.4" rx="2.5" fill="#4DBBD5" stroke="#111" stroke-width="1.3"/>
<text x="1106.5" y="1022.9" font-size="16.8" fill="#000" text-anchor="middle" textLength="89.9" lengthAdjust="spacingAndGlyphs" stroke="#000" stroke-width="0.35">LRRC37A4P</text>
<rect x="1085.9" y="981.3" width="74.7" height="18.5" rx="2.5" fill="#4DBBD5" stroke="#111" stroke-width="1.3"/>
<text x="1123.2" y="996.2" font-size="16.8" fill="#000" text-anchor="middle" textLength="65.2" lengthAdjust="spacingAndGlyphs" stroke="#000" stroke-width="0.35">DND1P1</text>
<rect x="989.7" y="955.7" width="102.1" height="18.3" rx="2.5" fill="#8491B4" stroke="#111" stroke-width="1.3"/>
<text x="1040.8" y="970.4" font-size="16.8" fill="#000" text-anchor="middle" textLength="92.6" lengthAdjust="spacingAndGlyphs" stroke="#000" stroke-width="0.35">LRRC37A4P</text>
<rect x="1099" y="933.2" width="52.8" height="18.1" rx="2.5" fill="#E64B35" stroke="#111" stroke-width="1.3"/>
<text x="1125.4" y="947.7" font-size="16.8" fill="#000" text-anchor="middle" textLength="43.3" lengthAdjust="spacingAndGlyphs" stroke="#000" stroke-width="0.35">NBR2</text>
<rect x="1155.4" y="907" width="75.6" height="18.3" rx="2.5" fill="#8491B4" stroke="#111" stroke-width="1.3"/>
<text x="1193.2" y="921.7" font-size="16.8" fill="#000" text-anchor="middle" textLength="66.1" lengthAdjust="spacingAndGlyphs" stroke="#000" stroke-width="0.35">DND1P1</text>
<rect x="1203.6" y="870.7" width="70.6" height="19.0" rx="2.5" fill="#00A087" stroke="#111" stroke-width="1.3"/>
<text x="1238.9" y="886.1" font-size="16.8" fill="#000" text-anchor="middle" textLength="61.1" lengthAdjust="spacingAndGlyphs" stroke="#000" stroke-width="0.35">CEP192</text>
<rect x="1365.6" y="890.4" width="106.4" height="19.0" rx="2.5" fill="#E64B35" stroke="#111" stroke-width="1.3"/>
<text x="1418.8" y="905.8" font-size="16.8" fill="#000" text-anchor="middle" textLength="96.9" lengthAdjust="spacingAndGlyphs" stroke="#000" stroke-width="0.35">AP000350.5</text>
<rect x="1238.6" y="907.5" width="70.7" height="18.5" rx="2.5" fill="#E64B35" stroke="#111" stroke-width="1.3"/>
<text x="1273.9" y="922.4" font-size="16.8" fill="#000" text-anchor="middle" textLength="61.2" lengthAdjust="spacingAndGlyphs" stroke="#000" stroke-width="0.35">ZNF266</text>
<rect x="1170.9" y="936.5" width="100.2" height="18.5" rx="2.5" fill="#E64B35" stroke="#111" stroke-width="1.3"/>
<text x="1221.0" y="951.4" font-size="16.8" fill="#000" text-anchor="middle" textLength="90.7" lengthAdjust="spacingAndGlyphs" stroke="#000" stroke-width="0.35">LRRC37A4P</text>
<rect x="1308.1" y="934.3" width="71.8" height="18.3" rx="2.5" fill="#F39B7F" stroke="#111" stroke-width="1.3"/>
<text x="1344.0" y="949.0" font-size="16.8" fill="#000" text-anchor="middle" textLength="62.3" lengthAdjust="spacingAndGlyphs" stroke="#000" stroke-width="0.35">ZNF880</text>
<rect x="1308.6" y="970.4" width="105.7" height="18.6" rx="2.5" fill="#E64B35" stroke="#111" stroke-width="1.3"/>
<text x="1361.4" y="985.4" font-size="16.8" fill="#000" text-anchor="middle" textLength="96.2" lengthAdjust="spacingAndGlyphs" stroke="#000" stroke-width="0.35">CENPBD1P1</text>
<rect x="1170.9" y="962.6" width="73.1" height="18.5" rx="2.5" fill="#E64B35" stroke="#111" stroke-width="1.3"/>
<text x="1207.5" y="977.5" font-size="16.8" fill="#000" text-anchor="middle" textLength="63.6" lengthAdjust="spacingAndGlyphs" stroke="#000" stroke-width="0.35">DND1P1</text>
<rect x="1168" y="990.6" width="70.6" height="17.8" rx="2.5" fill="#E64B35" stroke="#111" stroke-width="1.3"/>
<text x="1203.3" y="1004.8" font-size="16.8" fill="#000" text-anchor="middle" textLength="61.1" lengthAdjust="spacingAndGlyphs" stroke="#000" stroke-width="0.35">ARL17A</text>
<rect x="1170.9" y="1016.7" width="91.4" height="18.3" rx="2.5" fill="#E64B35" stroke="#111" stroke-width="1.3"/>
<text x="1216.6" y="1031.4" font-size="16.8" fill="#000" text-anchor="middle" textLength="81.9" lengthAdjust="spacingAndGlyphs" stroke="#000" stroke-width="0.35">LRRC37A2</text>
<rect x="1173.2" y="1042.9" width="67.7" height="18.5" rx="2.5" fill="#8491B4" stroke="#111" stroke-width="1.3"/>
<text x="1207.1" y="1057.8" font-size="16.8" fill="#000" text-anchor="middle" textLength="58.2" lengthAdjust="spacingAndGlyphs" stroke="#000" stroke-width="0.35">ARL17A</text>
<rect x="1251.1" y="1042.9" width="124.7" height="18.5" rx="2.5" fill="#E64B35" stroke="#111" stroke-width="1.3"/>
<text x="1313.4" y="1057.8" font-size="16.8" fill="#000" text-anchor="middle" textLength="115.2" lengthAdjust="spacingAndGlyphs" stroke="#000" stroke-width="0.35">CTD-2246P4.1</text>
<rect x="1213.1" y="1068.5" width="70.6" height="18.3" rx="2.5" fill="#4DBBD5" stroke="#111" stroke-width="1.3"/>
<text x="1248.4" y="1083.2" font-size="16.8" fill="#000" text-anchor="middle" textLength="61.1" lengthAdjust="spacingAndGlyphs" stroke="#000" stroke-width="0.35">ARL17A</text>
<rect x="918.5" y="740.2" width="73.0" height="19.8" rx="2.5" fill="#E64B35" stroke="#111" stroke-width="1.3"/>
<text x="955.0" y="756.4" font-size="16.8" fill="#000" text-anchor="middle" textLength="63.5" lengthAdjust="spacingAndGlyphs" stroke="#000" stroke-width="0.35">TMBIM4</text>
<circle cx="919.5" cy="732.8" r="9.6" fill="#E64B35"/>
<circle cx="919.5" cy="732.8" r="5.5" fill="#8a8a8a"/>
<circle cx="199.7" cy="930.1" r="9.6" fill="#E64B35"/>
<circle cx="199.7" cy="930.1" r="5.5" fill="#2a2a2a"/>
<circle cx="351" cy="980.8" r="9.6" fill="#8491B4"/>
<circle cx="351" cy="980.8" r="5.5" fill="#8a8a8a"/>
<circle cx="293.3" cy="983.1" r="9.6" fill="#F39B7F"/>
<circle cx="293.3" cy="983.1" r="5.5" fill="#2a2a2a"/>
<circle cx="237.5" cy="1024.3" r="9.6" fill="#E64B35"/>
<circle cx="237.5" cy="1024.3" r="5.5" fill="#2a2a2a"/>
<circle cx="181.4" cy="1047.4" r="9.6" fill="#E64B35"/>
<circle cx="181.4" cy="1047.4" r="5.5" fill="#2a2a2a"/>
<circle cx="300.3" cy="1051.2" r="9.6" fill="#F39B7F"/>
<circle cx="300.3" cy="1051.2" r="5.5" fill="#8a8a8a"/>
<circle cx="314.5" cy="1067.1" r="9.6" fill="#E64B35"/>
<circle cx="314.5" cy="1067.1" r="5.5" fill="#8a8a8a"/>
<circle cx="359" cy="1069.6" r="9.6" fill="#E64B35"/>
<circle cx="359" cy="1069.6" r="5.5" fill="#8a8a8a"/>
<circle cx="487.4" cy="996.7" r="9.6" fill="#E64B35"/>
<circle cx="487.4" cy="996.7" r="5.5" fill="#2a2a2a"/>
<circle cx="542.9" cy="1033.8" r="9.6" fill="#F39B7F"/>
<circle cx="542.9" cy="1033.8" r="5.5" fill="#2a2a2a"/>
<circle cx="504.8" cy="1051.2" r="9.6" fill="#E64B35"/>
<circle cx="504.8" cy="1051.2" r="5.5" fill="#2a2a2a"/>
<circle cx="563.6" cy="1056.6" r="9.6" fill="#F39B7F"/>
<circle cx="563.6" cy="1056.6" r="5.5" fill="#8a8a8a"/>
<circle cx="495.4" cy="1082" r="9.6" fill="#E64B35"/>
<circle cx="495.4" cy="1082" r="5.5" fill="#2a2a2a"/>
<circle cx="608.6" cy="906" r="9.6" fill="#E64B35"/>
<circle cx="608.6" cy="906" r="5.5" fill="#2a2a2a"/>
<circle cx="553.1" cy="956.7" r="9.6" fill="#E64B35"/>
<circle cx="553.1" cy="956.7" r="5.5" fill="#8a8a8a"/>
<circle cx="712.6" cy="905.3" r="9.6" fill="#00A087"/>
<circle cx="712.6" cy="905.3" r="5.5" fill="#8a8a8a"/>
<circle cx="736.4" cy="981.5" r="9.6" fill="#00A087"/>
<circle cx="736.4" cy="981.5" r="5.5" fill="#2a2a2a"/>
<circle cx="631.7" cy="1018.6" r="9.6" fill="#E64B35"/>
<circle cx="631.7" cy="1018.6" r="5.5" fill="#2a2a2a"/>
<circle cx="664.1" cy="1015.4" r="9.6" fill="#E64B35"/>
<circle cx="664.1" cy="1015.4" r="5.5" fill="#2a2a2a"/>
<circle cx="630.1" cy="1033.8" r="9.6" fill="#E64B35"/>
<circle cx="630.1" cy="1033.8" r="5.5" fill="#2a2a2a"/>
<circle cx="679.9" cy="1038.2" r="9.6" fill="#00A087"/>
<circle cx="679.9" cy="1038.2" r="5.5" fill="#8a8a8a"/>
<circle cx="809.3" cy="1039.2" r="9.6" fill="#4DBBD5"/>
<circle cx="809.3" cy="1039.2" r="5.5" fill="#8a8a8a"/>
<circle cx="922.4" cy="1055.5" r="9.6" fill="#00A087"/>
<circle cx="922.4" cy="1055.5" r="5.5" fill="#8a8a8a"/>
<circle cx="736.4" cy="1050.3" r="9.6" fill="#00A087"/>
<circle cx="736.4" cy="1050.3" r="5.5" fill="#2a2a2a"/>
<circle cx="573.1" cy="1076.3" r="9.6" fill="#00A087"/>
<circle cx="573.1" cy="1076.3" r="5.5" fill="#8a8a8a"/>
<circle cx="628.6" cy="1078.2" r="9.6" fill="#E64B35"/>
<circle cx="628.6" cy="1078.2" r="5.5" fill="#2a2a2a"/>
<circle cx="810.9" cy="1080.4" r="9.6" fill="#E64B35"/>
<circle cx="810.9" cy="1080.4" r="5.5" fill="#8a8a8a"/>
<circle cx="961.3" cy="1062.1" r="9.6" fill="#E64B35"/>
<circle cx="961.3" cy="1062.1" r="5.5" fill="#2a2a2a"/>
<circle cx="1046.5" cy="1080" r="9.6" fill="#E64B35"/>
<circle cx="1046.5" cy="1080" r="5.5" fill="#2a2a2a"/>
<circle cx="1046.5" cy="1076" r="9.6" fill="#00A087"/>
<circle cx="1046.5" cy="1076" r="5.5" fill="#2a2a2a"/>
<circle cx="1114.3" cy="1083.3" r="9.6" fill="#E64B35"/>
<circle cx="1114.3" cy="1083.3" r="5.5" fill="#8a8a8a"/>
<circle cx="1164" cy="934.8" r="9.6" fill="#8491B4"/>
<circle cx="1164" cy="934.8" r="5.5" fill="#2a2a2a"/>
<circle cx="1164" cy="946.5" r="9.6" fill="#E64B35"/>
<circle cx="1164" cy="946.5" r="5.5" fill="#2a2a2a"/>
<circle cx="1164" cy="961" r="9.6" fill="#8491B4"/>
<circle cx="1164" cy="961" r="5.5" fill="#2a2a2a"/>
<circle cx="1164" cy="976" r="9.6" fill="#4DBBD5"/>
<circle cx="1164" cy="976" r="5.5" fill="#2a2a2a"/>
<circle cx="1164" cy="1016.5" r="9.6" fill="#E64B35"/>
<circle cx="1164" cy="1016.5" r="5.5" fill="#2a2a2a"/>
<circle cx="1164" cy="1032.4" r="9.6" fill="#4DBBD5"/>
<circle cx="1164" cy="1032.4" r="5.5" fill="#2a2a2a"/>
<circle cx="1164" cy="1044" r="9.6" fill="#8491B4"/>
<circle cx="1164" cy="1044" r="5.5" fill="#2a2a2a"/>
<circle cx="1164" cy="1060.7" r="9.6" fill="#8491B4"/>
<circle cx="1164" cy="1060.7" r="5.5" fill="#2a2a2a"/>
<circle cx="1164" cy="1069" r="9.6" fill="#8491B4"/>
<circle cx="1164" cy="1069" r="5.5" fill="#2a2a2a"/>
<circle cx="1164" cy="1080.8" r="9.6" fill="#4DBBD5"/>
<circle cx="1164" cy="1080.8" r="5.5" fill="#2a2a2a"/>
<circle cx="1203.6" cy="893.2" r="9.6" fill="#00A087"/>
<circle cx="1203.6" cy="893.2" r="5.5" fill="#8a8a8a"/>
<circle cx="1387.7" cy="912.7" r="9.6" fill="#E64B35"/>
<circle cx="1387.7" cy="912.7" r="5.5" fill="#8a8a8a"/>
<circle cx="1236.9" cy="931.2" r="9.6" fill="#E64B35"/>
<circle cx="1236.9" cy="931.2" r="5.5" fill="#2a2a2a"/>
<circle cx="1308.1" cy="929.6" r="9.6" fill="#F39B7F"/>
<circle cx="1308.1" cy="929.6" r="5.5" fill="#2a2a2a"/>
<circle cx="1326.4" cy="965.2" r="9.6" fill="#E64B35"/>
<circle cx="1326.4" cy="965.2" r="5.5" fill="#2a2a2a"/>
<circle cx="1188.2" cy="1064.7" r="9.6" fill="#E64B35"/>
<circle cx="1188.2" cy="1064.7" r="5.5" fill="#2a2a2a"/>
<rect x="890" y="715" width="60" height="17.5" fill="#fff"/>
<text x="0.5" y="1388.5" font-size="40" fill="#000" font-weight="bold">c</text>
<text x="119.0" y="1388.5" font-size="38" fill="#000" textLength="346.0" lengthAdjust="spacingAndGlyphs">SV-sQTL (Splicing)</text>
<line x1="110" y1="1930.2" x2="117.5" y2="1930.2" stroke="#333" stroke-width="2.2"/>
<text x="102.0" y="1938.8" font-size="24.5" fill="#4D4D4D" text-anchor="end" textLength="15.2" lengthAdjust="spacingAndGlyphs">0</text>
<line x1="110" y1="1812.5" x2="117.5" y2="1812.5" stroke="#333" stroke-width="2.2"/>
<text x="102.0" y="1821.1" font-size="24.5" fill="#4D4D4D" text-anchor="end" textLength="30.4" lengthAdjust="spacingAndGlyphs">25</text>
<line x1="110" y1="1694.9" x2="117.5" y2="1694.9" stroke="#333" stroke-width="2.2"/>
<text x="102.0" y="1703.5" font-size="24.5" fill="#4D4D4D" text-anchor="end" textLength="30.4" lengthAdjust="spacingAndGlyphs">50</text>
<line x1="110" y1="1577.2" x2="117.5" y2="1577.2" stroke="#333" stroke-width="2.2"/>
<text x="102.0" y="1585.8" font-size="24.5" fill="#4D4D4D" text-anchor="end" textLength="30.4" lengthAdjust="spacingAndGlyphs">75</text>
<line x1="110" y1="1459.6" x2="117.5" y2="1459.6" stroke="#333" stroke-width="2.2"/>
<text x="102.0" y="1468.2" font-size="24.5" fill="#4D4D4D" text-anchor="end" textLength="45.6" lengthAdjust="spacingAndGlyphs">100</text>
<text transform="translate(32.6,1672.5) rotate(-90)" font-size="32" fill="#000" text-anchor="middle" textLength="138" lengthAdjust="spacingAndGlyphs">-log<tspan font-size="22" dy="6">10</tspan><tspan dy="-6">(</tspan><tspan font-style="italic">P</tspan>)</text>
<line x1="221.6" y1="1932.2" x2="221.6" y2="1938.7" stroke="#333" stroke-width="2.2"/>
<text x="221.6" y="1963.7" font-size="24.5" fill="#4D4D4D" text-anchor="middle" textLength="15.2" lengthAdjust="spacingAndGlyphs">1</text>
<line x1="298.8" y1="1932.2" x2="298.8" y2="1938.7" stroke="#333" stroke-width="2.2"/>
<text x="298.8" y="1963.7" font-size="24.5" fill="#4D4D4D" text-anchor="middle" textLength="15.2" lengthAdjust="spacingAndGlyphs">2</text>
<line x1="365.0" y1="1932.2" x2="365.0" y2="1938.7" stroke="#333" stroke-width="2.2"/>
<text x="365.0" y="1963.7" font-size="24.5" fill="#4D4D4D" text-anchor="middle" textLength="15.2" lengthAdjust="spacingAndGlyphs">3</text>
<line x1="411.0" y1="1932.2" x2="411.0" y2="1938.7" stroke="#333" stroke-width="2.2"/>
<text x="411.0" y="1963.7" font-size="24.5" fill="#4D4D4D" text-anchor="middle" textLength="15.2" lengthAdjust="spacingAndGlyphs">4</text>
<line x1="448.5" y1="1932.2" x2="448.5" y2="1938.7" stroke="#333" stroke-width="2.2"/>
<text x="448.5" y="1963.7" font-size="24.5" fill="#4D4D4D" text-anchor="middle" textLength="15.2" lengthAdjust="spacingAndGlyphs">5</text>
<line x1="494.4" y1="1932.2" x2="494.4" y2="1938.7" stroke="#333" stroke-width="2.2"/>
<text x="494.4" y="1963.7" font-size="24.5" fill="#4D4D4D" text-anchor="middle" textLength="15.2" lengthAdjust="spacingAndGlyphs">6</text>
<line x1="547.6" y1="1932.2" x2="547.6" y2="1938.7" stroke="#333" stroke-width="2.2"/>
<text x="547.6" y="1963.7" font-size="24.5" fill="#4D4D4D" text-anchor="middle" textLength="15.2" lengthAdjust="spacingAndGlyphs">7</text>
<line x1="601.3" y1="1932.2" x2="601.3" y2="1938.7" stroke="#333" stroke-width="2.2"/>
<text x="601.3" y="1963.7" font-size="24.5" fill="#4D4D4D" text-anchor="middle" textLength="15.2" lengthAdjust="spacingAndGlyphs">8</text>
<line x1="657.0" y1="1932.2" x2="657.0" y2="1938.7" stroke="#333" stroke-width="2.2"/>
<text x="657.0" y="1963.7" font-size="24.5" fill="#4D4D4D" text-anchor="middle" textLength="15.2" lengthAdjust="spacingAndGlyphs">9</text>
<line x1="715.0" y1="1932.2" x2="715.0" y2="1938.7" stroke="#333" stroke-width="2.2"/>
<text x="715.0" y="1963.7" font-size="24.5" fill="#4D4D4D" text-anchor="middle" textLength="30.4" lengthAdjust="spacingAndGlyphs">10</text>
<line x1="767.8" y1="1932.2" x2="767.8" y2="1938.7" stroke="#333" stroke-width="2.2"/>
<text x="767.8" y="1963.7" font-size="24.5" fill="#4D4D4D" text-anchor="middle" textLength="30.4" lengthAdjust="spacingAndGlyphs">11</text>
<line x1="833.0" y1="1932.2" x2="833.0" y2="1938.7" stroke="#333" stroke-width="2.2"/>
<text x="833.0" y="1963.7" font-size="24.5" fill="#4D4D4D" text-anchor="middle" textLength="30.4" lengthAdjust="spacingAndGlyphs">12</text>
<line x1="878.9" y1="1932.2" x2="878.9" y2="1938.7" stroke="#333" stroke-width="2.2"/>
<text x="878.9" y="1963.7" font-size="24.5" fill="#4D4D4D" text-anchor="middle" textLength="30.4" lengthAdjust="spacingAndGlyphs">13</text>
<line x1="911.2" y1="1932.2" x2="911.2" y2="1938.7" stroke="#333" stroke-width="2.2"/>
<text x="911.2" y="1963.7" font-size="24.5" fill="#4D4D4D" text-anchor="middle" textLength="30.4" lengthAdjust="spacingAndGlyphs">14</text>
<line x1="951.4" y1="1932.2" x2="951.4" y2="1938.7" stroke="#333" stroke-width="2.2"/>
<text x="951.4" y="1963.7" font-size="24.5" fill="#4D4D4D" text-anchor="middle" textLength="30.4" lengthAdjust="spacingAndGlyphs">15</text>
<line x1="1003.5" y1="1932.2" x2="1003.5" y2="1938.7" stroke="#333" stroke-width="2.2"/>
<text x="1003.5" y="1963.7" font-size="24.5" fill="#4D4D4D" text-anchor="middle" textLength="30.4" lengthAdjust="spacingAndGlyphs">16</text>
<line x1="1080.7" y1="1932.2" x2="1080.7" y2="1938.7" stroke="#333" stroke-width="2.2"/>
<text x="1080.7" y="1963.7" font-size="24.5" fill="#4D4D4D" text-anchor="middle" textLength="30.4" lengthAdjust="spacingAndGlyphs">17</text>
<line x1="1137.0" y1="1932.2" x2="1137.0" y2="1938.7" stroke="#333" stroke-width="2.2"/>
<text x="1137.0" y="1963.7" font-size="24.5" fill="#4D4D4D" text-anchor="middle" textLength="30.4" lengthAdjust="spacingAndGlyphs">18</text>
<line x1="1213.7" y1="1932.2" x2="1213.7" y2="1938.7" stroke="#333" stroke-width="2.2"/>
<text x="1213.7" y="1963.7" font-size="24.5" fill="#4D4D4D" text-anchor="middle" textLength="30.4" lengthAdjust="spacingAndGlyphs">19</text>
<line x1="1307.5" y1="1932.2" x2="1307.5" y2="1938.7" stroke="#333" stroke-width="2.2"/>
<text x="1307.5" y="1963.7" font-size="24.5" fill="#4D4D4D" text-anchor="middle" textLength="30.4" lengthAdjust="spacingAndGlyphs">20</text>
<line x1="1344.0" y1="1932.2" x2="1344.0" y2="1938.7" stroke="#333" stroke-width="2.2"/>
<text x="1344.0" y="1963.7" font-size="24.5" fill="#4D4D4D" text-anchor="middle" textLength="30.4" lengthAdjust="spacingAndGlyphs">21</text>
<line x1="1384.2" y1="1932.2" x2="1384.2" y2="1938.7" stroke="#333" stroke-width="2.2"/>
<text x="1384.2" y="1963.7" font-size="24.5" fill="#4D4D4D" text-anchor="middle" textLength="30.4" lengthAdjust="spacingAndGlyphs">22</text>
<text x="691.5" y="2000.0" font-size="31" fill="#000" textLength="209.0" lengthAdjust="spacingAndGlyphs">Chromosome</text>
<g><path d="M173.7,1930.2 L173.7,1907.8 L173.7,1907.8 L175.0,1907.8 L200.0,1905.8 L227.0,1899.8 L240.0,1907.8 L255.0,1903.8 L257.1,1903.8 L257.1,1903.8 L257.1,1930.2Z" fill="#000"/><path d="M257.1,1930.2 L257.1,1899.8 L257.1,1899.8 L259.0,1899.8 L285.0,1893.8 L292.0,1877.8 L302.0,1877.8 L310.0,1895.8 L329.0,1899.8 L331.1,1899.8 L331.1,1899.8 L331.1,1930.2Z" fill="#666"/><path d="M331.1,1930.2 L331.1,1910.8 L331.1,1910.8 L333.0,1910.8 L345.0,1903.8 L360.0,1895.8 L372.0,1900.8 L386.0,1905.8 L387.8,1905.8 L387.8,1905.8 L387.8,1930.2Z" fill="#000"/><path d="M387.8,1930.2 L387.8,1901.8 L387.8,1901.8 L423.3,1901.8 L423.3,1901.8 L423.3,1930.2Z" fill="#666"/><path d="M423.3,1930.2 L423.3,1905.8 L423.3,1905.8 L425.0,1905.8 L431.0,1905.8 L444.0,1899.8 L462.0,1905.8 L464.1,1905.8 L464.1,1905.8 L464.1,1930.2Z" fill="#000"/><path d="M464.1,1930.2 L464.1,1897.8 L464.1,1897.8 L466.0,1897.8 L478.0,1885.8 L490.0,1895.8 L512.0,1897.8 L514.1,1897.8 L514.1,1897.8 L514.1,1930.2Z" fill="#666"/><path d="M514.1,1930.2 L514.1,1899.8 L514.1,1899.8 L516.0,1899.8 L545.0,1895.8 L560.0,1895.8 L570.0,1897.8 L572.2,1897.8 L572.2,1897.8 L572.2,1930.2Z" fill="#000"/><path d="M572.2,1930.2 L572.2,1897.8 L572.2,1897.8 L620.8,1897.8 L620.8,1897.8 L620.8,1930.2Z" fill="#666"/><path d="M620.8,1930.2 L620.8,1893.8 L620.8,1893.8 L683.2,1893.8 L683.2,1893.8 L683.2,1930.2Z" fill="#000"/><path d="M683.2,1930.2 L683.2,1905.8 L683.2,1905.8 L685.0,1905.8 L715.0,1903.8 L729.0,1895.8 L731.7,1895.8 L731.7,1895.8 L731.7,1930.2Z" fill="#666"/><path d="M731.7,1930.2 L731.7,1910.8 L731.7,1910.8 L733.0,1910.8 L760.0,1907.8 L792.0,1907.8 L794.1,1907.8 L794.1,1907.8 L794.1,1930.2Z" fill="#000"/><path d="M794.1,1930.2 L794.1,1903.8 L794.1,1903.8 L860.7,1903.8 L860.7,1903.8 L860.7,1930.2Z" fill="#666"/><path d="M860.7,1930.2 L860.7,1905.8 L860.7,1905.8 L886.0,1905.8 L886.0,1905.8 L886.0,1930.2Z" fill="#000"/><path d="M886.0,1930.2 L886.0,1905.8 L886.0,1905.8 L925.2,1905.8 L925.2,1905.8 L925.2,1930.2Z" fill="#666"/><path d="M925.2,1930.2 L925.2,1901.8 L925.2,1901.8 L927.0,1901.8 L940.0,1899.8 L955.0,1905.8 L965.0,1905.8 L966.4,1905.8 L966.4,1905.8 L966.4,1930.2Z" fill="#000"/><path d="M966.4,1930.2 L966.4,1901.8 L966.4,1901.8 L1029.7,1901.8 L1029.7,1901.8 L1029.7,1930.2Z" fill="#666"/><path d="M1029.7,1930.2 L1029.7,1914.8 L1029.7,1914.8 L1031.0,1914.8 L1045.0,1905.8 L1055.0,1893.8 L1080.0,1891.8 L1095.0,1895.8 L1118.0,1905.8 L1120.0,1905.8 L1120.0,1905.8 L1120.0,1930.2Z" fill="#000"/><path d="M1120.0,1930.2 L1120.0,1903.8 L1120.0,1903.8 L1141.1,1903.8 L1141.1,1903.8 L1141.1,1930.2Z" fill="#666"/><path d="M1141.1,1930.2 L1141.1,1910.8 L1141.1,1910.8 L1143.0,1910.8 L1180.0,1914.8 L1230.0,1911.8 L1275.0,1901.8 L1277.2,1901.8 L1277.2,1901.8 L1277.2,1930.2Z" fill="#000"/><path d="M1277.2,1930.2 L1277.2,1893.8 L1277.2,1893.8 L1326.8,1893.8 L1326.8,1893.8 L1326.8,1930.2Z" fill="#666"/><path d="M1326.8,1930.2 L1326.8,1909.8 L1326.8,1909.8 L1350.8,1909.8 L1350.8,1909.8 L1350.8,1930.2Z" fill="#000"/><path d="M1350.8,1930.2 L1350.8,1897.8 L1350.8,1897.8 L1352.0,1897.8 L1374.0,1889.8 L1400.0,1893.8 L1418.0,1899.8 L1419.6,1899.8 L1419.6,1899.8 L1419.6,1930.2Z" fill="#666"/></g>
<g class="k"><circle cx="221" cy="1902"/><circle cx="240" cy="1904"/><circle cx="227" cy="1903"/><circle cx="247" cy="1901"/><circle cx="227" cy="1900"/><circle cx="216" cy="1906"/><circle cx="218" cy="1900"/><circle cx="249" cy="1906"/><circle cx="200" cy="1903"/><circle cx="215" cy="1896"/><circle cx="224" cy="1902"/><circle cx="210" cy="1906"/><circle cx="248" cy="1905"/><circle cx="229" cy="1896"/><circle cx="181" cy="1912"/><circle cx="199" cy="1902"/><circle cx="246" cy="1908"/><circle cx="187" cy="1904"/><circle cx="196" cy="1902"/><circle cx="178" cy="1907"/><circle cx="200" cy="1903"/><circle cx="191" cy="1901"/><circle cx="180" cy="1910"/><circle cx="234" cy="1904"/><circle cx="187" cy="1902"/><circle cx="186" cy="1904"/><circle cx="181" cy="1904"/><circle cx="193" cy="1904"/><circle cx="227" cy="1894"/><circle cx="213" cy="1898"/><circle cx="218" cy="1886"/><circle cx="201" cy="1905"/><circle cx="214" cy="1898"/><circle cx="237" cy="1905"/><circle cx="244" cy="1907"/><circle cx="219" cy="1896"/><circle cx="201" cy="1884"/><circle cx="231" cy="1900"/><circle cx="215" cy="1893"/><circle cx="180" cy="1907"/><circle cx="223" cy="1888"/><circle cx="213" cy="1898"/><circle cx="216" cy="1899"/><circle cx="244" cy="1874"/><circle cx="214" cy="1902"/><circle cx="208" cy="1888"/><circle cx="202" cy="1904"/><circle cx="191" cy="1894"/><circle cx="225" cy="1897"/><circle cx="225" cy="1886"/><circle cx="251" cy="1887"/><circle cx="210" cy="1887"/><circle cx="248" cy="1885"/><circle cx="235" cy="1896"/><circle cx="216" cy="1883"/><circle cx="225" cy="1887"/><circle cx="195" cy="1905"/><circle cx="198" cy="1897"/><circle cx="221" cy="1899"/><circle cx="192" cy="1877"/><circle cx="183" cy="1881"/><circle cx="236" cy="1897"/><circle cx="253" cy="1893"/></g>
<g class="g"><circle cx="261" cy="1903"/><circle cx="288" cy="1890"/><circle cx="315" cy="1892"/><circle cx="263" cy="1892"/><circle cx="313" cy="1899"/><circle cx="276" cy="1890"/><circle cx="285" cy="1896"/><circle cx="310" cy="1899"/><circle cx="326" cy="1901"/><circle cx="317" cy="1891"/><circle cx="261" cy="1902"/><circle cx="302" cy="1875"/><circle cx="269" cy="1894"/><circle cx="283" cy="1893"/><circle cx="291" cy="1876"/><circle cx="266" cy="1894"/><circle cx="269" cy="1892"/><circle cx="288" cy="1881"/><circle cx="314" cy="1896"/><circle cx="291" cy="1880"/><circle cx="276" cy="1889"/><circle cx="266" cy="1895"/><circle cx="285" cy="1890"/><circle cx="281" cy="1877"/><circle cx="261" cy="1893"/><circle cx="286" cy="1888"/><circle cx="309" cy="1892"/><circle cx="263" cy="1897"/><circle cx="326" cy="1895"/><circle cx="268" cy="1862"/><circle cx="304" cy="1851"/><circle cx="283" cy="1878"/><circle cx="263" cy="1896"/><circle cx="314" cy="1889"/><circle cx="314" cy="1892"/><circle cx="319" cy="1897"/><circle cx="302" cy="1877"/><circle cx="274" cy="1875"/><circle cx="289" cy="1867"/><circle cx="280" cy="1882"/><circle cx="322" cy="1888"/><circle cx="276" cy="1885"/><circle cx="324" cy="1883"/><circle cx="290" cy="1877"/><circle cx="267" cy="1883"/><circle cx="271" cy="1895"/><circle cx="263" cy="1897"/><circle cx="286" cy="1884"/><circle cx="272" cy="1891"/><circle cx="311" cy="1895"/><circle cx="270" cy="1890"/><circle cx="321" cy="1873"/><circle cx="299" cy="1877"/><circle cx="319" cy="1849"/><circle cx="321" cy="1891"/><circle cx="286" cy="1882"/></g>
<g class="k"><circle cx="374" cy="1906"/><circle cx="359" cy="1895"/><circle cx="350" cy="1900"/><circle cx="362" cy="1893"/><circle cx="357" cy="1901"/><circle cx="346" cy="1899"/><circle cx="350" cy="1904"/><circle cx="350" cy="1904"/><circle cx="381" cy="1907"/><circle cx="375" cy="1897"/><circle cx="357" cy="1900"/><circle cx="347" cy="1903"/><circle cx="378" cy="1907"/><circle cx="352" cy="1895"/><circle cx="336" cy="1906"/><circle cx="362" cy="1893"/><circle cx="376" cy="1903"/><circle cx="366" cy="1881"/><circle cx="351" cy="1890"/><circle cx="352" cy="1897"/><circle cx="340" cy="1891"/><circle cx="379" cy="1903"/><circle cx="370" cy="1899"/><circle cx="355" cy="1894"/><circle cx="380" cy="1898"/><circle cx="360" cy="1891"/><circle cx="347" cy="1900"/><circle cx="338" cy="1908"/><circle cx="362" cy="1883"/><circle cx="368" cy="1896"/><circle cx="384" cy="1904"/><circle cx="356" cy="1894"/><circle cx="343" cy="1872"/><circle cx="370" cy="1899"/><circle cx="343" cy="1888"/><circle cx="353" cy="1896"/><circle cx="349" cy="1898"/><circle cx="364" cy="1894"/><circle cx="364" cy="1897"/><circle cx="361" cy="1888"/><circle cx="350" cy="1881"/><circle cx="381" cy="1893"/></g>
<g class="g"><circle cx="403" cy="1897"/><circle cx="409" cy="1898"/><circle cx="396" cy="1901"/><circle cx="397" cy="1902"/><circle cx="413" cy="1895"/><circle cx="409" cy="1897"/><circle cx="401" cy="1903"/><circle cx="419" cy="1899"/><circle cx="413" cy="1899"/><circle cx="418" cy="1897"/><circle cx="410" cy="1896"/><circle cx="407" cy="1888"/><circle cx="417" cy="1887"/><circle cx="407" cy="1897"/><circle cx="409" cy="1891"/><circle cx="409" cy="1889"/><circle cx="413" cy="1874"/><circle cx="409" cy="1881"/><circle cx="412" cy="1897"/><circle cx="414" cy="1897"/><circle cx="415" cy="1881"/><circle cx="417" cy="1878"/><circle cx="411" cy="1895"/><circle cx="399" cy="1892"/><circle cx="417" cy="1897"/><circle cx="397" cy="1888"/><circle cx="417" cy="1899"/></g>
<g class="k"><circle cx="431" cy="1900"/><circle cx="445" cy="1903"/><circle cx="435" cy="1906"/><circle cx="428" cy="1901"/><circle cx="445" cy="1902"/><circle cx="443" cy="1901"/><circle cx="439" cy="1900"/><circle cx="444" cy="1893"/><circle cx="433" cy="1902"/><circle cx="449" cy="1897"/><circle cx="435" cy="1908"/><circle cx="449" cy="1899"/><circle cx="453" cy="1890"/><circle cx="454" cy="1895"/><circle cx="448" cy="1900"/><circle cx="441" cy="1896"/><circle cx="435" cy="1899"/><circle cx="457" cy="1902"/><circle cx="431" cy="1902"/><circle cx="432" cy="1905"/><circle cx="458" cy="1896"/><circle cx="428" cy="1898"/><circle cx="433" cy="1898"/><circle cx="459" cy="1866"/><circle cx="440" cy="1886"/><circle cx="443" cy="1899"/><circle cx="440" cy="1885"/><circle cx="453" cy="1890"/><circle cx="460" cy="1900"/><circle cx="451" cy="1885"/></g>
<g class="g"><circle cx="507" cy="1900"/><circle cx="505" cy="1894"/><circle cx="484" cy="1891"/><circle cx="473" cy="1888"/><circle cx="484" cy="1886"/><circle cx="475" cy="1889"/><circle cx="481" cy="1882"/><circle cx="502" cy="1901"/><circle cx="477" cy="1888"/><circle cx="471" cy="1888"/><circle cx="475" cy="1890"/><circle cx="492" cy="1898"/><circle cx="496" cy="1898"/><circle cx="505" cy="1897"/><circle cx="477" cy="1882"/><circle cx="505" cy="1880"/><circle cx="495" cy="1866"/><circle cx="502" cy="1892"/><circle cx="476" cy="1883"/><circle cx="507" cy="1875"/><circle cx="468" cy="1896"/><circle cx="487" cy="1869"/><circle cx="505" cy="1879"/><circle cx="470" cy="1891"/><circle cx="501" cy="1891"/><circle cx="481" cy="1856"/><circle cx="468" cy="1889"/><circle cx="506" cy="1885"/><circle cx="506" cy="1894"/><circle cx="492" cy="1857"/><circle cx="473" cy="1885"/><circle cx="510" cy="1896"/><circle cx="501" cy="1883"/><circle cx="479" cy="1840"/><circle cx="501" cy="1895"/><circle cx="510" cy="1876"/><circle cx="488" cy="1894"/></g>
<g class="k"><circle cx="558" cy="1896"/><circle cx="556" cy="1890"/><circle cx="542" cy="1899"/><circle cx="555" cy="1891"/><circle cx="534" cy="1896"/><circle cx="541" cy="1901"/><circle cx="565" cy="1890"/><circle cx="549" cy="1891"/><circle cx="562" cy="1895"/><circle cx="564" cy="1900"/><circle cx="565" cy="1892"/><circle cx="521" cy="1901"/><circle cx="541" cy="1898"/><circle cx="540" cy="1894"/><circle cx="555" cy="1893"/><circle cx="543" cy="1894"/><circle cx="552" cy="1890"/><circle cx="541" cy="1896"/><circle cx="553" cy="1873"/><circle cx="537" cy="1864"/><circle cx="554" cy="1891"/><circle cx="546" cy="1891"/><circle cx="551" cy="1896"/><circle cx="564" cy="1892"/><circle cx="518" cy="1899"/><circle cx="535" cy="1894"/><circle cx="560" cy="1891"/><circle cx="565" cy="1893"/><circle cx="535" cy="1867"/><circle cx="562" cy="1869"/><circle cx="523" cy="1898"/><circle cx="553" cy="1892"/><circle cx="523" cy="1898"/><circle cx="534" cy="1894"/><circle cx="552" cy="1850"/><circle cx="526" cy="1883"/><circle cx="548" cy="1876"/><circle cx="568" cy="1873"/><circle cx="524" cy="1885"/><circle cx="557" cy="1891"/><circle cx="519" cy="1885"/><circle cx="550" cy="1882"/><circle cx="556" cy="1883"/><circle cx="520" cy="1871"/></g>
<g class="g"><circle cx="616" cy="1895"/><circle cx="608" cy="1902"/><circle cx="594" cy="1895"/><circle cx="601" cy="1900"/><circle cx="593" cy="1899"/><circle cx="616" cy="1895"/><circle cx="614" cy="1893"/><circle cx="600" cy="1900"/><circle cx="593" cy="1894"/><circle cx="587" cy="1895"/><circle cx="592" cy="1896"/><circle cx="586" cy="1898"/><circle cx="585" cy="1894"/><circle cx="595" cy="1901"/><circle cx="587" cy="1893"/><circle cx="608" cy="1889"/><circle cx="581" cy="1862"/><circle cx="584" cy="1888"/><circle cx="586" cy="1880"/><circle cx="591" cy="1888"/><circle cx="609" cy="1886"/><circle cx="589" cy="1894"/><circle cx="600" cy="1890"/><circle cx="605" cy="1897"/><circle cx="578" cy="1898"/><circle cx="609" cy="1896"/><circle cx="607" cy="1892"/><circle cx="616" cy="1888"/><circle cx="611" cy="1897"/><circle cx="613" cy="1893"/><circle cx="577" cy="1878"/><circle cx="585" cy="1887"/><circle cx="576" cy="1892"/><circle cx="595" cy="1892"/><circle cx="610" cy="1894"/><circle cx="614" cy="1896"/><circle cx="616" cy="1894"/></g>
<g class="k"><circle cx="662" cy="1898"/><circle cx="662" cy="1897"/><circle cx="629" cy="1898"/><circle cx="626" cy="1895"/><circle cx="670" cy="1896"/><circle cx="665" cy="1894"/><circle cx="679" cy="1890"/><circle cx="675" cy="1896"/><circle cx="635" cy="1892"/><circle cx="648" cy="1889"/><circle cx="672" cy="1897"/><circle cx="666" cy="1887"/><circle cx="665" cy="1897"/><circle cx="664" cy="1898"/><circle cx="678" cy="1895"/><circle cx="665" cy="1890"/><circle cx="667" cy="1891"/><circle cx="639" cy="1891"/><circle cx="641" cy="1888"/><circle cx="633" cy="1891"/><circle cx="636" cy="1894"/><circle cx="665" cy="1876"/><circle cx="643" cy="1881"/><circle cx="673" cy="1893"/><circle cx="656" cy="1885"/><circle cx="634" cy="1871"/><circle cx="669" cy="1886"/><circle cx="654" cy="1876"/><circle cx="627" cy="1873"/><circle cx="653" cy="1890"/><circle cx="639" cy="1886"/><circle cx="630" cy="1876"/><circle cx="647" cy="1871"/><circle cx="677" cy="1878"/><circle cx="630" cy="1891"/><circle cx="659" cy="1865"/><circle cx="659" cy="1889"/><circle cx="669" cy="1888"/><circle cx="657" cy="1888"/><circle cx="677" cy="1884"/><circle cx="630" cy="1883"/><circle cx="647" cy="1892"/><circle cx="652" cy="1891"/><circle cx="677" cy="1891"/><circle cx="654" cy="1894"/><circle cx="641" cy="1883"/><circle cx="652" cy="1883"/></g>
<g class="g"><circle cx="711" cy="1904"/><circle cx="697" cy="1909"/><circle cx="714" cy="1897"/><circle cx="721" cy="1895"/><circle cx="704" cy="1905"/><circle cx="724" cy="1894"/><circle cx="699" cy="1904"/><circle cx="715" cy="1902"/><circle cx="716" cy="1908"/><circle cx="689" cy="1903"/><circle cx="720" cy="1903"/><circle cx="726" cy="1894"/><circle cx="697" cy="1906"/><circle cx="721" cy="1903"/><circle cx="709" cy="1899"/><circle cx="716" cy="1900"/><circle cx="688" cy="1906"/><circle cx="701" cy="1900"/><circle cx="709" cy="1898"/><circle cx="708" cy="1894"/><circle cx="694" cy="1889"/><circle cx="715" cy="1887"/><circle cx="710" cy="1896"/><circle cx="722" cy="1889"/><circle cx="698" cy="1885"/><circle cx="695" cy="1902"/><circle cx="721" cy="1894"/><circle cx="693" cy="1882"/><circle cx="711" cy="1904"/><circle cx="701" cy="1901"/><circle cx="698" cy="1892"/><circle cx="696" cy="1904"/><circle cx="722" cy="1891"/><circle cx="706" cy="1883"/><circle cx="715" cy="1885"/><circle cx="701" cy="1901"/><circle cx="700" cy="1898"/></g>
<g class="k"><circle cx="767" cy="1903"/><circle cx="767" cy="1912"/><circle cx="777" cy="1901"/><circle cx="762" cy="1908"/><circle cx="738" cy="1915"/><circle cx="779" cy="1907"/><circle cx="764" cy="1908"/><circle cx="757" cy="1908"/><circle cx="763" cy="1905"/><circle cx="761" cy="1902"/><circle cx="769" cy="1904"/><circle cx="750" cy="1904"/><circle cx="777" cy="1906"/><circle cx="767" cy="1907"/><circle cx="768" cy="1905"/><circle cx="750" cy="1911"/><circle cx="775" cy="1903"/><circle cx="743" cy="1907"/><circle cx="779" cy="1905"/><circle cx="748" cy="1904"/><circle cx="763" cy="1898"/><circle cx="753" cy="1903"/><circle cx="790" cy="1894"/><circle cx="747" cy="1902"/><circle cx="744" cy="1870"/><circle cx="750" cy="1883"/><circle cx="747" cy="1907"/><circle cx="754" cy="1905"/><circle cx="754" cy="1903"/><circle cx="758" cy="1907"/><circle cx="770" cy="1896"/><circle cx="748" cy="1908"/><circle cx="737" cy="1908"/><circle cx="764" cy="1898"/><circle cx="787" cy="1891"/><circle cx="744" cy="1907"/><circle cx="746" cy="1909"/><circle cx="737" cy="1903"/><circle cx="788" cy="1870"/><circle cx="736" cy="1908"/><circle cx="755" cy="1889"/><circle cx="741" cy="1904"/><circle cx="784" cy="1893"/><circle cx="745" cy="1902"/><circle cx="773" cy="1906"/><circle cx="783" cy="1896"/><circle cx="755" cy="1904"/></g>
<g class="g"><circle cx="803" cy="1907"/><circle cx="809" cy="1904"/><circle cx="839" cy="1904"/><circle cx="845" cy="1900"/><circle cx="837" cy="1899"/><circle cx="840" cy="1906"/><circle cx="825" cy="1905"/><circle cx="838" cy="1897"/><circle cx="810" cy="1899"/><circle cx="839" cy="1906"/><circle cx="811" cy="1907"/><circle cx="809" cy="1902"/><circle cx="848" cy="1900"/><circle cx="849" cy="1898"/><circle cx="815" cy="1906"/><circle cx="837" cy="1898"/><circle cx="827" cy="1903"/><circle cx="799" cy="1908"/><circle cx="799" cy="1907"/><circle cx="839" cy="1904"/><circle cx="820" cy="1901"/><circle cx="827" cy="1873"/><circle cx="803" cy="1897"/><circle cx="834" cy="1868"/><circle cx="840" cy="1874"/><circle cx="839" cy="1898"/><circle cx="854" cy="1903"/><circle cx="842" cy="1904"/><circle cx="803" cy="1903"/><circle cx="824" cy="1888"/><circle cx="845" cy="1894"/><circle cx="820" cy="1900"/><circle cx="825" cy="1900"/><circle cx="828" cy="1893"/><circle cx="803" cy="1877"/><circle cx="805" cy="1883"/><circle cx="798" cy="1904"/><circle cx="855" cy="1900"/><circle cx="821" cy="1889"/><circle cx="802" cy="1894"/><circle cx="849" cy="1897"/><circle cx="799" cy="1902"/><circle cx="850" cy="1902"/><circle cx="840" cy="1894"/><circle cx="844" cy="1893"/><circle cx="830" cy="1888"/><circle cx="841" cy="1901"/><circle cx="802" cy="1895"/><circle cx="832" cy="1893"/><circle cx="815" cy="1861"/></g>
<g class="k"><circle cx="875" cy="1904"/><circle cx="867" cy="1901"/><circle cx="869" cy="1907"/><circle cx="872" cy="1908"/><circle cx="870" cy="1908"/><circle cx="882" cy="1907"/><circle cx="879" cy="1902"/><circle cx="873" cy="1901"/><circle cx="872" cy="1870"/><circle cx="870" cy="1872"/><circle cx="878" cy="1903"/><circle cx="872" cy="1900"/><circle cx="873" cy="1876"/><circle cx="876" cy="1899"/><circle cx="875" cy="1902"/><circle cx="866" cy="1901"/><circle cx="879" cy="1890"/><circle cx="865" cy="1896"/></g>
<g class="g"><circle cx="914" cy="1906"/><circle cx="920" cy="1903"/><circle cx="895" cy="1904"/><circle cx="890" cy="1909"/><circle cx="904" cy="1906"/><circle cx="906" cy="1905"/><circle cx="902" cy="1908"/><circle cx="918" cy="1910"/><circle cx="908" cy="1904"/><circle cx="908" cy="1910"/><circle cx="900" cy="1899"/><circle cx="906" cy="1909"/><circle cx="894" cy="1902"/><circle cx="910" cy="1896"/><circle cx="900" cy="1892"/><circle cx="916" cy="1894"/><circle cx="918" cy="1904"/><circle cx="903" cy="1901"/><circle cx="899" cy="1900"/><circle cx="920" cy="1892"/><circle cx="896" cy="1894"/><circle cx="911" cy="1903"/><circle cx="901" cy="1904"/><circle cx="904" cy="1892"/><circle cx="901" cy="1902"/><circle cx="897" cy="1869"/><circle cx="897" cy="1900"/><circle cx="897" cy="1899"/><circle cx="915" cy="1885"/></g>
<g class="k"><circle cx="949" cy="1907"/><circle cx="939" cy="1901"/><circle cx="941" cy="1896"/><circle cx="942" cy="1896"/><circle cx="950" cy="1899"/><circle cx="953" cy="1907"/><circle cx="929" cy="1899"/><circle cx="951" cy="1905"/><circle cx="950" cy="1897"/><circle cx="954" cy="1900"/><circle cx="929" cy="1903"/><circle cx="944" cy="1897"/><circle cx="933" cy="1896"/><circle cx="951" cy="1904"/><circle cx="946" cy="1896"/><circle cx="959" cy="1900"/><circle cx="934" cy="1892"/><circle cx="932" cy="1900"/><circle cx="959" cy="1898"/><circle cx="941" cy="1898"/><circle cx="934" cy="1895"/><circle cx="943" cy="1872"/><circle cx="945" cy="1897"/><circle cx="946" cy="1899"/><circle cx="946" cy="1897"/><circle cx="936" cy="1896"/><circle cx="955" cy="1905"/><circle cx="949" cy="1877"/><circle cx="949" cy="1897"/><circle cx="958" cy="1893"/></g>
<g class="g"><circle cx="989" cy="1895"/><circle cx="1022" cy="1900"/><circle cx="988" cy="1895"/><circle cx="982" cy="1903"/><circle cx="1004" cy="1897"/><circle cx="1013" cy="1904"/><circle cx="975" cy="1902"/><circle cx="989" cy="1899"/><circle cx="986" cy="1901"/><circle cx="975" cy="1906"/><circle cx="978" cy="1906"/><circle cx="971" cy="1900"/><circle cx="985" cy="1906"/><circle cx="989" cy="1906"/><circle cx="991" cy="1896"/><circle cx="991" cy="1896"/><circle cx="997" cy="1897"/><circle cx="982" cy="1897"/><circle cx="988" cy="1906"/><circle cx="1000" cy="1892"/><circle cx="1017" cy="1896"/><circle cx="1007" cy="1902"/><circle cx="1000" cy="1884"/><circle cx="990" cy="1901"/><circle cx="1022" cy="1886"/><circle cx="988" cy="1901"/><circle cx="991" cy="1895"/><circle cx="985" cy="1883"/><circle cx="1002" cy="1885"/><circle cx="999" cy="1874"/><circle cx="1006" cy="1895"/><circle cx="997" cy="1882"/><circle cx="1005" cy="1894"/><circle cx="979" cy="1881"/><circle cx="1008" cy="1860"/><circle cx="993" cy="1900"/><circle cx="973" cy="1898"/><circle cx="998" cy="1899"/><circle cx="1011" cy="1900"/><circle cx="1022" cy="1900"/><circle cx="980" cy="1901"/><circle cx="1014" cy="1881"/><circle cx="1009" cy="1899"/><circle cx="1017" cy="1890"/><circle cx="984" cy="1879"/><circle cx="1013" cy="1899"/><circle cx="1000" cy="1902"/></g>
<g class="k"><circle cx="1042" cy="1902"/><circle cx="1101" cy="1897"/><circle cx="1083" cy="1896"/><circle cx="1057" cy="1888"/><circle cx="1055" cy="1898"/><circle cx="1060" cy="1887"/><circle cx="1039" cy="1907"/><circle cx="1107" cy="1897"/><circle cx="1098" cy="1894"/><circle cx="1115" cy="1904"/><circle cx="1053" cy="1893"/><circle cx="1078" cy="1890"/><circle cx="1071" cy="1897"/><circle cx="1036" cy="1909"/><circle cx="1095" cy="1899"/><circle cx="1106" cy="1898"/><circle cx="1063" cy="1896"/><circle cx="1081" cy="1896"/><circle cx="1043" cy="1909"/><circle cx="1094" cy="1900"/><circle cx="1054" cy="1895"/><circle cx="1104" cy="1898"/><circle cx="1043" cy="1908"/><circle cx="1047" cy="1899"/><circle cx="1116" cy="1904"/><circle cx="1113" cy="1908"/><circle cx="1045" cy="1901"/><circle cx="1097" cy="1892"/><circle cx="1042" cy="1907"/><circle cx="1106" cy="1878"/><circle cx="1106" cy="1896"/><circle cx="1053" cy="1889"/><circle cx="1036" cy="1909"/><circle cx="1109" cy="1856"/><circle cx="1064" cy="1891"/><circle cx="1084" cy="1869"/><circle cx="1080" cy="1884"/><circle cx="1089" cy="1882"/><circle cx="1058" cy="1890"/><circle cx="1073" cy="1886"/><circle cx="1116" cy="1903"/><circle cx="1035" cy="1904"/><circle cx="1114" cy="1876"/><circle cx="1045" cy="1843"/><circle cx="1109" cy="1899"/><circle cx="1053" cy="1893"/><circle cx="1074" cy="1884"/><circle cx="1051" cy="1892"/><circle cx="1077" cy="1890"/><circle cx="1088" cy="1892"/><circle cx="1071" cy="1890"/><circle cx="1045" cy="1897"/><circle cx="1101" cy="1891"/><circle cx="1044" cy="1904"/><circle cx="1106" cy="1892"/><circle cx="1056" cy="1889"/><circle cx="1045" cy="1897"/><circle cx="1034" cy="1898"/><circle cx="1050" cy="1896"/><circle cx="1114" cy="1903"/><circle cx="1062" cy="1883"/><circle cx="1086" cy="1876"/><circle cx="1101" cy="1892"/><circle cx="1098" cy="1894"/><circle cx="1099" cy="1880"/><circle cx="1034" cy="1898"/><circle cx="1063" cy="1892"/><circle cx="1045" cy="1903"/><circle cx="1101" cy="1879"/></g>
<g class="g"><circle cx="1132" cy="1901"/><circle cx="1127" cy="1899"/><circle cx="1124" cy="1902"/><circle cx="1133" cy="1906"/><circle cx="1134" cy="1907"/><circle cx="1132" cy="1905"/><circle cx="1132" cy="1893"/><circle cx="1134" cy="1903"/><circle cx="1124" cy="1901"/><circle cx="1129" cy="1898"/><circle cx="1124" cy="1893"/><circle cx="1132" cy="1900"/><circle cx="1136" cy="1901"/><circle cx="1128" cy="1864"/><circle cx="1127" cy="1902"/></g>
<g class="k"><circle cx="1152" cy="1909"/><circle cx="1221" cy="1910"/><circle cx="1217" cy="1913"/><circle cx="1216" cy="1917"/><circle cx="1241" cy="1903"/><circle cx="1262" cy="1906"/><circle cx="1244" cy="1912"/><circle cx="1254" cy="1902"/><circle cx="1196" cy="1914"/><circle cx="1212" cy="1915"/><circle cx="1201" cy="1915"/><circle cx="1193" cy="1911"/><circle cx="1227" cy="1910"/><circle cx="1192" cy="1912"/><circle cx="1194" cy="1911"/><circle cx="1194" cy="1914"/><circle cx="1162" cy="1910"/><circle cx="1229" cy="1909"/><circle cx="1247" cy="1905"/><circle cx="1204" cy="1912"/><circle cx="1187" cy="1913"/><circle cx="1261" cy="1909"/><circle cx="1159" cy="1915"/><circle cx="1226" cy="1911"/><circle cx="1171" cy="1910"/><circle cx="1201" cy="1908"/><circle cx="1257" cy="1909"/><circle cx="1271" cy="1897"/><circle cx="1165" cy="1917"/><circle cx="1219" cy="1909"/><circle cx="1238" cy="1910"/><circle cx="1238" cy="1913"/><circle cx="1175" cy="1911"/><circle cx="1230" cy="1916"/><circle cx="1214" cy="1913"/><circle cx="1208" cy="1907"/><circle cx="1260" cy="1904"/><circle cx="1170" cy="1908"/><circle cx="1201" cy="1916"/><circle cx="1252" cy="1909"/><circle cx="1269" cy="1904"/><circle cx="1180" cy="1910"/><circle cx="1218" cy="1906"/><circle cx="1172" cy="1884"/><circle cx="1153" cy="1910"/><circle cx="1170" cy="1906"/><circle cx="1238" cy="1908"/><circle cx="1172" cy="1901"/><circle cx="1262" cy="1898"/><circle cx="1262" cy="1896"/><circle cx="1207" cy="1910"/><circle cx="1175" cy="1910"/><circle cx="1263" cy="1894"/><circle cx="1242" cy="1888"/><circle cx="1254" cy="1903"/><circle cx="1168" cy="1913"/><circle cx="1231" cy="1910"/><circle cx="1245" cy="1890"/><circle cx="1165" cy="1895"/><circle cx="1185" cy="1907"/><circle cx="1254" cy="1906"/><circle cx="1174" cy="1911"/><circle cx="1252" cy="1884"/><circle cx="1203" cy="1912"/><circle cx="1251" cy="1904"/><circle cx="1223" cy="1879"/><circle cx="1243" cy="1899"/><circle cx="1223" cy="1905"/><circle cx="1214" cy="1907"/><circle cx="1237" cy="1885"/><circle cx="1148" cy="1909"/><circle cx="1230" cy="1893"/><circle cx="1218" cy="1907"/><circle cx="1175" cy="1904"/><circle cx="1151" cy="1909"/><circle cx="1250" cy="1900"/><circle cx="1222" cy="1910"/><circle cx="1154" cy="1894"/><circle cx="1161" cy="1905"/><circle cx="1221" cy="1907"/><circle cx="1188" cy="1906"/><circle cx="1219" cy="1911"/><circle cx="1188" cy="1902"/><circle cx="1222" cy="1909"/><circle cx="1213" cy="1907"/><circle cx="1155" cy="1910"/><circle cx="1246" cy="1897"/><circle cx="1183" cy="1909"/><circle cx="1173" cy="1913"/><circle cx="1180" cy="1910"/><circle cx="1196" cy="1913"/><circle cx="1247" cy="1902"/><circle cx="1146" cy="1901"/><circle cx="1159" cy="1901"/><circle cx="1202" cy="1906"/><circle cx="1191" cy="1895"/><circle cx="1183" cy="1913"/><circle cx="1216" cy="1901"/><circle cx="1174" cy="1907"/><circle cx="1238" cy="1909"/><circle cx="1254" cy="1902"/><circle cx="1209" cy="1910"/><circle cx="1246" cy="1899"/></g>
<g class="g"><circle cx="1298" cy="1891"/><circle cx="1314" cy="1891"/><circle cx="1291" cy="1887"/><circle cx="1318" cy="1897"/><circle cx="1315" cy="1898"/><circle cx="1299" cy="1897"/><circle cx="1307" cy="1890"/><circle cx="1296" cy="1891"/><circle cx="1294" cy="1890"/><circle cx="1295" cy="1898"/><circle cx="1283" cy="1892"/><circle cx="1313" cy="1896"/><circle cx="1282" cy="1896"/><circle cx="1294" cy="1894"/><circle cx="1306" cy="1896"/><circle cx="1320" cy="1880"/><circle cx="1287" cy="1890"/><circle cx="1293" cy="1893"/><circle cx="1291" cy="1891"/><circle cx="1322" cy="1884"/><circle cx="1318" cy="1862"/><circle cx="1317" cy="1881"/><circle cx="1296" cy="1890"/><circle cx="1298" cy="1875"/><circle cx="1293" cy="1887"/><circle cx="1314" cy="1893"/><circle cx="1309" cy="1894"/><circle cx="1291" cy="1883"/><circle cx="1310" cy="1859"/><circle cx="1309" cy="1872"/><circle cx="1315" cy="1891"/><circle cx="1322" cy="1893"/><circle cx="1312" cy="1889"/><circle cx="1291" cy="1890"/><circle cx="1312" cy="1870"/><circle cx="1301" cy="1873"/><circle cx="1295" cy="1874"/></g>
<g class="k"><circle cx="1346" cy="1911"/><circle cx="1336" cy="1906"/><circle cx="1333" cy="1912"/><circle cx="1344" cy="1906"/><circle cx="1333" cy="1913"/><circle cx="1344" cy="1909"/><circle cx="1330" cy="1912"/><circle cx="1334" cy="1903"/><circle cx="1333" cy="1891"/><circle cx="1341" cy="1910"/><circle cx="1342" cy="1907"/><circle cx="1343" cy="1907"/><circle cx="1339" cy="1899"/><circle cx="1336" cy="1909"/><circle cx="1337" cy="1909"/><circle cx="1344" cy="1906"/><circle cx="1330" cy="1903"/></g>
<g class="g"><circle cx="1381" cy="1892"/><circle cx="1382" cy="1885"/><circle cx="1354" cy="1901"/><circle cx="1391" cy="1890"/><circle cx="1368" cy="1893"/><circle cx="1405" cy="1895"/><circle cx="1367" cy="1889"/><circle cx="1407" cy="1894"/><circle cx="1395" cy="1887"/><circle cx="1390" cy="1895"/><circle cx="1408" cy="1899"/><circle cx="1378" cy="1887"/><circle cx="1385" cy="1889"/><circle cx="1393" cy="1890"/><circle cx="1412" cy="1902"/><circle cx="1382" cy="1892"/><circle cx="1410" cy="1901"/><circle cx="1382" cy="1888"/><circle cx="1355" cy="1891"/><circle cx="1385" cy="1886"/><circle cx="1383" cy="1894"/><circle cx="1373" cy="1883"/><circle cx="1413" cy="1892"/><circle cx="1404" cy="1864"/><circle cx="1373" cy="1887"/><circle cx="1401" cy="1888"/><circle cx="1369" cy="1888"/><circle cx="1395" cy="1889"/><circle cx="1396" cy="1890"/><circle cx="1371" cy="1887"/><circle cx="1405" cy="1893"/><circle cx="1364" cy="1892"/><circle cx="1396" cy="1873"/><circle cx="1371" cy="1849"/><circle cx="1396" cy="1887"/><circle cx="1382" cy="1872"/><circle cx="1391" cy="1879"/><circle cx="1365" cy="1885"/><circle cx="1404" cy="1892"/><circle cx="1372" cy="1887"/><circle cx="1365" cy="1889"/><circle cx="1370" cy="1891"/><circle cx="1381" cy="1886"/><circle cx="1393" cy="1889"/><circle cx="1412" cy="1896"/><circle cx="1384" cy="1890"/><circle cx="1383" cy="1887"/><circle cx="1382" cy="1889"/><circle cx="1378" cy="1879"/><circle cx="1372" cy="1887"/><circle cx="1361" cy="1889"/><circle cx="1368" cy="1881"/></g>
<g class="k"><circle cx="202" cy="1819"/><circle cx="202" cy="1827"/><circle cx="228" cy="1824"/><circle cx="220" cy="1870"/><circle cx="202" cy="1878"/><circle cx="202" cy="1884"/><circle cx="195" cy="1888"/><circle cx="201" cy="1897"/><circle cx="228" cy="1879"/><circle cx="234" cy="1882"/><circle cx="246" cy="1890"/><circle cx="255" cy="1896"/><circle cx="180" cy="1904"/></g>
<g class="g"><circle cx="310" cy="1812"/><circle cx="310" cy="1820"/><circle cx="264" cy="1843"/><circle cx="264" cy="1856"/><circle cx="277" cy="1859"/><circle cx="290" cy="1839"/><circle cx="301" cy="1844"/><circle cx="309" cy="1860"/><circle cx="284" cy="1869"/><circle cx="284" cy="1875"/><circle cx="309" cy="1876"/><circle cx="322" cy="1883"/><circle cx="336" cy="1877"/><circle cx="336" cy="1883"/></g>
<g class="k"><circle cx="261" cy="1880"/><circle cx="370" cy="1803"/><circle cx="368" cy="1842"/><circle cx="346" cy="1858"/><circle cx="361" cy="1860"/><circle cx="354" cy="1869"/><circle cx="361" cy="1869"/><circle cx="371" cy="1869"/><circle cx="384" cy="1872"/><circle cx="369" cy="1879"/><circle cx="369" cy="1888"/><circle cx="347" cy="1881"/><circle cx="385" cy="1893"/><circle cx="339" cy="1894"/></g>
<g class="g"><circle cx="417" cy="1879"/><circle cx="399" cy="1894"/><circle cx="409" cy="1893"/><circle cx="417" cy="1891"/><circle cx="426" cy="1804"/><circle cx="426" cy="1855"/></g>
<g class="k"><circle cx="452" cy="1790"/></g>
<g class="g"><circle cx="467" cy="1804"/><circle cx="467" cy="1817"/><circle cx="467" cy="1841"/></g>
<g class="k"><circle cx="430" cy="1835"/><circle cx="445" cy="1869"/><circle cx="445" cy="1883"/></g>
<g class="g"><circle cx="470" cy="1804"/><circle cx="470" cy="1816"/><circle cx="479" cy="1816"/><circle cx="470" cy="1842"/><circle cx="507" cy="1828"/><circle cx="480" cy="1866"/><circle cx="506" cy="1872"/><circle cx="501" cy="1881"/><circle cx="470" cy="1879"/><circle cx="469" cy="1886"/><circle cx="518" cy="1848"/><circle cx="518" cy="1856"/><circle cx="518" cy="1864"/><circle cx="518" cy="1871"/><circle cx="479" cy="1788"/></g>
<g class="k"><circle cx="524" cy="1828"/><circle cx="524" cy="1858"/><circle cx="524" cy="1878"/><circle cx="569" cy="1798"/><circle cx="569" cy="1809"/><circle cx="569" cy="1845"/><circle cx="564" cy="1854"/><circle cx="569" cy="1868"/><circle cx="443" cy="1798"/><circle cx="370" cy="1799"/></g>
<g class="g"><circle cx="578" cy="1882"/><circle cx="594" cy="1884"/><circle cx="621" cy="1822"/><circle cx="621" cy="1830"/><circle cx="621" cy="1838"/><circle cx="621" cy="1848"/><circle cx="612" cy="1880"/><circle cx="621" cy="1869"/></g>
<g class="k"><circle cx="569" cy="1796"/><circle cx="635" cy="1813"/><circle cx="635" cy="1852"/><circle cx="659" cy="1822"/><circle cx="659" cy="1830"/><circle cx="659" cy="1839"/><circle cx="659" cy="1862"/><circle cx="635" cy="1887"/><circle cx="647" cy="1890"/><circle cx="659" cy="1886"/><circle cx="673" cy="1900"/></g>
<g class="g"><circle cx="716" cy="1813"/><circle cx="716" cy="1824"/><circle cx="711" cy="1861"/><circle cx="699" cy="1875"/><circle cx="699" cy="1883"/><circle cx="690" cy="1892"/><circle cx="712" cy="1888"/><circle cx="728" cy="1790"/><circle cx="730" cy="1791"/><circle cx="728" cy="1801"/><circle cx="717" cy="1813"/><circle cx="716" cy="1824"/><circle cx="711" cy="1861"/><circle cx="723" cy="1860"/><circle cx="732" cy="1862"/><circle cx="711" cy="1888"/><circle cx="702" cy="1876"/></g>
<g class="k"><circle cx="798" cy="1812"/><circle cx="789" cy="1892"/></g>
<g class="g"><circle cx="836" cy="1791"/><circle cx="825" cy="1798"/><circle cx="840" cy="1815"/><circle cx="851" cy="1824"/><circle cx="860" cy="1823"/><circle cx="860" cy="1830"/><circle cx="811" cy="1833"/><circle cx="825" cy="1845"/><circle cx="811" cy="1856"/><circle cx="841" cy="1845"/><circle cx="841" cy="1854"/><circle cx="841" cy="1861"/><circle cx="833" cy="1864"/><circle cx="841" cy="1866"/><circle cx="811" cy="1890"/><circle cx="840" cy="1880"/><circle cx="856" cy="1882"/></g>
<g class="k"><circle cx="874" cy="1791"/><circle cx="876" cy="1859"/><circle cx="874" cy="1790"/></g>
<g class="g"><circle cx="916" cy="1854"/><circle cx="927" cy="1860"/><circle cx="892" cy="1880"/><circle cx="898" cy="1890"/><circle cx="911" cy="1874"/><circle cx="917" cy="1880"/></g>
<g class="k"><circle cx="940" cy="1792"/><circle cx="959" cy="1826"/><circle cx="946" cy="1842"/><circle cx="940" cy="1853"/><circle cx="935" cy="1859"/><circle cx="943" cy="1865"/><circle cx="933" cy="1870"/><circle cx="957" cy="1887"/><circle cx="968" cy="1892"/><circle cx="940" cy="1792"/></g>
<g class="g"><circle cx="976" cy="1886"/><circle cx="991" cy="1892"/><circle cx="996" cy="1869"/><circle cx="1005" cy="1848"/><circle cx="1016" cy="1848"/><circle cx="998" cy="1869"/><circle cx="1011" cy="1868"/><circle cx="1016" cy="1868"/><circle cx="1011" cy="1880"/><circle cx="1034" cy="1878"/><circle cx="1034" cy="1883"/><circle cx="991" cy="1892"/><circle cx="1011" cy="1895"/></g>
<g class="k"><circle cx="1071" cy="1776"/><circle cx="1062" cy="1807"/><circle cx="1062" cy="1833"/><circle cx="1062" cy="1854"/><circle cx="1054" cy="1870"/><circle cx="1062" cy="1868"/><circle cx="1072" cy="1872"/><circle cx="1086" cy="1872"/><circle cx="1092" cy="1876"/><circle cx="1048" cy="1893"/><circle cx="1046" cy="1904"/><circle cx="1085" cy="1886"/><circle cx="1107" cy="1809"/><circle cx="1116" cy="1833"/><circle cx="1120" cy="1848"/><circle cx="1125" cy="1852"/><circle cx="1124" cy="1863"/><circle cx="1121" cy="1875"/><circle cx="1071" cy="1776"/></g>
<g class="g"><circle cx="1140" cy="1843"/><circle cx="1132" cy="1866"/><circle cx="1140" cy="1863"/><circle cx="1144" cy="1869"/><circle cx="1132" cy="1879"/><circle cx="1132" cy="1890"/><circle cx="1141" cy="1888"/></g>
<g class="k"><circle cx="1161" cy="1870"/><circle cx="1160" cy="1880"/><circle cx="1162" cy="1890"/><circle cx="1164" cy="1895"/><circle cx="1183" cy="1820"/><circle cx="1183" cy="1845"/><circle cx="1183" cy="1866"/><circle cx="1183" cy="1895"/><circle cx="1208" cy="1816"/><circle cx="1208" cy="1820"/><circle cx="1234" cy="1845"/><circle cx="1242" cy="1841"/><circle cx="1248" cy="1842"/><circle cx="1257" cy="1850"/><circle cx="1257" cy="1852"/><circle cx="1248" cy="1859"/><circle cx="1240" cy="1868"/><circle cx="1226" cy="1876"/><circle cx="1233" cy="1879"/><circle cx="1262" cy="1879"/><circle cx="1257" cy="1885"/><circle cx="1258" cy="1890"/><circle cx="1243" cy="1890"/><circle cx="1226" cy="1892"/><circle cx="1207" cy="1892"/><circle cx="1278" cy="1801"/><circle cx="1275" cy="1830"/><circle cx="1278" cy="1858"/><circle cx="1278" cy="1871"/><circle cx="1281" cy="1802"/><circle cx="1279" cy="1831"/><circle cx="1282" cy="1835"/><circle cx="1257" cy="1851"/><circle cx="1252" cy="1843"/><circle cx="1252" cy="1859"/><circle cx="1262" cy="1879"/><circle cx="1256" cy="1885"/><circle cx="1282" cy="1798"/><circle cx="1108" cy="1766"/></g>
<g class="g"><circle cx="1311" cy="1797"/><circle cx="1296" cy="1825"/><circle cx="1305" cy="1821"/><circle cx="1311" cy="1830"/><circle cx="1296" cy="1849"/><circle cx="1296" cy="1863"/><circle cx="1303" cy="1867"/><circle cx="1313" cy="1859"/><circle cx="1314" cy="1864"/></g>
<g class="k"><circle cx="1282" cy="1859"/><circle cx="1282" cy="1867"/></g>
<g class="g"><circle cx="1284" cy="1874"/><circle cx="1327" cy="1883"/></g>
<g class="k"><circle cx="1332" cy="1894"/><circle cx="1343" cy="1871"/><circle cx="1355" cy="1828"/><circle cx="1352" cy="1849"/><circle cx="1354" cy="1877"/></g>
<g class="g"><circle cx="1360" cy="1793"/><circle cx="1360" cy="1803"/><circle cx="1392" cy="1877"/><circle cx="1381" cy="1879"/><circle cx="1310" cy="1796"/><circle cx="1360" cy="1793"/><circle cx="1374" cy="1792"/></g>
<g class="k"><circle cx="431" cy="1786"/><circle cx="431" cy="1789"/><circle cx="431" cy="1792"/><circle cx="432" cy="1795"/><circle cx="431" cy="1798"/><circle cx="431" cy="1801"/><circle cx="431" cy="1804"/><circle cx="431" cy="1807"/><circle cx="432" cy="1810"/><circle cx="431" cy="1813"/><circle cx="430" cy="1816"/><circle cx="431" cy="1819"/><circle cx="431" cy="1822"/><circle cx="431" cy="1825"/><circle cx="431" cy="1828"/><circle cx="432" cy="1831"/><circle cx="431" cy="1834"/><circle cx="431" cy="1837"/><circle cx="430" cy="1840"/><circle cx="431" cy="1843"/><circle cx="431" cy="1846"/><circle cx="430" cy="1849"/><circle cx="432" cy="1852"/><circle cx="431" cy="1855"/><circle cx="431" cy="1858"/><circle cx="431" cy="1861"/><circle cx="431" cy="1864"/><circle cx="431" cy="1867"/><circle cx="431" cy="1870"/><circle cx="432" cy="1873"/><circle cx="431" cy="1876"/><circle cx="432" cy="1879"/><circle cx="431" cy="1882"/><circle cx="431" cy="1885"/><circle cx="430" cy="1888"/><circle cx="431" cy="1891"/><circle cx="432" cy="1894"/><circle cx="432" cy="1897"/><circle cx="432" cy="1900"/><circle cx="431" cy="1903"/><circle cx="431" cy="1906"/><circle cx="431" cy="1909"/><circle cx="432" cy="1912"/><circle cx="431" cy="1915"/><circle cx="431" cy="1918"/><circle cx="431" cy="1921"/><circle cx="431" cy="1924"/><circle cx="444" cy="1800"/><circle cx="444" cy="1807"/><circle cx="444" cy="1814"/><circle cx="445" cy="1821"/><circle cx="445" cy="1828"/><circle cx="445" cy="1835"/><circle cx="445" cy="1842"/><circle cx="445" cy="1849"/><circle cx="445" cy="1856"/><circle cx="445" cy="1863"/><circle cx="444" cy="1870"/><circle cx="444" cy="1877"/><circle cx="445" cy="1884"/><circle cx="550" cy="1845"/><circle cx="550" cy="1850"/><circle cx="551" cy="1855"/><circle cx="549" cy="1860"/><circle cx="549" cy="1865"/><circle cx="550" cy="1870"/><circle cx="550" cy="1875"/><circle cx="550" cy="1880"/><circle cx="550" cy="1885"/><circle cx="550" cy="1890"/><circle cx="745" cy="1873"/><circle cx="745" cy="1876"/><circle cx="745" cy="1879"/><circle cx="745" cy="1882"/><circle cx="744" cy="1885"/><circle cx="745" cy="1888"/><circle cx="744" cy="1891"/><circle cx="745" cy="1894"/><circle cx="744" cy="1897"/><circle cx="745" cy="1900"/><circle cx="777" cy="1871"/><circle cx="775" cy="1874"/><circle cx="777" cy="1877"/><circle cx="777" cy="1880"/><circle cx="775" cy="1883"/><circle cx="776" cy="1886"/><circle cx="776" cy="1889"/><circle cx="777" cy="1892"/><circle cx="777" cy="1895"/><circle cx="776" cy="1898"/><circle cx="876" cy="1860"/><circle cx="876" cy="1863"/><circle cx="875" cy="1866"/><circle cx="876" cy="1869"/><circle cx="875" cy="1872"/><circle cx="875" cy="1875"/><circle cx="876" cy="1878"/><circle cx="876" cy="1881"/><circle cx="876" cy="1884"/><circle cx="875" cy="1887"/><circle cx="875" cy="1890"/><circle cx="875" cy="1893"/><circle cx="876" cy="1896"/><circle cx="876" cy="1899"/><circle cx="1108" cy="1767"/><circle cx="1107" cy="1770"/><circle cx="1108" cy="1773"/><circle cx="1107" cy="1776"/><circle cx="1107" cy="1779"/><circle cx="1107" cy="1782"/><circle cx="1107" cy="1785"/><circle cx="1107" cy="1788"/><circle cx="1106" cy="1791"/><circle cx="1106" cy="1794"/><circle cx="1106" cy="1820"/><circle cx="1107" cy="1823"/><circle cx="1106" cy="1826"/><circle cx="1107" cy="1829"/><circle cx="1107" cy="1832"/><circle cx="1107" cy="1835"/><circle cx="1107" cy="1838"/><circle cx="1106" cy="1841"/><circle cx="1107" cy="1844"/><circle cx="1106" cy="1847"/><circle cx="1107" cy="1850"/><circle cx="1106" cy="1853"/><circle cx="1107" cy="1856"/><circle cx="1107" cy="1859"/><circle cx="1107" cy="1862"/><circle cx="1106" cy="1865"/><circle cx="1107" cy="1868"/><circle cx="1107" cy="1871"/><circle cx="1107" cy="1874"/><circle cx="1107" cy="1877"/><circle cx="1108" cy="1880"/><circle cx="1107" cy="1883"/><circle cx="1108" cy="1886"/><circle cx="1107" cy="1889"/><circle cx="1107" cy="1892"/><circle cx="1107" cy="1895"/><circle cx="1106" cy="1898"/><circle cx="1107" cy="1901"/><circle cx="1107" cy="1904"/><circle cx="1108" cy="1907"/><circle cx="1107" cy="1910"/><circle cx="1107" cy="1913"/><circle cx="1107" cy="1916"/><circle cx="1107" cy="1919"/><circle cx="1107" cy="1922"/><circle cx="1107" cy="1925"/><circle cx="1151" cy="1837"/><circle cx="1152" cy="1840"/><circle cx="1151" cy="1843"/><circle cx="1152" cy="1846"/><circle cx="1152" cy="1849"/><circle cx="1152" cy="1852"/><circle cx="1152" cy="1855"/><circle cx="1151" cy="1858"/><circle cx="1151" cy="1861"/><circle cx="1152" cy="1864"/></g>
<g class="g"><circle cx="1375" cy="1792"/><circle cx="1375" cy="1795"/><circle cx="1374" cy="1798"/><circle cx="1374" cy="1801"/><circle cx="1373" cy="1804"/><circle cx="1374" cy="1807"/><circle cx="1373" cy="1810"/><circle cx="1374" cy="1813"/><circle cx="1374" cy="1816"/><circle cx="1373" cy="1819"/><circle cx="1374" cy="1822"/><circle cx="1374" cy="1825"/><circle cx="1373" cy="1828"/><circle cx="1375" cy="1831"/><circle cx="1373" cy="1834"/><circle cx="1374" cy="1837"/><circle cx="1375" cy="1840"/><circle cx="1373" cy="1843"/><circle cx="1374" cy="1846"/><circle cx="1374" cy="1849"/><circle cx="1375" cy="1852"/><circle cx="1374" cy="1855"/><circle cx="1374" cy="1858"/><circle cx="1374" cy="1861"/><circle cx="1374" cy="1864"/><circle cx="1374" cy="1867"/><circle cx="1375" cy="1870"/><circle cx="1375" cy="1873"/><circle cx="1374" cy="1876"/><circle cx="1374" cy="1879"/><circle cx="1373" cy="1882"/><circle cx="1374" cy="1885"/><circle cx="1375" cy="1888"/><circle cx="1399" cy="1834"/><circle cx="1398" cy="1837"/><circle cx="1399" cy="1840"/><circle cx="1399" cy="1843"/><circle cx="1399" cy="1846"/><circle cx="1399" cy="1849"/><circle cx="1398" cy="1852"/><circle cx="1398" cy="1855"/><circle cx="1399" cy="1858"/><circle cx="1398" cy="1861"/></g>
<g class="k"><circle cx="1354" cy="1841"/><circle cx="1355" cy="1844"/><circle cx="1355" cy="1847"/><circle cx="1355" cy="1850"/><circle cx="1355" cy="1853"/><circle cx="1355" cy="1856"/><circle cx="1354" cy="1859"/><circle cx="1355" cy="1862"/><circle cx="228" cy="1843"/><circle cx="227" cy="1846"/><circle cx="228" cy="1849"/><circle cx="227" cy="1852"/><circle cx="228" cy="1855"/><circle cx="228" cy="1858"/><circle cx="228" cy="1861"/><circle cx="227" cy="1864"/></g>
<g class="g"><circle cx="299" cy="1861"/><circle cx="297" cy="1853"/><circle cx="302" cy="1852"/><circle cx="290" cy="1854"/><circle cx="290" cy="1851"/><circle cx="302" cy="1871"/><circle cx="296" cy="1893"/><circle cx="289" cy="1881"/><circle cx="294" cy="1882"/><circle cx="296" cy="1888"/><circle cx="300" cy="1894"/><circle cx="293" cy="1893"/><circle cx="298" cy="1853"/><circle cx="303" cy="1866"/><circle cx="293" cy="1869"/><circle cx="299" cy="1872"/><circle cx="295" cy="1891"/><circle cx="295" cy="1864"/><circle cx="729" cy="1845"/><circle cx="726" cy="1846"/><circle cx="725" cy="1845"/><circle cx="728" cy="1837"/><circle cx="728" cy="1836"/><circle cx="726" cy="1830"/><circle cx="725" cy="1831"/><circle cx="730" cy="1827"/></g>
<g class="k"><circle cx="1113" cy="1887"/><circle cx="1109" cy="1890"/><circle cx="1109" cy="1921"/><circle cx="1107" cy="1918"/><circle cx="1110" cy="1887"/><circle cx="1112" cy="1821"/><circle cx="1112" cy="1829"/><circle cx="1108" cy="1839"/><circle cx="1107" cy="1835"/><circle cx="1112" cy="1896"/><circle cx="1108" cy="1917"/><circle cx="1108" cy="1889"/><circle cx="1105" cy="1850"/><circle cx="1109" cy="1840"/><circle cx="1111" cy="1861"/><circle cx="1112" cy="1836"/><circle cx="1109" cy="1896"/><circle cx="1108" cy="1857"/><circle cx="1107" cy="1843"/><circle cx="1106" cy="1888"/></g>
<line x1="117.8" y1="1765" x2="1477" y2="1765" stroke="#333" stroke-width="2.3" stroke-dasharray="12.7 12"/>
<line x1="527" y1="1605" x2="567.6" y2="1624" stroke="#000" stroke-width="2.4"/>
<line x1="359.5" y1="1646.8" x2="423" y2="1662" stroke="#000" stroke-width="2.4"/>
<line x1="502.9" y1="1646.8" x2="440.7" y2="1659" stroke="#000" stroke-width="2.4"/>
<line x1="358.3" y1="1672" x2="367" y2="1673" stroke="#000" stroke-width="2.4"/>
<line x1="397.6" y1="1681.1" x2="423" y2="1686" stroke="#000" stroke-width="2.4"/>
<line x1="348.9" y1="1698.8" x2="365.9" y2="1699.5" stroke="#000" stroke-width="2.4"/>
<line x1="469.9" y1="1692" x2="440.7" y2="1686.2" stroke="#000" stroke-width="2.4"/>
<line x1="527" y1="1721.7" x2="499" y2="1707.7" stroke="#000" stroke-width="2.4"/>
<line x1="413.3" y1="1720.4" x2="423" y2="1715.4" stroke="#000" stroke-width="2.4"/>
<line x1="456" y1="1714.1" x2="440.7" y2="1701.4" stroke="#000" stroke-width="2.4"/>
<line x1="346.8" y1="1749.6" x2="362" y2="1747.8" stroke="#000" stroke-width="2.4"/>
<line x1="412.8" y1="1770" x2="423" y2="1767.4" stroke="#000" stroke-width="2.4"/>
<line x1="496.5" y1="1771" x2="484" y2="1765.6" stroke="#000" stroke-width="2.4"/>
<line x1="739.7" y1="1608.9" x2="709.8" y2="1625.7" stroke="#000" stroke-width="2.4"/>
<line x1="758.4" y1="1628.1" x2="711" y2="1644.9" stroke="#000" stroke-width="2.4"/>
<line x1="639.1" y1="1671" x2="696" y2="1666" stroke="#000" stroke-width="2.4"/>
<line x1="639" y1="1724" x2="656" y2="1716" stroke="#000" stroke-width="2.4"/>
<line x1="743" y1="1723" x2="735" y2="1711" stroke="#000" stroke-width="2.4"/>
<line x1="712" y1="1765" x2="704" y2="1740" stroke="#000" stroke-width="2.4"/>
<line x1="778.5" y1="1757.5" x2="730" y2="1746" stroke="#000" stroke-width="2.4"/>
<rect x="366.6" y="1553" width="59.4" height="19.0" rx="2.5" fill="#E64B35" stroke="#111" stroke-width="1.3"/>
<text x="396.3" y="1568.4" font-size="16.8" fill="#000" text-anchor="middle" textLength="49.9" lengthAdjust="spacingAndGlyphs" stroke="#000" stroke-width="0.35">CEP72</text>
<rect x="366.6" y="1587.2" width="59.4" height="18.5" rx="2.5" fill="#E64B35" stroke="#111" stroke-width="1.3"/>
<text x="396.3" y="1602.1" font-size="16.8" fill="#000" text-anchor="middle" textLength="49.9" lengthAdjust="spacingAndGlyphs" stroke="#000" stroke-width="0.35">CEP72</text>
<rect x="442" y="1585.5" width="127.6" height="18.2" rx="2.5" fill="#E64B35" stroke="#111" stroke-width="1.3"/>
<text x="505.8" y="1600.1" font-size="16.8" fill="#000" text-anchor="middle" textLength="118.1" lengthAdjust="spacingAndGlyphs" stroke="#000" stroke-width="0.35">ATP6V0E2-AS1</text>
<rect x="436.1" y="1611.3" width="59.2" height="18.6" rx="2.5" fill="#E64B35" stroke="#111" stroke-width="1.3"/>
<text x="465.7" y="1626.3" font-size="16.8" fill="#000" text-anchor="middle" textLength="49.7" lengthAdjust="spacingAndGlyphs" stroke="#000" stroke-width="0.35">CEP72</text>
<rect x="299.9" y="1636.2" width="59.6" height="18.3" rx="2.5" fill="#E64B35" stroke="#111" stroke-width="1.3"/>
<text x="329.7" y="1650.9" font-size="16.8" fill="#000" text-anchor="middle" textLength="50.1" lengthAdjust="spacingAndGlyphs" stroke="#000" stroke-width="0.35">CEP72</text>
<rect x="367.7" y="1632.9" width="59.8" height="17.8" rx="2.5" fill="#E64B35" stroke="#111" stroke-width="1.3"/>
<text x="397.6" y="1647.1" font-size="16.8" fill="#000" text-anchor="middle" textLength="50.3" lengthAdjust="spacingAndGlyphs" stroke="#000" stroke-width="0.35">CEP72</text>
<rect x="502.9" y="1636.7" width="59.6" height="17.8" rx="2.5" fill="#E64B35" stroke="#111" stroke-width="1.3"/>
<text x="532.7" y="1650.9" font-size="16.8" fill="#000" text-anchor="middle" textLength="50.1" lengthAdjust="spacingAndGlyphs" stroke="#000" stroke-width="0.35">CEP72</text>
<rect x="299.2" y="1662.8" width="59.1" height="18.3" rx="2.5" fill="#E64B35" stroke="#111" stroke-width="1.3"/>
<text x="328.8" y="1677.5" font-size="16.8" fill="#000" text-anchor="middle" textLength="49.6" lengthAdjust="spacingAndGlyphs" stroke="#000" stroke-width="0.35">CEP72</text>
<rect x="366.6" y="1662.8" width="55.1" height="18.3" rx="2.5" fill="#E64B35" stroke="#111" stroke-width="1.3"/>
<text x="394.1" y="1677.5" font-size="16.8" fill="#000" text-anchor="middle" textLength="45.6" lengthAdjust="spacingAndGlyphs" stroke="#000" stroke-width="0.35">CEP72</text>
<rect x="440.2" y="1662.8" width="55.1" height="18.3" rx="2.5" fill="#E64B35" stroke="#111" stroke-width="1.3"/>
<text x="467.8" y="1677.5" font-size="16.8" fill="#000" text-anchor="middle" textLength="45.6" lengthAdjust="spacingAndGlyphs" stroke="#000" stroke-width="0.35">CEP72</text>
<rect x="289.3" y="1688.7" width="59.6" height="18.5" rx="2.5" fill="#E64B35" stroke="#111" stroke-width="1.3"/>
<text x="319.1" y="1703.6" font-size="16.8" fill="#000" text-anchor="middle" textLength="50.1" lengthAdjust="spacingAndGlyphs" stroke="#000" stroke-width="0.35">CEP72</text>
<rect x="365.9" y="1688.7" width="54.5" height="18.5" rx="2.5" fill="#E64B35" stroke="#111" stroke-width="1.3"/>
<text x="393.1" y="1703.6" font-size="16.8" fill="#000" text-anchor="middle" textLength="45.0" lengthAdjust="spacingAndGlyphs" stroke="#000" stroke-width="0.35">CEP72</text>
<rect x="476.7" y="1688.7" width="59.2" height="18.5" rx="2.5" fill="#E64B35" stroke="#111" stroke-width="1.3"/>
<text x="506.3" y="1703.6" font-size="16.8" fill="#000" text-anchor="middle" textLength="49.7" lengthAdjust="spacingAndGlyphs" stroke="#000" stroke-width="0.35">CEP72</text>
<rect x="497.8" y="1721.7" width="72.3" height="18.5" rx="2.5" fill="#F39B7F" stroke="#111" stroke-width="1.3"/>
<text x="534.0" y="1736.6" font-size="16.8" fill="#000" text-anchor="middle" textLength="62.8" lengthAdjust="spacingAndGlyphs" stroke="#000" stroke-width="0.35">WRNIP1</text>
<rect x="353.2" y="1714.1" width="60.1" height="19.0" rx="2.5" fill="#4DBBD5" stroke="#111" stroke-width="1.3"/>
<text x="383.2" y="1729.5" font-size="16.8" fill="#000" text-anchor="middle" textLength="50.6" lengthAdjust="spacingAndGlyphs" stroke="#000" stroke-width="0.35">CEP72</text>
<rect x="430.6" y="1714.1" width="58.8" height="19.0" rx="2.5" fill="#E64B35" stroke="#111" stroke-width="1.3"/>
<text x="460.0" y="1729.5" font-size="16.8" fill="#000" text-anchor="middle" textLength="49.3" lengthAdjust="spacingAndGlyphs" stroke="#000" stroke-width="0.35">CEP72</text>
<rect x="234" y="1728" width="79.4" height="19.1" rx="2.5" fill="#00A087" stroke="#111" stroke-width="1.3"/>
<text x="273.7" y="1743.5" font-size="16.8" fill="#000" text-anchor="middle" textLength="69.9" lengthAdjust="spacingAndGlyphs" stroke="#000" stroke-width="0.35">DYNC1I2</text>
<rect x="321" y="1739.5" width="25.8" height="19.0" rx="2.5" fill="#E64B35" stroke="#111" stroke-width="1.3"/>
<text x="333.9" y="1754.9" font-size="16.8" fill="#000" text-anchor="middle" textLength="16.3" lengthAdjust="spacingAndGlyphs" stroke="#000" stroke-width="0.35">TF</text>
<rect x="254.2" y="1767.4" width="64.7" height="18.5" rx="2.5" fill="#E64B35" stroke="#111" stroke-width="1.3"/>
<text x="286.5" y="1782.3" font-size="16.8" fill="#000" text-anchor="middle" textLength="55.2" lengthAdjust="spacingAndGlyphs" stroke="#000" stroke-width="0.35">PSMD1</text>
<rect x="420.4" y="1740.7" width="59.6" height="17.8" rx="2.5" fill="#E64B35" stroke="#111" stroke-width="1.3"/>
<text x="450.2" y="1754.9" font-size="16.8" fill="#000" text-anchor="middle" textLength="50.1" lengthAdjust="spacingAndGlyphs" stroke="#000" stroke-width="0.35">CEP72</text>
<rect x="486.4" y="1747.1" width="58.3" height="18.5" rx="2.5" fill="#E64B35" stroke="#111" stroke-width="1.3"/>
<text x="515.5" y="1762.0" font-size="16.8" fill="#000" text-anchor="middle" textLength="48.8" lengthAdjust="spacingAndGlyphs" stroke="#000" stroke-width="0.35">HLA-H</text>
<rect x="353.2" y="1765.6" width="59.6" height="18.2" rx="2.5" fill="#E64B35" stroke="#111" stroke-width="1.3"/>
<text x="383.0" y="1780.2" font-size="16.8" fill="#000" text-anchor="middle" textLength="50.1" lengthAdjust="spacingAndGlyphs" stroke="#000" stroke-width="0.35">CEP72</text>
<rect x="420.9" y="1772.4" width="54.1" height="16.5" rx="2.5" fill="#E64B35" stroke="#111" stroke-width="1.3"/>
<text x="447.9" y="1785.3" font-size="16.8" fill="#000" text-anchor="middle" textLength="44.6" lengthAdjust="spacingAndGlyphs" stroke="#000" stroke-width="0.35">HLA-A</text>
<rect x="485.1" y="1773.7" width="58.4" height="18.3" rx="2.5" fill="#F39B7F" stroke="#111" stroke-width="1.3"/>
<text x="514.3" y="1788.4" font-size="16.8" fill="#000" text-anchor="middle" textLength="48.9" lengthAdjust="spacingAndGlyphs" stroke="#000" stroke-width="0.35">HLA-H</text>
<rect x="681" y="1449.1" width="113.3" height="17.7" rx="2.5" fill="#E64B35" stroke="#111" stroke-width="1.3"/>
<text x="737.6" y="1463.2" font-size="16.8" fill="#000" text-anchor="middle" textLength="103.8" lengthAdjust="spacingAndGlyphs" stroke="#000" stroke-width="0.35">LINC00202-1</text>
<rect x="681" y="1507.1" width="113.3" height="18.0" rx="2.5" fill="#E64B35" stroke="#111" stroke-width="1.3"/>
<text x="737.6" y="1521.5" font-size="16.8" fill="#000" text-anchor="middle" textLength="103.8" lengthAdjust="spacingAndGlyphs" stroke="#000" stroke-width="0.35">LINC00202-1</text>
<rect x="610.3" y="1543.5" width="113.4" height="18.2" rx="2.5" fill="#E64B35" stroke="#111" stroke-width="1.3"/>
<text x="667.0" y="1558.1" font-size="16.8" fill="#000" text-anchor="middle" textLength="103.9" lengthAdjust="spacingAndGlyphs" stroke="#000" stroke-width="0.35">LINC00202-1</text>
<rect x="696.1" y="1591" width="113.6" height="17.9" rx="2.5" fill="#E64B35" stroke="#111" stroke-width="1.3"/>
<text x="752.9" y="1605.3" font-size="16.8" fill="#000" text-anchor="middle" textLength="104.1" lengthAdjust="spacingAndGlyphs" stroke="#000" stroke-width="0.35">LINC00202-1</text>
<rect x="576.3" y="1611.3" width="111.9" height="18.0" rx="2.5" fill="#E64B35" stroke="#111" stroke-width="1.3"/>
<text x="632.2" y="1625.7" font-size="16.8" fill="#000" text-anchor="middle" textLength="102.4" lengthAdjust="spacingAndGlyphs" stroke="#000" stroke-width="0.35">LINC00202-1</text>
<rect x="758.4" y="1618.5" width="112.6" height="18.0" rx="2.5" fill="#4DBBD5" stroke="#111" stroke-width="1.3"/>
<text x="814.7" y="1632.9" font-size="16.8" fill="#000" text-anchor="middle" textLength="103.1" lengthAdjust="spacingAndGlyphs" stroke="#000" stroke-width="0.35">LINC00202-1</text>
<rect x="588.8" y="1637.7" width="112.6" height="17.9" rx="2.5" fill="#4DBBD5" stroke="#111" stroke-width="1.3"/>
<text x="645.1" y="1652.0" font-size="16.8" fill="#000" text-anchor="middle" textLength="103.1" lengthAdjust="spacingAndGlyphs" stroke="#000" stroke-width="0.35">LINC00202-1</text>
<rect x="724.9" y="1644.1" width="53.1" height="17.5" rx="2.5" fill="#4DBBD5" stroke="#111" stroke-width="1.3"/>
<text x="751.5" y="1658.0" font-size="16.8" fill="#000" text-anchor="middle" textLength="43.6" lengthAdjust="spacingAndGlyphs" stroke="#000" stroke-width="0.35">UROS</text>
<rect x="525.7" y="1662.8" width="113.4" height="18.0" rx="2.5" fill="#4DBBD5" stroke="#111" stroke-width="1.3"/>
<text x="582.4" y="1677.2" font-size="16.8" fill="#000" text-anchor="middle" textLength="103.9" lengthAdjust="spacingAndGlyphs" stroke="#000" stroke-width="0.35">LINC00202-1</text>
<rect x="649.9" y="1671.2" width="67.1" height="16.8" rx="2.5" fill="#E64B35" stroke="#111" stroke-width="1.3"/>
<text x="683.5" y="1684.4" font-size="16.8" fill="#000" text-anchor="middle" textLength="57.6" lengthAdjust="spacingAndGlyphs" stroke="#000" stroke-width="0.35">USMG5</text>
<rect x="733.7" y="1670" width="52.7" height="18.0" rx="2.5" fill="#4DBBD5" stroke="#111" stroke-width="1.3"/>
<text x="760.0" y="1684.4" font-size="16.8" fill="#000" text-anchor="middle" textLength="43.2" lengthAdjust="spacingAndGlyphs" stroke="#000" stroke-width="0.35">UROS</text>
<rect x="796" y="1667.6" width="85.1" height="18.0" rx="2.5" fill="#E64B35" stroke="#111" stroke-width="1.3"/>
<text x="838.5" y="1682.0" font-size="16.8" fill="#000" text-anchor="middle" textLength="75.6" lengthAdjust="spacingAndGlyphs" stroke="#000" stroke-width="0.35">TPT1-AS1</text>
<rect x="786.4" y="1698.3" width="47.9" height="18.4" rx="2.5" fill="#91D1C2" stroke="#111" stroke-width="1.3"/>
<text x="810.3" y="1713.1" font-size="16.8" fill="#000" text-anchor="middle" textLength="38.4" lengthAdjust="spacingAndGlyphs" stroke="#000" stroke-width="0.35">SYT1</text>
<rect x="866.8" y="1702.7" width="85.2" height="18.0" rx="2.5" fill="#E64B35" stroke="#111" stroke-width="1.3"/>
<text x="909.4" y="1717.1" font-size="16.8" fill="#000" text-anchor="middle" textLength="75.7" lengthAdjust="spacingAndGlyphs" stroke="#000" stroke-width="0.35">TPT1-AS1</text>
<rect x="573.9" y="1695.9" width="73.6" height="17.7" rx="2.5" fill="#E64B35" stroke="#111" stroke-width="1.3"/>
<text x="610.7" y="1710.0" font-size="16.8" fill="#000" text-anchor="middle" textLength="64.1" lengthAdjust="spacingAndGlyphs" stroke="#000" stroke-width="0.35">PHYHD1</text>
<rect x="665.4" y="1698.8" width="61.1" height="16.8" rx="2.5" fill="#E64B35" stroke="#111" stroke-width="1.3"/>
<text x="696.0" y="1712.0" font-size="16.8" fill="#000" text-anchor="middle" textLength="51.6" lengthAdjust="spacingAndGlyphs" stroke="#000" stroke-width="0.35">USMG5</text>
<rect x="587.6" y="1724" width="74.2" height="17.9" rx="2.5" fill="#E64B35" stroke="#111" stroke-width="1.3"/>
<text x="624.7" y="1738.3" font-size="16.8" fill="#000" text-anchor="middle" textLength="64.7" lengthAdjust="spacingAndGlyphs" stroke="#000" stroke-width="0.35">PHYHD1</text>
<rect x="709.8" y="1724" width="69.4" height="17.9" rx="2.5" fill="#E64B35" stroke="#111" stroke-width="1.3"/>
<text x="744.5" y="1738.3" font-size="16.8" fill="#000" text-anchor="middle" textLength="59.9" lengthAdjust="spacingAndGlyphs" stroke="#000" stroke-width="0.35">LRRC27</text>
<rect x="573.9" y="1750.3" width="73.6" height="18.0" rx="2.5" fill="#E64B35" stroke="#111" stroke-width="1.3"/>
<text x="610.7" y="1764.7" font-size="16.8" fill="#000" text-anchor="middle" textLength="64.1" lengthAdjust="spacingAndGlyphs" stroke="#000" stroke-width="0.35">PHYHD1</text>
<rect x="655.8" y="1767.1" width="112.7" height="17.9" rx="2.5" fill="#4DBBD5" stroke="#111" stroke-width="1.3"/>
<text x="712.1" y="1781.4" font-size="16.8" fill="#000" text-anchor="middle" textLength="103.2" lengthAdjust="spacingAndGlyphs" stroke="#000" stroke-width="0.35">LINC00202-1</text>
<rect x="778.5" y="1749.1" width="52.3" height="18.7" rx="2.5" fill="#4DBBD5" stroke="#111" stroke-width="1.3"/>
<text x="804.6" y="1764.2" font-size="16.8" fill="#000" text-anchor="middle" textLength="42.8" lengthAdjust="spacingAndGlyphs" stroke="#000" stroke-width="0.35">UROS</text>
<rect x="842.3" y="1737.1" width="47.2" height="17.3" rx="2.5" fill="#91D1C2" stroke="#111" stroke-width="1.3"/>
<text x="865.9" y="1750.8" font-size="16.8" fill="#000" text-anchor="middle" textLength="37.7" lengthAdjust="spacingAndGlyphs" stroke="#000" stroke-width="0.35">SYT1</text>
<rect x="935.7" y="1609.7" width="80.3" height="19.0" rx="2.5" fill="#F39B7F" stroke="#111" stroke-width="1.3"/>
<text x="975.9" y="1625.1" font-size="16.8" fill="#000" text-anchor="middle" textLength="70.8" lengthAdjust="spacingAndGlyphs" stroke="#000" stroke-width="0.35">ZFYVE19</text>
<rect x="916.7" y="1664.7" width="43.7" height="18.6" rx="2.5" fill="#E64B35" stroke="#111" stroke-width="1.3"/>
<text x="938.5" y="1679.7" font-size="16.8" fill="#000" text-anchor="middle" textLength="34.2" lengthAdjust="spacingAndGlyphs" stroke="#000" stroke-width="0.35">MAX</text>
<rect x="916.7" y="1752.8" width="43.7" height="18.6" rx="2.5" fill="#E64B35" stroke="#111" stroke-width="1.3"/>
<text x="938.5" y="1767.8" font-size="16.8" fill="#000" text-anchor="middle" textLength="34.2" lengthAdjust="spacingAndGlyphs" stroke="#000" stroke-width="0.35">MAX</text>
<rect x="1104" y="1581.2" width="79.7" height="18.1" rx="2.5" fill="#E64B35" stroke="#111" stroke-width="1.3"/>
<text x="1143.8" y="1595.7" font-size="16.8" fill="#000" text-anchor="middle" textLength="70.2" lengthAdjust="spacingAndGlyphs" stroke="#000" stroke-width="0.35">SEC14L1</text>
<rect x="1102.7" y="1665.7" width="79.7" height="18.0" rx="2.5" fill="#E64B35" stroke="#111" stroke-width="1.3"/>
<text x="1142.6" y="1680.1" font-size="16.8" fill="#000" text-anchor="middle" textLength="70.2" lengthAdjust="spacingAndGlyphs" stroke="#000" stroke-width="0.35">SEC14L1</text>
<rect x="1101.3" y="1710.8" width="59.8" height="18.6" rx="2.5" fill="#E64B35" stroke="#111" stroke-width="1.3"/>
<text x="1131.2" y="1725.8" font-size="16.8" fill="#000" text-anchor="middle" textLength="50.3" lengthAdjust="spacingAndGlyphs" stroke="#000" stroke-width="0.35">KCTD2</text>
<rect x="1284.6" y="1416.5" width="81.1" height="18.0" rx="2.5" fill="#E64B35" stroke="#111" stroke-width="1.3"/>
<text x="1325.2" y="1430.9" font-size="16.8" fill="#000" text-anchor="middle" textLength="71.6" lengthAdjust="spacingAndGlyphs" stroke="#000" stroke-width="0.35">GUSBP11</text>
<rect x="1352.9" y="1442.5" width="84.0" height="18.6" rx="2.5" fill="#E64B35" stroke="#111" stroke-width="1.3"/>
<text x="1394.9" y="1457.5" font-size="16.8" fill="#000" text-anchor="middle" textLength="74.5" lengthAdjust="spacingAndGlyphs" stroke="#000" stroke-width="0.35">GUSBP11</text>
<rect x="1309.9" y="1597.1" width="59.8" height="18.1" rx="2.5" fill="#E64B35" stroke="#111" stroke-width="1.3"/>
<text x="1339.8" y="1611.6" font-size="16.8" fill="#000" text-anchor="middle" textLength="50.3" lengthAdjust="spacingAndGlyphs" stroke="#000" stroke-width="0.35">GSTT2</text>
<rect x="1351.1" y="1638.6" width="116.1" height="18.6" rx="2.5" fill="#E64B35" stroke="#111" stroke-width="1.3"/>
<text x="1409.2" y="1653.6" font-size="16.8" fill="#000" text-anchor="middle" textLength="106.6" lengthAdjust="spacingAndGlyphs" stroke="#000" stroke-width="0.35">KB-1572G7.3</text>
<rect x="1309.9" y="1665.7" width="58.4" height="18.0" rx="2.5" fill="#E64B35" stroke="#111" stroke-width="1.3"/>
<text x="1339.1" y="1680.1" font-size="16.8" fill="#000" text-anchor="middle" textLength="48.9" lengthAdjust="spacingAndGlyphs" stroke="#000" stroke-width="0.35">GSTT2</text>
<rect x="1377.6" y="1682.1" width="83.7" height="18.1" rx="2.5" fill="#E64B35" stroke="#111" stroke-width="1.3"/>
<text x="1419.4" y="1696.6" font-size="16.8" fill="#000" text-anchor="middle" textLength="74.2" lengthAdjust="spacingAndGlyphs" stroke="#000" stroke-width="0.35">GUSBP11</text>
<rect x="1285.4" y="1706" width="80.3" height="18.1" rx="2.5" fill="#E64B35" stroke="#111" stroke-width="1.3"/>
<text x="1325.6" y="1720.5" font-size="16.8" fill="#000" text-anchor="middle" textLength="70.8" lengthAdjust="spacingAndGlyphs" stroke="#000" stroke-width="0.35">GUSBP11</text>
<rect x="1377.6" y="1723.6" width="83.7" height="18.6" rx="2.5" fill="#E64B35" stroke="#111" stroke-width="1.3"/>
<text x="1419.4" y="1738.6" font-size="16.8" fill="#000" text-anchor="middle" textLength="74.2" lengthAdjust="spacingAndGlyphs" stroke="#000" stroke-width="0.35">GUSBP11</text>
<rect x="1201" y="1732.6" width="89.8" height="18.6" rx="2.5" fill="#E64B35" stroke="#111" stroke-width="1.3"/>
<text x="1245.9" y="1747.6" font-size="16.8" fill="#000" text-anchor="middle" textLength="80.3" lengthAdjust="spacingAndGlyphs" stroke="#000" stroke-width="0.35">MZF1-AS1</text>
<rect x="1309.9" y="1742.7" width="57.1" height="18.6" rx="2.5" fill="#E64B35" stroke="#111" stroke-width="1.3"/>
<text x="1338.5" y="1757.7" font-size="16.8" fill="#000" text-anchor="middle" textLength="47.6" lengthAdjust="spacingAndGlyphs" stroke="#000" stroke-width="0.35">GSTT2</text>
<rect x="1368.3" y="1769.3" width="83.7" height="18.6" rx="2.5" fill="#E64B35" stroke="#111" stroke-width="1.3"/>
<text x="1410.2" y="1784.3" font-size="16.8" fill="#000" text-anchor="middle" textLength="74.2" lengthAdjust="spacingAndGlyphs" stroke="#000" stroke-width="0.35">GUSBP11</text>
<circle cx="1375" cy="1416.5" r="9.6" fill="#E64B35"/>
<circle cx="1375" cy="1416.5" r="5.5" fill="#8a8a8a"/>
<circle cx="430.6" cy="1549.2" r="9.6" fill="#E64B35"/>
<circle cx="430.6" cy="1549.2" r="5.5" fill="#2a2a2a"/>
<circle cx="568.8" cy="1624" r="9.6" fill="#E64B35"/>
<circle cx="568.8" cy="1624" r="5.5" fill="#2a2a2a"/>
<circle cx="430.6" cy="1612.6" r="9.6" fill="#E64B35"/>
<circle cx="430.6" cy="1612.6" r="5.5" fill="#2a2a2a"/>
<circle cx="430.6" cy="1652" r="9.6" fill="#E64B35"/>
<circle cx="430.6" cy="1652" r="5.5" fill="#2a2a2a"/>
<circle cx="430.6" cy="1660" r="9.6" fill="#E64B35"/>
<circle cx="430.6" cy="1660" r="5.5" fill="#2a2a2a"/>
<circle cx="430.6" cy="1668" r="9.6" fill="#E64B35"/>
<circle cx="430.6" cy="1668" r="5.5" fill="#2a2a2a"/>
<circle cx="430.6" cy="1676" r="9.6" fill="#E64B35"/>
<circle cx="430.6" cy="1676" r="5.5" fill="#2a2a2a"/>
<circle cx="430.6" cy="1684" r="9.6" fill="#E64B35"/>
<circle cx="430.6" cy="1684" r="5.5" fill="#2a2a2a"/>
<circle cx="430.6" cy="1692" r="9.6" fill="#E64B35"/>
<circle cx="430.6" cy="1692" r="5.5" fill="#2a2a2a"/>
<circle cx="430.6" cy="1699" r="9.6" fill="#E64B35"/>
<circle cx="430.6" cy="1699" r="5.5" fill="#2a2a2a"/>
<circle cx="430.6" cy="1707.7" r="9.6" fill="#4DBBD5"/>
<circle cx="430.6" cy="1707.7" r="5.5" fill="#2a2a2a"/>
<circle cx="469.9" cy="1692" r="9.6" fill="#F39B7F"/>
<circle cx="469.9" cy="1692" r="5.5" fill="#2a2a2a"/>
<circle cx="310.1" cy="1750.9" r="9.6" fill="#00A087"/>
<circle cx="310.1" cy="1750.9" r="5.5" fill="#8a8a8a"/>
<circle cx="369.7" cy="1747.1" r="9.6" fill="#E64B35"/>
<circle cx="369.7" cy="1747.1" r="5.5" fill="#2a2a2a"/>
<circle cx="321.5" cy="1763" r="9.6" fill="#E64B35"/>
<circle cx="321.5" cy="1763" r="5.5" fill="#8a8a8a"/>
<circle cx="478.8" cy="1756" r="9.6" fill="#E64B35"/>
<circle cx="478.8" cy="1756" r="5.5" fill="#2a2a2a"/>
<circle cx="478.8" cy="1762.3" r="9.6" fill="#F39B7F"/>
<circle cx="478.8" cy="1762.3" r="5.5" fill="#2a2a2a"/>
<circle cx="430.6" cy="1764" r="9.6" fill="#E64B35"/>
<circle cx="430.6" cy="1764" r="5.5" fill="#2a2a2a"/>
<circle cx="701.8" cy="1471.1" r="9.6" fill="#E64B35"/>
<circle cx="701.8" cy="1471.1" r="5.5" fill="#8a8a8a"/>
<circle cx="701.8" cy="1527.5" r="9.6" fill="#E64B35"/>
<circle cx="701.8" cy="1527.5" r="5.5" fill="#8a8a8a"/>
<circle cx="701.8" cy="1534.6" r="9.6" fill="#E64B35"/>
<circle cx="701.8" cy="1534.6" r="5.5" fill="#8a8a8a"/>
<circle cx="701.8" cy="1540.6" r="9.6" fill="#E64B35"/>
<circle cx="701.8" cy="1540.6" r="5.5" fill="#8a8a8a"/>
<circle cx="568.4" cy="1624" r="9.6" fill="#E64B35"/>
<circle cx="568.4" cy="1624" r="5.5" fill="#2a2a2a"/>
<circle cx="701.8" cy="1629.3" r="9.6" fill="#E64B35"/>
<circle cx="701.8" cy="1629.3" r="5.5" fill="#8a8a8a"/>
<circle cx="701.8" cy="1645" r="9.6" fill="#4DBBD5"/>
<circle cx="701.8" cy="1645" r="5.5" fill="#8a8a8a"/>
<circle cx="701.8" cy="1652" r="9.6" fill="#4DBBD5"/>
<circle cx="701.8" cy="1652" r="5.5" fill="#8a8a8a"/>
<circle cx="701.8" cy="1658" r="9.6" fill="#4DBBD5"/>
<circle cx="701.8" cy="1658" r="5.5" fill="#8a8a8a"/>
<circle cx="701.8" cy="1665" r="9.6" fill="#4DBBD5"/>
<circle cx="701.8" cy="1665" r="5.5" fill="#8a8a8a"/>
<circle cx="727.7" cy="1665" r="9.6" fill="#4DBBD5"/>
<circle cx="727.7" cy="1665" r="5.5" fill="#8a8a8a"/>
<circle cx="727.7" cy="1682" r="9.6" fill="#4DBBD5"/>
<circle cx="727.7" cy="1682" r="5.5" fill="#8a8a8a"/>
<circle cx="727.7" cy="1690" r="9.6" fill="#E64B35"/>
<circle cx="727.7" cy="1690" r="5.5" fill="#8a8a8a"/>
<circle cx="873.9" cy="1690" r="9.6" fill="#E64B35"/>
<circle cx="873.9" cy="1690" r="5.5" fill="#2a2a2a"/>
<circle cx="873.9" cy="1696" r="9.6" fill="#E64B35"/>
<circle cx="873.9" cy="1696" r="5.5" fill="#2a2a2a"/>
<circle cx="836.7" cy="1696.4" r="9.6" fill="#91D1C2"/>
<circle cx="836.7" cy="1696.4" r="5.5" fill="#8a8a8a"/>
<circle cx="659.4" cy="1695.9" r="9.6" fill="#E64B35"/>
<circle cx="659.4" cy="1695.9" r="5.5" fill="#2a2a2a"/>
<circle cx="659.4" cy="1713.2" r="9.6" fill="#E64B35"/>
<circle cx="659.4" cy="1713.2" r="5.5" fill="#2a2a2a"/>
<circle cx="732.5" cy="1705.5" r="9.6" fill="#E64B35"/>
<circle cx="732.5" cy="1705.5" r="5.5" fill="#8a8a8a"/>
<circle cx="659.4" cy="1757.5" r="9.6" fill="#E64B35"/>
<circle cx="659.4" cy="1757.5" r="5.5" fill="#2a2a2a"/>
<circle cx="836.7" cy="1757.5" r="9.6" fill="#91D1C2"/>
<circle cx="836.7" cy="1757.5" r="5.5" fill="#8a8a8a"/>
<circle cx="701.8" cy="1737.1" r="9.6" fill="#4DBBD5"/>
<circle cx="701.8" cy="1737.1" r="5.5" fill="#8a8a8a"/>
<circle cx="727.7" cy="1744.8" r="9.6" fill="#4DBBD5"/>
<circle cx="727.7" cy="1744.8" r="5.5" fill="#8a8a8a"/>
<circle cx="939.9" cy="1632.9" r="9.6" fill="#F39B7F"/>
<circle cx="939.9" cy="1632.9" r="5.5" fill="#2a2a2a"/>
<circle cx="911.2" cy="1683.7" r="9.6" fill="#E64B35"/>
<circle cx="911.2" cy="1683.7" r="5.5" fill="#8a8a8a"/>
<circle cx="911.2" cy="1751.3" r="9.6" fill="#E64B35"/>
<circle cx="911.2" cy="1751.3" r="5.5" fill="#8a8a8a"/>
<circle cx="1108" cy="1603.2" r="9.6" fill="#E64B35"/>
<circle cx="1108" cy="1603.2" r="5.5" fill="#2a2a2a"/>
<circle cx="1106.6" cy="1688.3" r="9.6" fill="#E64B35"/>
<circle cx="1106.6" cy="1688.3" r="5.5" fill="#2a2a2a"/>
<circle cx="1094.7" cy="1732.9" r="9.6" fill="#E64B35"/>
<circle cx="1094.7" cy="1732.9" r="5.5" fill="#2a2a2a"/>
<circle cx="1375" cy="1436.7" r="9.6" fill="#E64B35"/>
<circle cx="1375" cy="1436.7" r="5.5" fill="#8a8a8a"/>
<circle cx="1375" cy="1619.2" r="9.6" fill="#E64B35"/>
<circle cx="1375" cy="1619.2" r="5.5" fill="#8a8a8a"/>
<circle cx="1373.6" cy="1661.7" r="9.6" fill="#E64B35"/>
<circle cx="1373.6" cy="1661.7" r="5.5" fill="#8a8a8a"/>
<circle cx="1375" cy="1676.8" r="9.6" fill="#E64B35"/>
<circle cx="1375" cy="1676.8" r="5.5" fill="#8a8a8a"/>
<circle cx="1375" cy="1705" r="9.6" fill="#E64B35"/>
<circle cx="1375" cy="1705" r="5.5" fill="#8a8a8a"/>
<circle cx="1375" cy="1720.1" r="9.6" fill="#E64B35"/>
<circle cx="1375" cy="1720.1" r="5.5" fill="#8a8a8a"/>
<circle cx="1282" cy="1728.1" r="9.6" fill="#E64B35"/>
<circle cx="1282" cy="1728.1" r="5.5" fill="#2a2a2a"/>
<circle cx="1375" cy="1750.2" r="9.6" fill="#E64B35"/>
<circle cx="1375" cy="1750.2" r="5.5" fill="#8a8a8a"/>
<circle cx="1373.6" cy="1765.3" r="9.6" fill="#E64B35"/>
<circle cx="1373.6" cy="1765.3" r="5.5" fill="#8a8a8a"/>
<rect x="1355" y="1398" width="40" height="15" fill="#fff"/>
<text x="2.5" y="2067.6" font-size="40" fill="#000" font-weight="bold">d</text>
<text x="102.2" y="2067.6" font-size="38" fill="#000" textLength="355.0" lengthAdjust="spacingAndGlyphs">SV-pQTL (Proteins)</text>
<line x1="93.4" y1="2608.9" x2="101.1" y2="2608.9" stroke="#333" stroke-width="2.2"/>
<text x="86.0" y="2617.5" font-size="24.5" fill="#4D4D4D" text-anchor="end" textLength="15.2" lengthAdjust="spacingAndGlyphs">0</text>
<line x1="93.4" y1="2499.4" x2="101.1" y2="2499.4" stroke="#333" stroke-width="2.2"/>
<text x="86.0" y="2508.0" font-size="24.5" fill="#4D4D4D" text-anchor="end" textLength="30.4" lengthAdjust="spacingAndGlyphs">10</text>
<line x1="93.4" y1="2389.9" x2="101.1" y2="2389.9" stroke="#333" stroke-width="2.2"/>
<text x="86.0" y="2398.5" font-size="24.5" fill="#4D4D4D" text-anchor="end" textLength="30.4" lengthAdjust="spacingAndGlyphs">20</text>
<line x1="93.4" y1="2280.4" x2="101.1" y2="2280.4" stroke="#333" stroke-width="2.2"/>
<text x="86.0" y="2289.0" font-size="24.5" fill="#4D4D4D" text-anchor="end" textLength="30.4" lengthAdjust="spacingAndGlyphs">30</text>
<line x1="93.4" y1="2170.9" x2="101.1" y2="2170.9" stroke="#333" stroke-width="2.2"/>
<text x="86.0" y="2179.5" font-size="24.5" fill="#4D4D4D" text-anchor="end" textLength="30.4" lengthAdjust="spacingAndGlyphs">40</text>
<text transform="translate(32.6,2351.6) rotate(-90)" font-size="32" fill="#000" text-anchor="middle" textLength="138" lengthAdjust="spacingAndGlyphs">-log<tspan font-size="22" dy="6">10</tspan><tspan dy="-6">(</tspan><tspan font-style="italic">P</tspan>)</text>
<line x1="225.8" y1="2610.9" x2="225.8" y2="2617.4" stroke="#333" stroke-width="2.2"/>
<text x="225.8" y="2642.4" font-size="24.5" fill="#4D4D4D" text-anchor="middle" textLength="15.2" lengthAdjust="spacingAndGlyphs">1</text>
<line x1="331.1" y1="2610.9" x2="331.1" y2="2617.4" stroke="#333" stroke-width="2.2"/>
<text x="331.1" y="2642.4" font-size="24.5" fill="#4D4D4D" text-anchor="middle" textLength="15.2" lengthAdjust="spacingAndGlyphs">2</text>
<line x1="408.3" y1="2610.9" x2="408.3" y2="2617.4" stroke="#333" stroke-width="2.2"/>
<text x="408.3" y="2642.4" font-size="24.5" fill="#4D4D4D" text-anchor="middle" textLength="15.2" lengthAdjust="spacingAndGlyphs">3</text>
<line x1="466.7" y1="2610.9" x2="466.7" y2="2617.4" stroke="#333" stroke-width="2.2"/>
<text x="466.7" y="2642.4" font-size="24.5" fill="#4D4D4D" text-anchor="middle" textLength="15.2" lengthAdjust="spacingAndGlyphs">4</text>
<line x1="520.4" y1="2610.9" x2="520.4" y2="2617.4" stroke="#333" stroke-width="2.2"/>
<text x="520.4" y="2642.4" font-size="24.5" fill="#4D4D4D" text-anchor="middle" textLength="15.2" lengthAdjust="spacingAndGlyphs">5</text>
<line x1="585.1" y1="2610.9" x2="585.1" y2="2617.4" stroke="#333" stroke-width="2.2"/>
<text x="585.1" y="2642.4" font-size="24.5" fill="#4D4D4D" text-anchor="middle" textLength="15.2" lengthAdjust="spacingAndGlyphs">6</text>
<line x1="648.7" y1="2610.9" x2="648.7" y2="2617.4" stroke="#333" stroke-width="2.2"/>
<text x="648.7" y="2642.4" font-size="24.5" fill="#4D4D4D" text-anchor="middle" textLength="15.2" lengthAdjust="spacingAndGlyphs">7</text>
<line x1="699.4" y1="2610.9" x2="699.4" y2="2617.4" stroke="#333" stroke-width="2.2"/>
<text x="699.4" y="2642.4" font-size="24.5" fill="#4D4D4D" text-anchor="middle" textLength="15.2" lengthAdjust="spacingAndGlyphs">8</text>
<line x1="747.0" y1="2610.9" x2="747.0" y2="2617.4" stroke="#333" stroke-width="2.2"/>
<text x="747.0" y="2642.4" font-size="24.5" fill="#4D4D4D" text-anchor="middle" textLength="15.2" lengthAdjust="spacingAndGlyphs">9</text>
<line x1="798.5" y1="2610.9" x2="798.5" y2="2617.4" stroke="#333" stroke-width="2.2"/>
<text x="798.5" y="2642.4" font-size="24.5" fill="#4D4D4D" text-anchor="middle" textLength="30.4" lengthAdjust="spacingAndGlyphs">10</text>
<line x1="864.3" y1="2610.9" x2="864.3" y2="2617.4" stroke="#333" stroke-width="2.2"/>
<text x="864.3" y="2642.4" font-size="24.5" fill="#4D4D4D" text-anchor="middle" textLength="30.4" lengthAdjust="spacingAndGlyphs">11</text>
<line x1="939.0" y1="2610.9" x2="939.0" y2="2617.4" stroke="#333" stroke-width="2.2"/>
<text x="939.0" y="2642.4" font-size="24.5" fill="#4D4D4D" text-anchor="middle" textLength="30.4" lengthAdjust="spacingAndGlyphs">12</text>
<line x1="984.5" y1="2610.9" x2="984.5" y2="2617.4" stroke="#333" stroke-width="2.2"/>
<text x="984.5" y="2642.4" font-size="24.5" fill="#4D4D4D" text-anchor="middle" textLength="30.4" lengthAdjust="spacingAndGlyphs">13</text>
<line x1="1019.2" y1="2610.9" x2="1019.2" y2="2617.4" stroke="#333" stroke-width="2.2"/>
<text x="1019.2" y="2642.4" font-size="24.5" fill="#4D4D4D" text-anchor="middle" textLength="30.4" lengthAdjust="spacingAndGlyphs">14</text>
<line x1="1062.4" y1="2610.9" x2="1062.4" y2="2617.4" stroke="#333" stroke-width="2.2"/>
<text x="1062.4" y="2642.4" font-size="24.5" fill="#4D4D4D" text-anchor="middle" textLength="30.4" lengthAdjust="spacingAndGlyphs">15</text>
<line x1="1108.3" y1="2610.9" x2="1108.3" y2="2617.4" stroke="#333" stroke-width="2.2"/>
<text x="1108.3" y="2642.4" font-size="24.5" fill="#4D4D4D" text-anchor="middle" textLength="30.4" lengthAdjust="spacingAndGlyphs">16</text>
<line x1="1177.2" y1="2610.9" x2="1177.2" y2="2617.4" stroke="#333" stroke-width="2.2"/>
<text x="1177.2" y="2642.4" font-size="24.5" fill="#4D4D4D" text-anchor="middle" textLength="30.4" lengthAdjust="spacingAndGlyphs">17</text>
<line x1="1227.7" y1="2610.9" x2="1227.7" y2="2617.4" stroke="#333" stroke-width="2.2"/>
<text x="1227.7" y="2642.4" font-size="24.5" fill="#4D4D4D" text-anchor="middle" textLength="30.4" lengthAdjust="spacingAndGlyphs">18</text>
<line x1="1280.4" y1="2610.9" x2="1280.4" y2="2617.4" stroke="#333" stroke-width="2.2"/>
<text x="1280.4" y="2642.4" font-size="24.5" fill="#4D4D4D" text-anchor="middle" textLength="30.4" lengthAdjust="spacingAndGlyphs">19</text>
<line x1="1340.4" y1="2610.9" x2="1340.4" y2="2617.4" stroke="#333" stroke-width="2.2"/>
<text x="1340.4" y="2642.4" font-size="24.5" fill="#4D4D4D" text-anchor="middle" textLength="30.4" lengthAdjust="spacingAndGlyphs">20</text>
<line x1="1359.7" y1="2610.9" x2="1359.7" y2="2617.4" stroke="#333" stroke-width="2.2"/>
<text x="1359.7" y="2642.4" font-size="24.5" fill="#4D4D4D" text-anchor="middle" textLength="30.4" lengthAdjust="spacingAndGlyphs">21</text>
<line x1="1396.2" y1="2610.9" x2="1396.2" y2="2617.4" stroke="#333" stroke-width="2.2"/>
<text x="1396.2" y="2642.4" font-size="24.5" fill="#4D4D4D" text-anchor="middle" textLength="30.4" lengthAdjust="spacingAndGlyphs">22</text>
<text x="684.0" y="2679.0" font-size="31" fill="#000" textLength="209.0" lengthAdjust="spacingAndGlyphs">Chromosome</text>
<g><path d="M158.5,2608.9 L158.5,2575.5 L158.5,2575.5 L160.0,2575.5 L200.0,2578.5 L250.0,2576.5 L283.0,2569.5 L284.9,2569.5 L284.9,2569.5 L284.9,2608.9Z" fill="#000"/><path d="M284.9,2608.9 L284.9,2574.5 L284.9,2574.5 L367.8,2574.5 L367.8,2574.5 L367.8,2608.9Z" fill="#666"/><path d="M367.8,2608.9 L367.8,2574.5 L367.8,2574.5 L370.0,2574.5 L400.0,2571.5 L435.0,2574.5 L437.5,2574.5 L437.5,2574.5 L437.5,2608.9Z" fill="#000"/><path d="M437.5,2608.9 L437.5,2570.5 L437.5,2570.5 L486.0,2570.5 L486.0,2570.5 L486.0,2608.9Z" fill="#666"/><path d="M486.0,2608.9 L486.0,2566.5 L486.0,2566.5 L545.2,2566.5 L545.2,2566.5 L545.2,2608.9Z" fill="#000"/><path d="M545.2,2608.9 L545.2,2566.5 L545.2,2566.5 L613.9,2566.5 L613.9,2566.5 L613.9,2608.9Z" fill="#666"/><path d="M613.9,2608.9 L613.9,2566.5 L613.9,2566.5 L616.0,2566.5 L650.0,2567.5 L672.0,2571.5 L674.2,2571.5 L674.2,2571.5 L674.2,2608.9Z" fill="#000"/><path d="M674.2,2608.9 L674.2,2568.5 L674.2,2568.5 L717.5,2568.5 L717.5,2568.5 L717.5,2608.9Z" fill="#666"/><path d="M717.5,2608.9 L717.5,2574.5 L717.5,2574.5 L767.7,2574.5 L767.7,2574.5 L767.7,2608.9Z" fill="#000"/><path d="M767.7,2608.9 L767.7,2570.5 L767.7,2570.5 L819.5,2570.5 L819.5,2570.5 L819.5,2608.9Z" fill="#666"/><path d="M819.5,2608.9 L819.5,2570.5 L819.5,2570.5 L899.8,2570.5 L899.8,2570.5 L899.8,2608.9Z" fill="#000"/><path d="M899.8,2608.9 L899.8,2574.5 L899.8,2574.5 L968.5,2574.5 L968.5,2574.5 L968.5,2608.9Z" fill="#666"/><path d="M968.5,2608.9 L968.5,2570.5 L968.5,2570.5 L991.6,2570.5 L991.6,2570.5 L991.6,2608.9Z" fill="#000"/><path d="M991.6,2608.9 L991.6,2574.5 L991.6,2574.5 L1037.1,2574.5 L1037.1,2574.5 L1037.1,2608.9Z" fill="#666"/><path d="M1037.1,2608.9 L1037.1,2570.5 L1037.1,2570.5 L1075.1,2570.5 L1075.1,2570.5 L1075.1,2608.9Z" fill="#000"/><path d="M1075.1,2608.9 L1075.1,2572.5 L1075.1,2572.5 L1131.2,2572.5 L1131.2,2572.5 L1131.2,2608.9Z" fill="#666"/><path d="M1131.2,2608.9 L1131.2,2578.5 L1131.2,2578.5 L1212.6,2578.5 L1212.6,2578.5 L1212.6,2608.9Z" fill="#000"/><path d="M1212.6,2608.9 L1212.6,2572.5 L1212.6,2572.5 L1231.6,2572.5 L1231.6,2572.5 L1231.6,2608.9Z" fill="#666"/><path d="M1231.6,2608.9 L1231.6,2576.5 L1231.6,2576.5 L1233.0,2576.5 L1280.0,2579.5 L1316.0,2581.5 L1318.0,2581.5 L1318.0,2581.5 L1318.0,2608.9Z" fill="#000"/><path d="M1318.0,2608.9 L1318.0,2575.5 L1318.0,2575.5 L1357.2,2575.5 L1357.2,2575.5 L1357.2,2608.9Z" fill="#666"/><path d="M1357.2,2608.9 L1357.2,2569.5 L1357.2,2569.5 L1370.8,2569.5 L1370.8,2569.5 L1370.8,2608.9Z" fill="#000"/><path d="M1370.8,2608.9 L1370.8,2575.5 L1370.8,2575.5 L1419.3,2575.5 L1419.3,2575.5 L1419.3,2608.9Z" fill="#666"/></g>
<g class="k"><circle cx="211" cy="2577"/><circle cx="265" cy="2569"/><circle cx="189" cy="2571"/><circle cx="176" cy="2570"/><circle cx="181" cy="2576"/><circle cx="280" cy="2571"/><circle cx="207" cy="2576"/><circle cx="245" cy="2574"/><circle cx="171" cy="2579"/><circle cx="236" cy="2572"/><circle cx="170" cy="2571"/><circle cx="277" cy="2565"/><circle cx="237" cy="2581"/><circle cx="166" cy="2574"/><circle cx="219" cy="2581"/><circle cx="184" cy="2574"/><circle cx="192" cy="2572"/><circle cx="242" cy="2579"/><circle cx="214" cy="2572"/><circle cx="247" cy="2578"/><circle cx="240" cy="2574"/><circle cx="261" cy="2574"/><circle cx="232" cy="2577"/><circle cx="190" cy="2576"/><circle cx="257" cy="2576"/><circle cx="203" cy="2581"/><circle cx="262" cy="2568"/><circle cx="181" cy="2573"/><circle cx="164" cy="2577"/><circle cx="239" cy="2576"/><circle cx="281" cy="2567"/><circle cx="186" cy="2572"/><circle cx="203" cy="2581"/><circle cx="234" cy="2571"/><circle cx="214" cy="2572"/><circle cx="236" cy="2572"/><circle cx="183" cy="2578"/><circle cx="262" cy="2574"/><circle cx="197" cy="2579"/><circle cx="194" cy="2578"/><circle cx="195" cy="2569"/><circle cx="237" cy="2575"/><circle cx="262" cy="2560"/><circle cx="195" cy="2552"/><circle cx="193" cy="2577"/><circle cx="223" cy="2562"/><circle cx="234" cy="2571"/><circle cx="220" cy="2575"/><circle cx="198" cy="2574"/><circle cx="227" cy="2555"/><circle cx="171" cy="2574"/><circle cx="275" cy="2563"/><circle cx="171" cy="2572"/><circle cx="240" cy="2557"/><circle cx="172" cy="2558"/><circle cx="254" cy="2573"/><circle cx="226" cy="2564"/><circle cx="191" cy="2568"/><circle cx="229" cy="2577"/><circle cx="194" cy="2574"/><circle cx="179" cy="2554"/><circle cx="192" cy="2576"/><circle cx="233" cy="2571"/><circle cx="200" cy="2575"/><circle cx="221" cy="2558"/><circle cx="171" cy="2557"/><circle cx="274" cy="2562"/><circle cx="258" cy="2571"/><circle cx="277" cy="2560"/><circle cx="244" cy="2572"/><circle cx="188" cy="2568"/><circle cx="250" cy="2576"/><circle cx="199" cy="2572"/><circle cx="187" cy="2576"/><circle cx="184" cy="2577"/></g>
<g class="g"><circle cx="297" cy="2572"/><circle cx="326" cy="2575"/><circle cx="312" cy="2569"/><circle cx="358" cy="2575"/><circle cx="340" cy="2575"/><circle cx="313" cy="2574"/><circle cx="313" cy="2575"/><circle cx="351" cy="2568"/><circle cx="349" cy="2569"/><circle cx="289" cy="2569"/><circle cx="331" cy="2577"/><circle cx="359" cy="2570"/><circle cx="321" cy="2578"/><circle cx="356" cy="2577"/><circle cx="307" cy="2571"/><circle cx="300" cy="2571"/><circle cx="319" cy="2577"/><circle cx="339" cy="2570"/><circle cx="302" cy="2573"/><circle cx="356" cy="2573"/><circle cx="348" cy="2575"/><circle cx="355" cy="2573"/><circle cx="317" cy="2573"/><circle cx="349" cy="2571"/><circle cx="303" cy="2577"/><circle cx="325" cy="2566"/><circle cx="302" cy="2574"/><circle cx="305" cy="2570"/><circle cx="291" cy="2572"/><circle cx="360" cy="2570"/><circle cx="289" cy="2562"/><circle cx="311" cy="2573"/><circle cx="337" cy="2566"/><circle cx="313" cy="2565"/><circle cx="355" cy="2571"/><circle cx="326" cy="2574"/><circle cx="333" cy="2572"/><circle cx="338" cy="2563"/><circle cx="314" cy="2566"/><circle cx="360" cy="2573"/><circle cx="349" cy="2569"/><circle cx="360" cy="2574"/><circle cx="317" cy="2573"/><circle cx="308" cy="2557"/><circle cx="329" cy="2571"/><circle cx="362" cy="2574"/><circle cx="290" cy="2563"/><circle cx="331" cy="2560"/></g>
<g class="k"><circle cx="402" cy="2576"/><circle cx="392" cy="2568"/><circle cx="427" cy="2573"/><circle cx="373" cy="2568"/><circle cx="372" cy="2576"/><circle cx="411" cy="2567"/><circle cx="421" cy="2575"/><circle cx="411" cy="2572"/><circle cx="398" cy="2573"/><circle cx="396" cy="2576"/><circle cx="408" cy="2573"/><circle cx="429" cy="2578"/><circle cx="405" cy="2566"/><circle cx="404" cy="2575"/><circle cx="384" cy="2569"/><circle cx="388" cy="2569"/><circle cx="422" cy="2573"/><circle cx="377" cy="2573"/><circle cx="415" cy="2566"/><circle cx="384" cy="2567"/><circle cx="415" cy="2571"/><circle cx="372" cy="2572"/><circle cx="383" cy="2566"/><circle cx="398" cy="2567"/><circle cx="392" cy="2572"/><circle cx="392" cy="2564"/><circle cx="405" cy="2565"/><circle cx="381" cy="2573"/><circle cx="419" cy="2563"/><circle cx="413" cy="2546"/><circle cx="390" cy="2562"/><circle cx="389" cy="2565"/><circle cx="428" cy="2569"/><circle cx="410" cy="2537"/><circle cx="402" cy="2569"/><circle cx="431" cy="2565"/><circle cx="392" cy="2570"/><circle cx="373" cy="2574"/><circle cx="433" cy="2568"/><circle cx="420" cy="2571"/></g>
<g class="g"><circle cx="476" cy="2572"/><circle cx="477" cy="2569"/><circle cx="479" cy="2570"/><circle cx="447" cy="2574"/><circle cx="453" cy="2574"/><circle cx="464" cy="2568"/><circle cx="463" cy="2568"/><circle cx="444" cy="2564"/><circle cx="444" cy="2574"/><circle cx="455" cy="2564"/><circle cx="458" cy="2571"/><circle cx="467" cy="2574"/><circle cx="456" cy="2574"/><circle cx="441" cy="2566"/><circle cx="461" cy="2571"/><circle cx="458" cy="2558"/><circle cx="464" cy="2570"/><circle cx="457" cy="2562"/><circle cx="452" cy="2569"/><circle cx="468" cy="2566"/><circle cx="482" cy="2546"/><circle cx="454" cy="2570"/><circle cx="448" cy="2566"/><circle cx="459" cy="2566"/><circle cx="444" cy="2568"/><circle cx="458" cy="2559"/><circle cx="446" cy="2562"/><circle cx="457" cy="2559"/></g>
<g class="k"><circle cx="525" cy="2562"/><circle cx="526" cy="2564"/><circle cx="533" cy="2560"/><circle cx="506" cy="2566"/><circle cx="505" cy="2564"/><circle cx="520" cy="2562"/><circle cx="534" cy="2563"/><circle cx="526" cy="2571"/><circle cx="495" cy="2570"/><circle cx="499" cy="2565"/><circle cx="496" cy="2570"/><circle cx="506" cy="2566"/><circle cx="540" cy="2561"/><circle cx="493" cy="2568"/><circle cx="492" cy="2561"/><circle cx="503" cy="2560"/><circle cx="507" cy="2560"/><circle cx="538" cy="2565"/><circle cx="491" cy="2555"/><circle cx="502" cy="2549"/><circle cx="491" cy="2565"/><circle cx="509" cy="2553"/><circle cx="538" cy="2540"/><circle cx="500" cy="2563"/><circle cx="534" cy="2553"/><circle cx="539" cy="2566"/><circle cx="491" cy="2562"/><circle cx="534" cy="2557"/><circle cx="511" cy="2557"/><circle cx="513" cy="2552"/><circle cx="504" cy="2555"/><circle cx="497" cy="2559"/><circle cx="506" cy="2563"/><circle cx="503" cy="2566"/></g>
<g class="g"><circle cx="554" cy="2567"/><circle cx="590" cy="2567"/><circle cx="575" cy="2566"/><circle cx="598" cy="2571"/><circle cx="573" cy="2568"/><circle cx="599" cy="2569"/><circle cx="590" cy="2562"/><circle cx="599" cy="2566"/><circle cx="595" cy="2568"/><circle cx="561" cy="2561"/><circle cx="597" cy="2567"/><circle cx="550" cy="2560"/><circle cx="575" cy="2567"/><circle cx="556" cy="2568"/><circle cx="570" cy="2567"/><circle cx="565" cy="2562"/><circle cx="558" cy="2567"/><circle cx="587" cy="2561"/><circle cx="556" cy="2569"/><circle cx="565" cy="2570"/><circle cx="609" cy="2569"/><circle cx="557" cy="2566"/><circle cx="600" cy="2562"/><circle cx="551" cy="2566"/><circle cx="566" cy="2564"/><circle cx="551" cy="2556"/><circle cx="552" cy="2564"/><circle cx="592" cy="2555"/><circle cx="598" cy="2564"/><circle cx="559" cy="2559"/><circle cx="598" cy="2556"/><circle cx="594" cy="2562"/><circle cx="593" cy="2547"/><circle cx="587" cy="2565"/><circle cx="600" cy="2566"/><circle cx="549" cy="2564"/><circle cx="572" cy="2538"/><circle cx="594" cy="2562"/><circle cx="584" cy="2562"/><circle cx="604" cy="2559"/></g>
<g class="k"><circle cx="637" cy="2571"/><circle cx="661" cy="2567"/><circle cx="669" cy="2565"/><circle cx="664" cy="2568"/><circle cx="643" cy="2570"/><circle cx="640" cy="2565"/><circle cx="630" cy="2568"/><circle cx="656" cy="2569"/><circle cx="626" cy="2570"/><circle cx="644" cy="2562"/><circle cx="628" cy="2562"/><circle cx="625" cy="2566"/><circle cx="658" cy="2570"/><circle cx="669" cy="2575"/><circle cx="651" cy="2570"/><circle cx="666" cy="2569"/><circle cx="662" cy="2569"/><circle cx="658" cy="2571"/><circle cx="666" cy="2565"/><circle cx="622" cy="2566"/><circle cx="655" cy="2561"/><circle cx="663" cy="2568"/><circle cx="661" cy="2531"/><circle cx="643" cy="2567"/><circle cx="654" cy="2568"/><circle cx="660" cy="2556"/><circle cx="638" cy="2548"/><circle cx="637" cy="2553"/><circle cx="633" cy="2557"/><circle cx="623" cy="2563"/><circle cx="638" cy="2550"/><circle cx="661" cy="2569"/><circle cx="642" cy="2552"/><circle cx="670" cy="2566"/><circle cx="626" cy="2554"/></g>
<g class="g"><circle cx="685" cy="2568"/><circle cx="689" cy="2563"/><circle cx="678" cy="2566"/><circle cx="679" cy="2569"/><circle cx="705" cy="2570"/><circle cx="696" cy="2569"/><circle cx="709" cy="2565"/><circle cx="700" cy="2564"/><circle cx="703" cy="2573"/><circle cx="690" cy="2569"/><circle cx="683" cy="2573"/><circle cx="680" cy="2565"/><circle cx="693" cy="2570"/><circle cx="697" cy="2568"/><circle cx="701" cy="2568"/><circle cx="690" cy="2543"/><circle cx="697" cy="2568"/><circle cx="686" cy="2566"/><circle cx="684" cy="2557"/><circle cx="687" cy="2560"/><circle cx="698" cy="2552"/><circle cx="690" cy="2568"/><circle cx="701" cy="2562"/><circle cx="679" cy="2563"/><circle cx="683" cy="2524"/></g>
<g class="k"><circle cx="745" cy="2577"/><circle cx="748" cy="2575"/><circle cx="758" cy="2568"/><circle cx="736" cy="2575"/><circle cx="735" cy="2578"/><circle cx="734" cy="2576"/><circle cx="744" cy="2574"/><circle cx="758" cy="2579"/><circle cx="763" cy="2572"/><circle cx="744" cy="2569"/><circle cx="755" cy="2575"/><circle cx="742" cy="2574"/><circle cx="737" cy="2570"/><circle cx="741" cy="2576"/><circle cx="724" cy="2571"/><circle cx="733" cy="2563"/><circle cx="742" cy="2558"/><circle cx="738" cy="2573"/><circle cx="733" cy="2574"/><circle cx="742" cy="2570"/><circle cx="738" cy="2566"/><circle cx="747" cy="2571"/><circle cx="751" cy="2573"/><circle cx="750" cy="2570"/><circle cx="754" cy="2560"/><circle cx="742" cy="2574"/><circle cx="749" cy="2574"/><circle cx="724" cy="2573"/><circle cx="755" cy="2571"/></g>
<g class="g"><circle cx="803" cy="2569"/><circle cx="798" cy="2564"/><circle cx="813" cy="2569"/><circle cx="775" cy="2570"/><circle cx="810" cy="2569"/><circle cx="800" cy="2565"/><circle cx="779" cy="2567"/><circle cx="773" cy="2571"/><circle cx="771" cy="2569"/><circle cx="802" cy="2565"/><circle cx="816" cy="2570"/><circle cx="805" cy="2572"/><circle cx="797" cy="2568"/><circle cx="798" cy="2572"/><circle cx="787" cy="2564"/><circle cx="813" cy="2567"/><circle cx="813" cy="2518"/><circle cx="773" cy="2551"/><circle cx="787" cy="2555"/><circle cx="806" cy="2568"/><circle cx="807" cy="2570"/><circle cx="812" cy="2563"/><circle cx="815" cy="2566"/><circle cx="803" cy="2568"/><circle cx="783" cy="2570"/><circle cx="804" cy="2543"/><circle cx="790" cy="2570"/><circle cx="775" cy="2569"/><circle cx="804" cy="2568"/><circle cx="792" cy="2555"/></g>
<g class="k"><circle cx="873" cy="2564"/><circle cx="891" cy="2572"/><circle cx="835" cy="2564"/><circle cx="888" cy="2567"/><circle cx="860" cy="2567"/><circle cx="877" cy="2569"/><circle cx="872" cy="2574"/><circle cx="831" cy="2568"/><circle cx="877" cy="2573"/><circle cx="886" cy="2568"/><circle cx="873" cy="2570"/><circle cx="886" cy="2566"/><circle cx="828" cy="2566"/><circle cx="846" cy="2572"/><circle cx="868" cy="2567"/><circle cx="826" cy="2568"/><circle cx="894" cy="2565"/><circle cx="890" cy="2568"/><circle cx="868" cy="2568"/><circle cx="893" cy="2573"/><circle cx="872" cy="2569"/><circle cx="866" cy="2566"/><circle cx="869" cy="2574"/><circle cx="828" cy="2569"/><circle cx="859" cy="2570"/><circle cx="896" cy="2564"/><circle cx="857" cy="2570"/><circle cx="845" cy="2554"/><circle cx="869" cy="2559"/><circle cx="891" cy="2552"/><circle cx="888" cy="2540"/><circle cx="891" cy="2561"/><circle cx="861" cy="2570"/><circle cx="892" cy="2565"/><circle cx="845" cy="2567"/><circle cx="878" cy="2559"/><circle cx="844" cy="2569"/><circle cx="853" cy="2569"/><circle cx="867" cy="2555"/><circle cx="853" cy="2569"/><circle cx="892" cy="2569"/><circle cx="837" cy="2565"/><circle cx="873" cy="2567"/><circle cx="832" cy="2568"/><circle cx="887" cy="2541"/><circle cx="841" cy="2561"/><circle cx="881" cy="2556"/></g>
<g class="g"><circle cx="904" cy="2568"/><circle cx="908" cy="2574"/><circle cx="916" cy="2578"/><circle cx="918" cy="2573"/><circle cx="912" cy="2578"/><circle cx="917" cy="2571"/><circle cx="922" cy="2570"/><circle cx="908" cy="2577"/><circle cx="909" cy="2571"/><circle cx="905" cy="2574"/><circle cx="934" cy="2578"/><circle cx="905" cy="2578"/><circle cx="911" cy="2572"/><circle cx="960" cy="2577"/><circle cx="959" cy="2570"/><circle cx="912" cy="2572"/><circle cx="924" cy="2574"/><circle cx="906" cy="2574"/><circle cx="903" cy="2571"/><circle cx="937" cy="2571"/><circle cx="948" cy="2576"/><circle cx="942" cy="2570"/><circle cx="929" cy="2569"/><circle cx="955" cy="2489"/><circle cx="917" cy="2559"/><circle cx="950" cy="2568"/><circle cx="931" cy="2563"/><circle cx="964" cy="2569"/><circle cx="905" cy="2567"/><circle cx="915" cy="2574"/><circle cx="939" cy="2572"/><circle cx="951" cy="2570"/><circle cx="957" cy="2574"/><circle cx="963" cy="2565"/><circle cx="906" cy="2572"/><circle cx="961" cy="2561"/><circle cx="907" cy="2562"/><circle cx="930" cy="2570"/><circle cx="953" cy="2573"/><circle cx="942" cy="2572"/></g>
<g class="k"><circle cx="986" cy="2574"/><circle cx="987" cy="2566"/><circle cx="973" cy="2569"/><circle cx="974" cy="2566"/><circle cx="981" cy="2572"/><circle cx="981" cy="2575"/><circle cx="984" cy="2575"/><circle cx="982" cy="2567"/><circle cx="988" cy="2563"/><circle cx="982" cy="2569"/><circle cx="973" cy="2570"/><circle cx="974" cy="2568"/><circle cx="978" cy="2561"/></g>
<g class="g"><circle cx="1010" cy="2572"/><circle cx="1012" cy="2574"/><circle cx="1028" cy="2579"/><circle cx="1004" cy="2572"/><circle cx="1011" cy="2575"/><circle cx="1009" cy="2570"/><circle cx="1030" cy="2571"/><circle cx="1024" cy="2575"/><circle cx="996" cy="2571"/><circle cx="1016" cy="2576"/><circle cx="1033" cy="2570"/><circle cx="997" cy="2577"/><circle cx="1030" cy="2569"/><circle cx="1010" cy="2570"/><circle cx="1006" cy="2571"/><circle cx="1011" cy="2570"/><circle cx="1005" cy="2572"/><circle cx="1018" cy="2569"/><circle cx="1014" cy="2573"/><circle cx="1013" cy="2560"/><circle cx="1004" cy="2573"/><circle cx="1012" cy="2573"/><circle cx="1004" cy="2572"/><circle cx="1032" cy="2566"/><circle cx="1012" cy="2567"/><circle cx="1012" cy="2567"/></g>
<g class="k"><circle cx="1061" cy="2567"/><circle cx="1051" cy="2575"/><circle cx="1065" cy="2570"/><circle cx="1061" cy="2567"/><circle cx="1046" cy="2573"/><circle cx="1050" cy="2570"/><circle cx="1068" cy="2571"/><circle cx="1056" cy="2570"/><circle cx="1050" cy="2572"/><circle cx="1050" cy="2572"/><circle cx="1065" cy="2571"/><circle cx="1060" cy="2569"/><circle cx="1070" cy="2566"/><circle cx="1070" cy="2566"/><circle cx="1067" cy="2567"/><circle cx="1053" cy="2568"/><circle cx="1065" cy="2564"/><circle cx="1050" cy="2570"/><circle cx="1068" cy="2570"/><circle cx="1052" cy="2568"/><circle cx="1063" cy="2569"/></g>
<g class="g"><circle cx="1118" cy="2575"/><circle cx="1104" cy="2573"/><circle cx="1105" cy="2572"/><circle cx="1100" cy="2567"/><circle cx="1083" cy="2572"/><circle cx="1084" cy="2573"/><circle cx="1110" cy="2575"/><circle cx="1100" cy="2570"/><circle cx="1094" cy="2571"/><circle cx="1112" cy="2575"/><circle cx="1089" cy="2575"/><circle cx="1122" cy="2571"/><circle cx="1105" cy="2576"/><circle cx="1107" cy="2568"/><circle cx="1121" cy="2570"/><circle cx="1087" cy="2574"/><circle cx="1096" cy="2576"/><circle cx="1098" cy="2570"/><circle cx="1088" cy="2561"/><circle cx="1089" cy="2571"/><circle cx="1097" cy="2562"/><circle cx="1128" cy="2534"/><circle cx="1117" cy="2558"/><circle cx="1106" cy="2567"/><circle cx="1094" cy="2548"/><circle cx="1118" cy="2572"/><circle cx="1086" cy="2552"/><circle cx="1123" cy="2484"/><circle cx="1093" cy="2567"/><circle cx="1119" cy="2570"/><circle cx="1105" cy="2571"/><circle cx="1086" cy="2569"/><circle cx="1115" cy="2572"/></g>
<g class="k"><circle cx="1170" cy="2573"/><circle cx="1154" cy="2582"/><circle cx="1209" cy="2573"/><circle cx="1152" cy="2574"/><circle cx="1153" cy="2575"/><circle cx="1141" cy="2578"/><circle cx="1164" cy="2579"/><circle cx="1198" cy="2583"/><circle cx="1201" cy="2572"/><circle cx="1200" cy="2573"/><circle cx="1179" cy="2580"/><circle cx="1163" cy="2581"/><circle cx="1179" cy="2582"/><circle cx="1156" cy="2578"/><circle cx="1172" cy="2574"/><circle cx="1188" cy="2582"/><circle cx="1189" cy="2577"/><circle cx="1164" cy="2575"/><circle cx="1208" cy="2581"/><circle cx="1146" cy="2572"/><circle cx="1166" cy="2582"/><circle cx="1151" cy="2580"/><circle cx="1199" cy="2576"/><circle cx="1182" cy="2579"/><circle cx="1142" cy="2580"/><circle cx="1155" cy="2578"/><circle cx="1153" cy="2553"/><circle cx="1140" cy="2577"/><circle cx="1180" cy="2577"/><circle cx="1182" cy="2567"/><circle cx="1172" cy="2569"/><circle cx="1188" cy="2570"/><circle cx="1208" cy="2576"/><circle cx="1138" cy="2576"/><circle cx="1207" cy="2574"/><circle cx="1172" cy="2571"/><circle cx="1184" cy="2578"/><circle cx="1174" cy="2578"/><circle cx="1171" cy="2578"/><circle cx="1144" cy="2572"/><circle cx="1169" cy="2576"/><circle cx="1195" cy="2577"/><circle cx="1145" cy="2577"/><circle cx="1161" cy="2573"/><circle cx="1199" cy="2576"/><circle cx="1192" cy="2569"/><circle cx="1180" cy="2577"/><circle cx="1149" cy="2560"/></g>
<g class="g"><circle cx="1221" cy="2575"/><circle cx="1217" cy="2576"/><circle cx="1217" cy="2569"/><circle cx="1223" cy="2575"/><circle cx="1228" cy="2567"/><circle cx="1217" cy="2569"/><circle cx="1222" cy="2565"/><circle cx="1226" cy="2557"/><circle cx="1225" cy="2549"/><circle cx="1226" cy="2572"/></g>
<g class="k"><circle cx="1262" cy="2572"/><circle cx="1255" cy="2577"/><circle cx="1274" cy="2581"/><circle cx="1304" cy="2581"/><circle cx="1273" cy="2573"/><circle cx="1253" cy="2581"/><circle cx="1310" cy="2584"/><circle cx="1299" cy="2583"/><circle cx="1246" cy="2576"/><circle cx="1235" cy="2579"/><circle cx="1298" cy="2583"/><circle cx="1286" cy="2576"/><circle cx="1268" cy="2572"/><circle cx="1256" cy="2579"/><circle cx="1270" cy="2574"/><circle cx="1303" cy="2579"/><circle cx="1272" cy="2574"/><circle cx="1268" cy="2583"/><circle cx="1267" cy="2574"/><circle cx="1306" cy="2582"/><circle cx="1238" cy="2570"/><circle cx="1260" cy="2576"/><circle cx="1299" cy="2574"/><circle cx="1293" cy="2579"/><circle cx="1252" cy="2572"/><circle cx="1272" cy="2574"/><circle cx="1239" cy="2581"/><circle cx="1293" cy="2571"/><circle cx="1297" cy="2580"/><circle cx="1296" cy="2578"/><circle cx="1279" cy="2574"/><circle cx="1243" cy="2558"/><circle cx="1301" cy="2572"/><circle cx="1274" cy="2578"/><circle cx="1245" cy="2577"/><circle cx="1303" cy="2558"/><circle cx="1294" cy="2578"/><circle cx="1302" cy="2542"/><circle cx="1239" cy="2570"/><circle cx="1250" cy="2572"/><circle cx="1244" cy="2569"/><circle cx="1291" cy="2571"/><circle cx="1268" cy="2573"/><circle cx="1245" cy="2553"/><circle cx="1289" cy="2574"/><circle cx="1289" cy="2559"/><circle cx="1251" cy="2574"/><circle cx="1254" cy="2575"/><circle cx="1303" cy="2575"/><circle cx="1250" cy="2573"/><circle cx="1270" cy="2558"/></g>
<g class="g"><circle cx="1352" cy="2577"/><circle cx="1326" cy="2579"/><circle cx="1351" cy="2574"/><circle cx="1328" cy="2574"/><circle cx="1343" cy="2578"/><circle cx="1324" cy="2579"/><circle cx="1327" cy="2573"/><circle cx="1329" cy="2580"/><circle cx="1337" cy="2571"/><circle cx="1326" cy="2569"/><circle cx="1325" cy="2577"/><circle cx="1325" cy="2578"/><circle cx="1347" cy="2570"/><circle cx="1340" cy="2574"/><circle cx="1346" cy="2565"/><circle cx="1338" cy="2570"/><circle cx="1331" cy="2574"/><circle cx="1333" cy="2550"/><circle cx="1340" cy="2567"/><circle cx="1325" cy="2557"/><circle cx="1340" cy="2571"/><circle cx="1327" cy="2575"/><circle cx="1336" cy="2572"/></g>
<g class="k"><circle cx="1366" cy="2573"/><circle cx="1364" cy="2573"/><circle cx="1361" cy="2573"/><circle cx="1364" cy="2574"/><circle cx="1367" cy="2564"/><circle cx="1365" cy="2567"/><circle cx="1362" cy="2554"/></g>
<g class="g"><circle cx="1397" cy="2573"/><circle cx="1415" cy="2571"/><circle cx="1376" cy="2574"/><circle cx="1393" cy="2579"/><circle cx="1401" cy="2571"/><circle cx="1405" cy="2574"/><circle cx="1414" cy="2572"/><circle cx="1380" cy="2571"/><circle cx="1381" cy="2575"/><circle cx="1391" cy="2574"/><circle cx="1393" cy="2577"/><circle cx="1392" cy="2569"/><circle cx="1377" cy="2571"/><circle cx="1389" cy="2579"/><circle cx="1394" cy="2574"/><circle cx="1383" cy="2575"/><circle cx="1376" cy="2573"/><circle cx="1387" cy="2566"/><circle cx="1408" cy="2572"/><circle cx="1409" cy="2573"/><circle cx="1407" cy="2572"/><circle cx="1382" cy="2557"/><circle cx="1415" cy="2572"/><circle cx="1403" cy="2569"/><circle cx="1387" cy="2573"/><circle cx="1378" cy="2572"/><circle cx="1398" cy="2573"/><circle cx="1411" cy="2575"/></g>
<g class="k"><circle cx="228" cy="2467"/><circle cx="228" cy="2480"/><circle cx="211" cy="2510"/><circle cx="206" cy="2516"/><circle cx="217" cy="2514"/><circle cx="208" cy="2522"/><circle cx="217" cy="2525"/><circle cx="228" cy="2527"/><circle cx="242" cy="2520"/><circle cx="206" cy="2541"/><circle cx="164" cy="2549"/><circle cx="171" cy="2551"/><circle cx="180" cy="2557"/><circle cx="182" cy="2563"/><circle cx="228" cy="2549"/><circle cx="231" cy="2558"/><circle cx="242" cy="2556"/><circle cx="242" cy="2560"/><circle cx="257" cy="2542"/><circle cx="260" cy="2559"/><circle cx="203" cy="2559"/><circle cx="277" cy="2540"/><circle cx="277" cy="2551"/><circle cx="283" cy="2551"/><circle cx="228" cy="2466"/></g>
<g class="g"><circle cx="345" cy="2457"/><circle cx="298" cy="2512"/><circle cx="325" cy="2509"/><circle cx="346" cy="2514"/><circle cx="346" cy="2520"/><circle cx="339" cy="2525"/><circle cx="344" cy="2532"/><circle cx="347" cy="2536"/><circle cx="348" cy="2546"/><circle cx="365" cy="2512"/><circle cx="370" cy="2525"/><circle cx="360" cy="2543"/><circle cx="326" cy="2540"/><circle cx="306" cy="2550"/><circle cx="313" cy="2546"/><circle cx="320" cy="2549"/><circle cx="320" cy="2556"/><circle cx="353" cy="2561"/><circle cx="290" cy="2560"/><circle cx="345" cy="2457"/></g>
<g class="k"><circle cx="378" cy="2476"/><circle cx="409" cy="2472"/><circle cx="416" cy="2468"/><circle cx="425" cy="2512"/><circle cx="386" cy="2528"/><circle cx="393" cy="2532"/><circle cx="402" cy="2531"/><circle cx="416" cy="2528"/><circle cx="395" cy="2541"/><circle cx="410" cy="2543"/><circle cx="429" cy="2542"/><circle cx="429" cy="2549"/><circle cx="373" cy="2550"/><circle cx="443" cy="2546"/><circle cx="443" cy="2555"/><circle cx="415" cy="2466"/></g>
<g class="g"><circle cx="448" cy="2512"/><circle cx="456" cy="2475"/><circle cx="450" cy="2512"/><circle cx="483" cy="2491"/><circle cx="456" cy="2546"/><circle cx="473" cy="2552"/><circle cx="464" cy="2560"/></g>
<g class="k"><circle cx="431" cy="2544"/><circle cx="530" cy="2468"/><circle cx="491" cy="2479"/><circle cx="491" cy="2492"/><circle cx="502" cy="2522"/><circle cx="503" cy="2531"/><circle cx="514" cy="2531"/><circle cx="509" cy="2551"/><circle cx="517" cy="2548"/><circle cx="522" cy="2554"/><circle cx="542" cy="2558"/><circle cx="530" cy="2467"/></g>
<g class="g"><circle cx="578" cy="2457"/><circle cx="565" cy="2469"/><circle cx="561" cy="2475"/><circle cx="562" cy="2501"/><circle cx="562" cy="2513"/><circle cx="562" cy="2520"/><circle cx="562" cy="2530"/><circle cx="571" cy="2524"/><circle cx="553" cy="2538"/><circle cx="562" cy="2540"/><circle cx="570" cy="2539"/><circle cx="580" cy="2546"/><circle cx="593" cy="2501"/><circle cx="603" cy="2501"/><circle cx="604" cy="2519"/><circle cx="604" cy="2528"/><circle cx="601" cy="2543"/><circle cx="608" cy="2554"/><circle cx="610" cy="2468"/><circle cx="596" cy="2557"/><circle cx="566" cy="2468"/><circle cx="610" cy="2466"/><circle cx="579" cy="2456"/></g>
<g class="k"><circle cx="637" cy="2466"/><circle cx="658" cy="2485"/><circle cx="647" cy="2503"/><circle cx="659" cy="2503"/><circle cx="659" cy="2519"/><circle cx="640" cy="2528"/><circle cx="638" cy="2544"/><circle cx="650" cy="2543"/><circle cx="672" cy="2535"/><circle cx="679" cy="2528"/></g>
<g class="g"><circle cx="674" cy="2541"/></g>
<g class="k"><circle cx="679" cy="2551"/><circle cx="659" cy="2551"/><circle cx="660" cy="2557"/><circle cx="670" cy="2561"/><circle cx="637" cy="2465"/></g>
<g class="g"><circle cx="698" cy="2462"/><circle cx="703" cy="2548"/><circle cx="716" cy="2550"/><circle cx="684" cy="2560"/><circle cx="698" cy="2461"/><circle cx="702" cy="2462"/><circle cx="704" cy="2548"/><circle cx="716" cy="2550"/></g>
<g class="k"><circle cx="724" cy="2544"/><circle cx="740" cy="2498"/><circle cx="743" cy="2514"/><circle cx="746" cy="2531"/><circle cx="736" cy="2540"/><circle cx="747" cy="2543"/><circle cx="731" cy="2555"/><circle cx="732" cy="2563"/><circle cx="747" cy="2560"/><circle cx="772" cy="2534"/></g>
<g class="g"><circle cx="793" cy="2480"/><circle cx="776" cy="2524"/><circle cx="792" cy="2526"/><circle cx="804" cy="2540"/><circle cx="791" cy="2549"/><circle cx="806" cy="2554"/><circle cx="822" cy="2538"/><circle cx="823" cy="2518"/></g>
<g class="k"><circle cx="852" cy="2480"/><circle cx="883" cy="2474"/><circle cx="852" cy="2498"/><circle cx="852" cy="2510"/><circle cx="870" cy="2495"/><circle cx="825" cy="2510"/><circle cx="871" cy="2543"/><circle cx="842" cy="2553"/><circle cx="882" cy="2557"/><circle cx="883" cy="2474"/></g>
<g class="g"><circle cx="937" cy="2497"/><circle cx="922" cy="2504"/><circle cx="926" cy="2517"/><circle cx="918" cy="2526"/><circle cx="954" cy="2512"/><circle cx="958" cy="2523"/><circle cx="927" cy="2539"/><circle cx="935" cy="2541"/><circle cx="915" cy="2552"/><circle cx="906" cy="2558"/><circle cx="934" cy="2560"/><circle cx="964" cy="2544"/><circle cx="973" cy="2548"/><circle cx="954" cy="2553"/></g>
<g class="k"><circle cx="979" cy="2462"/><circle cx="975" cy="2480"/><circle cx="982" cy="2516"/><circle cx="985" cy="2544"/><circle cx="981" cy="2566"/><circle cx="979" cy="2461"/><circle cx="975" cy="2478"/></g>
<g class="g"><circle cx="1014" cy="2482"/><circle cx="1017" cy="2498"/><circle cx="1018" cy="2514"/><circle cx="1003" cy="2523"/><circle cx="1037" cy="2530"/><circle cx="1028" cy="2540"/><circle cx="1016" cy="2545"/><circle cx="1040" cy="2544"/><circle cx="1008" cy="2554"/><circle cx="1014" cy="2479"/></g>
<g class="k"><circle cx="1068" cy="2492"/><circle cx="1047" cy="2501"/><circle cx="1059" cy="2507"/><circle cx="1070" cy="2529"/><circle cx="1058" cy="2546"/><circle cx="1069" cy="2548"/><circle cx="1076" cy="2548"/></g>
<g class="g"><circle cx="1082" cy="2542"/></g>
<g class="k"><circle cx="1062" cy="2555"/><circle cx="1047" cy="2561"/></g>
<g class="g"><circle cx="1127" cy="2463"/><circle cx="1122" cy="2480"/><circle cx="1122" cy="2485"/><circle cx="1099" cy="2502"/><circle cx="1099" cy="2505"/><circle cx="1115" cy="2520"/><circle cx="1115" cy="2525"/><circle cx="1128" cy="2522"/><circle cx="1128" cy="2526"/><circle cx="1127" cy="2543"/><circle cx="1097" cy="2556"/><circle cx="1122" cy="2558"/><circle cx="1121" cy="2478"/></g>
<g class="k"><circle cx="1167" cy="2540"/><circle cx="1141" cy="2550"/><circle cx="1149" cy="2556"/><circle cx="1136" cy="2562"/><circle cx="1147" cy="2560"/><circle cx="1187" cy="2542"/><circle cx="1194" cy="2531"/><circle cx="1199" cy="2534"/><circle cx="1209" cy="2535"/><circle cx="1200" cy="2549"/><circle cx="1218" cy="2549"/><circle cx="1190" cy="2561"/><circle cx="1205" cy="2562"/><circle cx="1217" cy="2560"/><circle cx="1210" cy="2508"/><circle cx="1218" cy="2519"/><circle cx="1218" cy="2483"/><circle cx="1218" cy="2542"/><circle cx="1217" cy="2479"/></g>
<g class="g"><circle cx="1231" cy="2463"/><circle cx="1230" cy="2501"/><circle cx="1236" cy="2510"/><circle cx="1233" cy="2564"/><circle cx="1231" cy="2462"/></g>
<g class="k"><circle cx="1256" cy="2541"/><circle cx="1250" cy="2548"/><circle cx="1241" cy="2561"/><circle cx="1248" cy="2563"/><circle cx="1256" cy="2541"/><circle cx="1252" cy="2547"/><circle cx="1298" cy="2565"/><circle cx="1315" cy="2567"/><circle cx="1275" cy="2569"/><circle cx="1283" cy="2570"/><circle cx="1318" cy="2555"/></g>
<g class="g"><circle cx="1335" cy="2530"/><circle cx="1332" cy="2535"/><circle cx="1328" cy="2544"/><circle cx="1327" cy="2554"/><circle cx="1327" cy="2562"/><circle cx="1351" cy="2523"/><circle cx="1354" cy="2547"/><circle cx="1347" cy="2552"/><circle cx="1340" cy="2559"/><circle cx="1352" cy="2557"/><circle cx="1358" cy="2569"/></g>
<g class="k"><circle cx="1364" cy="2482"/><circle cx="1364" cy="2510"/></g>
<g class="g"><circle cx="1377" cy="2479"/></g>
<g class="k"><circle cx="1376" cy="2536"/><circle cx="1367" cy="2549"/></g>
<g class="g"><circle cx="1378" cy="2548"/></g>
<g class="k"><circle cx="1374" cy="2568"/></g>
<g class="g"><circle cx="1409" cy="2465"/><circle cx="1408" cy="2501"/><circle cx="1396" cy="2508"/><circle cx="1391" cy="2531"/><circle cx="1408" cy="2538"/><circle cx="1409" cy="2550"/><circle cx="1411" cy="2564"/><circle cx="1413" cy="2571"/><circle cx="1395" cy="2547"/><circle cx="1390" cy="2551"/><circle cx="1395" cy="2562"/><circle cx="1410" cy="2467"/></g>
<line x1="101.5" y1="2444.8" x2="1477" y2="2444.8" stroke="#333" stroke-width="2.3" stroke-dasharray="12.7 12"/>
<rect x="337.6" y="2098.2" width="80.7" height="18.7" rx="2.5" fill="#E64B35" stroke="#111" stroke-width="1.3"/>
<text x="378.0" y="2113.3" font-size="16.8" fill="#000" text-anchor="middle" textLength="71.2" lengthAdjust="spacingAndGlyphs" stroke="#000" stroke-width="0.35">WDSUB1</text>
<rect x="337.6" y="2297.3" width="80.7" height="18.7" rx="2.5" fill="#00A087" stroke="#111" stroke-width="1.3"/>
<text x="378.0" y="2312.4" font-size="16.8" fill="#000" text-anchor="middle" textLength="71.2" lengthAdjust="spacingAndGlyphs" stroke="#000" stroke-width="0.35">WDSUB1</text>
<rect x="104.4" y="2386.2" width="63.7" height="18.4" rx="2.5" fill="#E64B35" stroke="#111" stroke-width="1.3"/>
<text x="136.2" y="2401.0" font-size="16.8" fill="#000" text-anchor="middle" textLength="54.2" lengthAdjust="spacingAndGlyphs" stroke="#000" stroke-width="0.35">ACOT7</text>
<rect x="216.9" y="2381.8" width="90.3" height="17.8" rx="2.5" fill="#E64B35" stroke="#111" stroke-width="1.3"/>
<text x="262.1" y="2396.0" font-size="16.8" fill="#000" text-anchor="middle" textLength="80.8" lengthAdjust="spacingAndGlyphs" stroke="#000" stroke-width="0.35">SLC25A24</text>
<rect x="194.1" y="2427.1" width="33.2" height="17.7" rx="2.5" fill="#E64B35" stroke="#111" stroke-width="1.3"/>
<text x="210.7" y="2441.2" font-size="16.8" fill="#000" text-anchor="middle" textLength="23.7" lengthAdjust="spacingAndGlyphs" stroke="#000" stroke-width="0.35">HYI</text>
<rect x="235.6" y="2429.2" width="49.4" height="17.7" rx="2.5" fill="#E64B35" stroke="#111" stroke-width="1.3"/>
<text x="260.3" y="2443.3" font-size="16.8" fill="#000" text-anchor="middle" textLength="39.9" lengthAdjust="spacingAndGlyphs" stroke="#000" stroke-width="0.35">ACP1</text>
<rect x="304.2" y="2412.9" width="40.0" height="17.7" rx="2.5" fill="#00A087" stroke="#111" stroke-width="1.3"/>
<text x="324.2" y="2427.0" font-size="16.8" fill="#000" text-anchor="middle" textLength="30.5" lengthAdjust="spacingAndGlyphs" stroke="#000" stroke-width="0.35">KHK</text>
<rect x="329.4" y="2385.6" width="53.3" height="17.8" rx="2.5" fill="#E64B35" stroke="#111" stroke-width="1.3"/>
<text x="356.0" y="2399.8" font-size="16.8" fill="#000" text-anchor="middle" textLength="43.8" lengthAdjust="spacingAndGlyphs" stroke="#000" stroke-width="0.35">ICA1L</text>
<rect x="393" y="2358.1" width="60.7" height="18.4" rx="2.5" fill="#F39B7F" stroke="#111" stroke-width="1.3"/>
<text x="423.4" y="2372.9" font-size="16.8" fill="#000" text-anchor="middle" textLength="51.2" lengthAdjust="spacingAndGlyphs" stroke="#000" stroke-width="0.35">LARS2</text>
<rect x="400.4" y="2398.7" width="85.9" height="18.6" rx="2.5" fill="#F39B7F" stroke="#111" stroke-width="1.3"/>
<text x="443.4" y="2413.7" font-size="16.8" fill="#000" text-anchor="middle" textLength="76.4" lengthAdjust="spacingAndGlyphs" stroke="#000" stroke-width="0.35">CCDC127</text>
<rect x="411.4" y="2424.7" width="56.2" height="18.7" rx="2.5" fill="#E64B35" stroke="#111" stroke-width="1.3"/>
<text x="439.5" y="2439.8" font-size="16.8" fill="#000" text-anchor="middle" textLength="46.7" lengthAdjust="spacingAndGlyphs" stroke="#000" stroke-width="0.35">CISD2</text>
<rect x="567.3" y="2298" width="56.3" height="19.5" rx="2.5" fill="#F39B7F" stroke="#111" stroke-width="1.3"/>
<text x="595.5" y="2313.9" font-size="16.8" fill="#000" text-anchor="middle" textLength="46.8" lengthAdjust="spacingAndGlyphs" stroke="#000" stroke-width="0.35">HLA-A</text>
<rect x="639.8" y="2295.9" width="75.5" height="17.7" rx="2.5" fill="#E64B35" stroke="#111" stroke-width="1.3"/>
<text x="677.5" y="2310.0" font-size="16.8" fill="#000" text-anchor="middle" textLength="66.0" lengthAdjust="spacingAndGlyphs" stroke="#000" stroke-width="0.35">ABHD11</text>
<rect x="763.5" y="2320.4" width="94.8" height="18.4" rx="2.5" fill="#F39B7F" stroke="#111" stroke-width="1.3"/>
<text x="810.9" y="2335.2" font-size="16.8" fill="#000" text-anchor="middle" textLength="85.3" lengthAdjust="spacingAndGlyphs" stroke="#000" stroke-width="0.35">HSD17B12</text>
<rect x="614.7" y="2333.5" width="63.0" height="17.7" rx="2.5" fill="#E64B35" stroke="#111" stroke-width="1.3"/>
<text x="646.2" y="2347.6" font-size="16.8" fill="#000" text-anchor="middle" textLength="53.5" lengthAdjust="spacingAndGlyphs" stroke="#000" stroke-width="0.35">PCMT1</text>
<rect x="500.7" y="2348.3" width="56.8" height="17.7" rx="2.5" fill="#E64B35" stroke="#111" stroke-width="1.3"/>
<text x="529.1" y="2362.4" font-size="16.8" fill="#000" text-anchor="middle" textLength="47.3" lengthAdjust="spacingAndGlyphs" stroke="#000" stroke-width="0.35">HLA-A</text>
<rect x="500.7" y="2376.7" width="60.7" height="18.3" rx="2.5" fill="#E64B35" stroke="#111" stroke-width="1.3"/>
<text x="531.0" y="2391.4" font-size="16.8" fill="#000" text-anchor="middle" textLength="51.2" lengthAdjust="spacingAndGlyphs" stroke="#000" stroke-width="0.35">HLA-A</text>
<rect x="567.3" y="2377.3" width="98.6" height="18.3" rx="2.5" fill="#E64B35" stroke="#111" stroke-width="1.3"/>
<text x="616.6" y="2392.0" font-size="16.8" fill="#000" text-anchor="middle" textLength="89.1" lengthAdjust="spacingAndGlyphs" stroke="#000" stroke-width="0.35">TMEM106B</text>
<rect x="556.4" y="2403.9" width="52.4" height="18.4" rx="2.5" fill="#E64B35" stroke="#111" stroke-width="1.3"/>
<text x="582.6" y="2418.7" font-size="16.8" fill="#000" text-anchor="middle" textLength="42.9" lengthAdjust="spacingAndGlyphs" stroke="#000" stroke-width="0.35">SOD2</text>
<rect x="668" y="2403.9" width="73.0" height="17.8" rx="2.5" fill="#00A087" stroke="#111" stroke-width="1.3"/>
<text x="704.5" y="2418.1" font-size="16.8" fill="#000" text-anchor="middle" textLength="63.5" lengthAdjust="spacingAndGlyphs" stroke="#000" stroke-width="0.35">ADHFE1</text>
<rect x="747.9" y="2421.7" width="100.6" height="17.7" rx="2.5" fill="#E64B35" stroke="#111" stroke-width="1.3"/>
<text x="798.2" y="2435.8" font-size="16.8" fill="#000" text-anchor="middle" textLength="91.1" lengthAdjust="spacingAndGlyphs" stroke="#000" stroke-width="0.35">NIPSNAP3B</text>
<rect x="539.2" y="2435.9" width="48.8" height="18.3" rx="2.5" fill="#E64B35" stroke="#111" stroke-width="1.3"/>
<text x="563.6" y="2450.6" font-size="16.8" fill="#000" text-anchor="middle" textLength="39.3" lengthAdjust="spacingAndGlyphs" stroke="#000" stroke-width="0.35">NT5E</text>
<rect x="598.4" y="2430" width="37.0" height="17.7" rx="2.5" fill="#00A087" stroke="#111" stroke-width="1.3"/>
<text x="616.9" y="2444.1" font-size="16.8" fill="#000" text-anchor="middle" textLength="27.5" lengthAdjust="spacingAndGlyphs" stroke="#000" stroke-width="0.35">ASL</text>
<rect x="644.3" y="2437.1" width="80.8" height="17.7" rx="2.5" fill="#E64B35" stroke="#111" stroke-width="1.3"/>
<text x="684.7" y="2451.2" font-size="16.8" fill="#000" text-anchor="middle" textLength="71.3" lengthAdjust="spacingAndGlyphs" stroke="#000" stroke-width="0.35">GTPBP10</text>
<rect x="827.8" y="2448.9" width="54.7" height="18.6" rx="2.5" fill="#4DBBD5" stroke="#111" stroke-width="1.3"/>
<text x="855.1" y="2463.9" font-size="16.8" fill="#000" text-anchor="middle" textLength="45.2" lengthAdjust="spacingAndGlyphs" stroke="#000" stroke-width="0.35">UROS</text>
<rect x="757.5" y="2106.6" width="75.4" height="19.2" rx="2.5" fill="#E64B35" stroke="#111" stroke-width="1.3"/>
<text x="795.2" y="2122.2" font-size="16.8" fill="#000" text-anchor="middle" textLength="65.9" lengthAdjust="spacingAndGlyphs" stroke="#000" stroke-width="0.35">PHYHD1</text>
<rect x="884.8" y="2172.7" width="68.6" height="19.4" rx="2.5" fill="#E64B35" stroke="#111" stroke-width="1.3"/>
<text x="919.1" y="2188.5" font-size="16.8" fill="#000" text-anchor="middle" textLength="59.1" lengthAdjust="spacingAndGlyphs" stroke="#000" stroke-width="0.35">AAMDC</text>
<rect x="830.1" y="2203.9" width="53.7" height="18.2" rx="2.5" fill="#4DBBD5" stroke="#111" stroke-width="1.3"/>
<text x="857.0" y="2218.5" font-size="16.8" fill="#000" text-anchor="middle" textLength="44.2" lengthAdjust="spacingAndGlyphs" stroke="#000" stroke-width="0.35">RNH1</text>
<rect x="1392" y="2112.1" width="60.5" height="18.3" rx="2.5" fill="#E64B35" stroke="#111" stroke-width="1.3"/>
<text x="1422.2" y="2126.8" font-size="16.8" fill="#000" text-anchor="middle" textLength="51.0" lengthAdjust="spacingAndGlyphs" stroke="#000" stroke-width="0.35">GSTT1</text>
<rect x="1314.8" y="2231.7" width="72.2" height="18.3" rx="2.5" fill="#E64B35" stroke="#111" stroke-width="1.3"/>
<text x="1350.9" y="2246.4" font-size="16.8" fill="#000" text-anchor="middle" textLength="62.7" lengthAdjust="spacingAndGlyphs" stroke="#000" stroke-width="0.35">GSTT2B</text>
<rect x="1381.1" y="2272.1" width="36.3" height="18.7" rx="2.5" fill="#E64B35" stroke="#111" stroke-width="1.3"/>
<text x="1399.2" y="2287.2" font-size="16.8" fill="#000" text-anchor="middle" textLength="26.8" lengthAdjust="spacingAndGlyphs" stroke="#000" stroke-width="0.35">LSS</text>
<rect x="1274.2" y="2368.1" width="61.8" height="18.4" rx="2.5" fill="#F39B7F" stroke="#111" stroke-width="1.3"/>
<text x="1305.1" y="2382.9" font-size="16.8" fill="#000" text-anchor="middle" textLength="52.3" lengthAdjust="spacingAndGlyphs" stroke="#000" stroke-width="0.35">CPNE1</text>
<rect x="1393.7" y="2384.8" width="78.5" height="19.2" rx="2.5" fill="#91D1C2" stroke="#111" stroke-width="1.3"/>
<text x="1433.0" y="2400.4" font-size="16.8" fill="#000" text-anchor="middle" textLength="69.0" lengthAdjust="spacingAndGlyphs" stroke="#000" stroke-width="0.35">SAMM50</text>
<rect x="1281.4" y="2425.7" width="42.1" height="18.8" rx="2.5" fill="#F39B7F" stroke="#111" stroke-width="1.3"/>
<text x="1302.5" y="2440.9" font-size="16.8" fill="#000" text-anchor="middle" textLength="32.6" lengthAdjust="spacingAndGlyphs" stroke="#000" stroke-width="0.35">ITPA</text>
<rect x="1339.4" y="2421.6" width="42.2" height="17.8" rx="2.5" fill="#E64B35" stroke="#111" stroke-width="1.3"/>
<text x="1360.5" y="2435.8" font-size="16.8" fill="#000" text-anchor="middle" textLength="32.7" lengthAdjust="spacingAndGlyphs" stroke="#000" stroke-width="0.35">DDT</text>
<rect x="1402.4" y="2446.6" width="52.2" height="18.4" rx="2.5" fill="#E64B35" stroke="#111" stroke-width="1.3"/>
<text x="1428.5" y="2461.4" font-size="16.8" fill="#000" text-anchor="middle" textLength="42.7" lengthAdjust="spacingAndGlyphs" stroke="#000" stroke-width="0.35">IFT27</text>
<rect x="913.5" y="2376.3" width="70.9" height="18.8" rx="2.5" fill="#E64B35" stroke="#111" stroke-width="1.3"/>
<text x="949.0" y="2391.5" font-size="16.8" fill="#000" text-anchor="middle" textLength="61.4" lengthAdjust="spacingAndGlyphs" stroke="#000" stroke-width="0.35">CAB39L</text>
<rect x="1065.3" y="2342.3" width="59.7" height="18.8" rx="2.5" fill="#E64B35" stroke="#111" stroke-width="1.3"/>
<text x="1095.2" y="2357.5" font-size="16.8" fill="#000" text-anchor="middle" textLength="50.2" lengthAdjust="spacingAndGlyphs" stroke="#000" stroke-width="0.35">LACTB</text>
<rect x="1053.5" y="2369.1" width="82.3" height="18.7" rx="2.5" fill="#E64B35" stroke="#111" stroke-width="1.3"/>
<text x="1094.7" y="2384.2" font-size="16.8" fill="#000" text-anchor="middle" textLength="72.8" lengthAdjust="spacingAndGlyphs" stroke="#000" stroke-width="0.35">NDUFAF1</text>
<rect x="1031.3" y="2409.3" width="59.7" height="17.9" rx="2.5" fill="#F39B7F" stroke="#111" stroke-width="1.3"/>
<text x="1061.2" y="2423.6" font-size="16.8" fill="#000" text-anchor="middle" textLength="50.2" lengthAdjust="spacingAndGlyphs" stroke="#000" stroke-width="0.35">ACYP1</text>
<rect x="926.9" y="2437.1" width="63.4" height="18.2" rx="2.5" fill="#F39B7F" stroke="#111" stroke-width="1.3"/>
<text x="958.6" y="2451.7" font-size="16.8" fill="#000" text-anchor="middle" textLength="53.9" lengthAdjust="spacingAndGlyphs" stroke="#000" stroke-width="0.35">CARKD</text>
<rect x="1073.4" y="2439.8" width="49.0" height="18.7" rx="2.5" fill="#E64B35" stroke="#111" stroke-width="1.3"/>
<text x="1097.9" y="2454.9" font-size="16.8" fill="#000" text-anchor="middle" textLength="39.5" lengthAdjust="spacingAndGlyphs" stroke="#000" stroke-width="0.35">ULK3</text>
<circle cx="341.1" cy="2121.5" r="9.6" fill="#E64B35"/>
<circle cx="341.1" cy="2121.5" r="5.5" fill="#8a8a8a"/>
<circle cx="341.1" cy="2319.5" r="9.6" fill="#00A087"/>
<circle cx="341.1" cy="2319.5" r="5.5" fill="#8a8a8a"/>
<circle cx="169.6" cy="2408.4" r="9.6" fill="#E64B35"/>
<circle cx="169.6" cy="2408.4" r="5.5" fill="#2a2a2a"/>
<circle cx="225.8" cy="2404" r="9.6" fill="#E64B35"/>
<circle cx="225.8" cy="2404" r="5.5" fill="#2a2a2a"/>
<circle cx="203" cy="2421.8" r="9.6" fill="#E64B35"/>
<circle cx="203" cy="2421.8" r="5.5" fill="#2a2a2a"/>
<circle cx="289.4" cy="2426.2" r="9.6" fill="#E64B35"/>
<circle cx="289.4" cy="2426.2" r="5.5" fill="#8a8a8a"/>
<circle cx="298.3" cy="2409.9" r="9.6" fill="#00A087"/>
<circle cx="298.3" cy="2409.9" r="5.5" fill="#8a8a8a"/>
<circle cx="354.5" cy="2407.5" r="9.6" fill="#E64B35"/>
<circle cx="354.5" cy="2407.5" r="5.5" fill="#8a8a8a"/>
<circle cx="387.7" cy="2380.3" r="9.6" fill="#F39B7F"/>
<circle cx="387.7" cy="2380.3" r="5.5" fill="#2a2a2a"/>
<circle cx="491.3" cy="2404.6" r="9.6" fill="#F39B7F"/>
<circle cx="491.3" cy="2404.6" r="5.5" fill="#2a2a2a"/>
<circle cx="473.5" cy="2421.8" r="9.6" fill="#E64B35"/>
<circle cx="473.5" cy="2421.8" r="5.5" fill="#8a8a8a"/>
<circle cx="562.3" cy="2319.6" r="9.6" fill="#F39B7F"/>
<circle cx="562.3" cy="2319.6" r="5.5" fill="#8a8a8a"/>
<circle cx="641.3" cy="2318.1" r="9.6" fill="#E64B35"/>
<circle cx="641.3" cy="2318.1" r="5.5" fill="#2a2a2a"/>
<circle cx="847" cy="2315.7" r="9.6" fill="#F39B7F"/>
<circle cx="847" cy="2315.7" r="5.5" fill="#2a2a2a"/>
<circle cx="610.2" cy="2355.1" r="9.6" fill="#E64B35"/>
<circle cx="610.2" cy="2355.1" r="5.5" fill="#8a8a8a"/>
<circle cx="562.3" cy="2369.9" r="9.6" fill="#E64B35"/>
<circle cx="562.3" cy="2369.9" r="5.5" fill="#8a8a8a"/>
<circle cx="562.3" cy="2398" r="9.6" fill="#E64B35"/>
<circle cx="562.3" cy="2398" r="5.5" fill="#8a8a8a"/>
<circle cx="625.6" cy="2405.4" r="9.6" fill="#E64B35"/>
<circle cx="625.6" cy="2405.4" r="5.5" fill="#2a2a2a"/>
<circle cx="614.7" cy="2422.3" r="9.6" fill="#E64B35"/>
<circle cx="614.7" cy="2422.3" r="5.5" fill="#8a8a8a"/>
<circle cx="697.5" cy="2427" r="9.6" fill="#00A087"/>
<circle cx="697.5" cy="2427" r="5.5" fill="#8a8a8a"/>
<circle cx="744" cy="2430.5" r="9.6" fill="#E64B35"/>
<circle cx="744" cy="2430.5" r="5.5" fill="#2a2a2a"/>
<circle cx="592.5" cy="2432" r="9.6" fill="#E64B35"/>
<circle cx="592.5" cy="2432" r="5.5" fill="#8a8a8a"/>
<circle cx="639.8" cy="2425.2" r="9.6" fill="#00A087"/>
<circle cx="639.8" cy="2425.2" r="5.5" fill="#2a2a2a"/>
<circle cx="647.2" cy="2431.1" r="9.6" fill="#E64B35"/>
<circle cx="647.2" cy="2431.1" r="5.5" fill="#2a2a2a"/>
<circle cx="820.4" cy="2443.9" r="9.6" fill="#4DBBD5"/>
<circle cx="820.4" cy="2443.9" r="5.5" fill="#8a8a8a"/>
<circle cx="759.5" cy="2102.1" r="9.6" fill="#E64B35"/>
<circle cx="759.5" cy="2102.1" r="5.5" fill="#2a2a2a"/>
<circle cx="882.8" cy="2195.4" r="9.6" fill="#E64B35"/>
<circle cx="882.8" cy="2195.4" r="5.5" fill="#2a2a2a"/>
<circle cx="825" cy="2225" r="9.6" fill="#4DBBD5"/>
<circle cx="825" cy="2225" r="5.5" fill="#2a2a2a"/>
<circle cx="1387" cy="2134.3" r="9.6" fill="#E64B35"/>
<circle cx="1387" cy="2134.3" r="5.5" fill="#8a8a8a"/>
<circle cx="1386.6" cy="2226.7" r="9.6" fill="#E64B35"/>
<circle cx="1386.6" cy="2226.7" r="5.5" fill="#8a8a8a"/>
<circle cx="1375.3" cy="2290.1" r="9.6" fill="#E64B35"/>
<circle cx="1375.3" cy="2290.1" r="5.5" fill="#2a2a2a"/>
<circle cx="1340.2" cy="2390.7" r="9.6" fill="#F39B7F"/>
<circle cx="1340.2" cy="2390.7" r="5.5" fill="#8a8a8a"/>
<circle cx="1407.9" cy="2408.2" r="9.6" fill="#91D1C2"/>
<circle cx="1407.9" cy="2408.2" r="5.5" fill="#8a8a8a"/>
<circle cx="1328.2" cy="2424.9" r="9.6" fill="#F39B7F"/>
<circle cx="1328.2" cy="2424.9" r="5.5" fill="#8a8a8a"/>
<circle cx="1386.6" cy="2419.9" r="9.6" fill="#E64B35"/>
<circle cx="1386.6" cy="2419.9" r="5.5" fill="#8a8a8a"/>
<circle cx="1397" cy="2437.8" r="9.6" fill="#E64B35"/>
<circle cx="1397" cy="2437.8" r="5.5" fill="#8a8a8a"/>
<circle cx="985" cy="2399.1" r="9.6" fill="#E64B35"/>
<circle cx="985" cy="2399.1" r="5.5" fill="#2a2a2a"/>
<circle cx="1060" cy="2364.3" r="9.6" fill="#E64B35"/>
<circle cx="1060" cy="2364.3" r="5.5" fill="#2a2a2a"/>
<circle cx="1047.4" cy="2391.6" r="9.6" fill="#E64B35"/>
<circle cx="1047.4" cy="2391.6" r="5.5" fill="#2a2a2a"/>
<circle cx="1026" cy="2430.7" r="9.6" fill="#F39B7F"/>
<circle cx="1026" cy="2430.7" r="5.5" fill="#8a8a8a"/>
<circle cx="994.6" cy="2431.8" r="9.6" fill="#F39B7F"/>
<circle cx="994.6" cy="2431.8" r="5.5" fill="#2a2a2a"/>
<circle cx="1068" cy="2437.9" r="9.6" fill="#E64B35"/>
<circle cx="1068" cy="2437.9" r="5.5" fill="#2a2a2a"/></svg></body></html>
